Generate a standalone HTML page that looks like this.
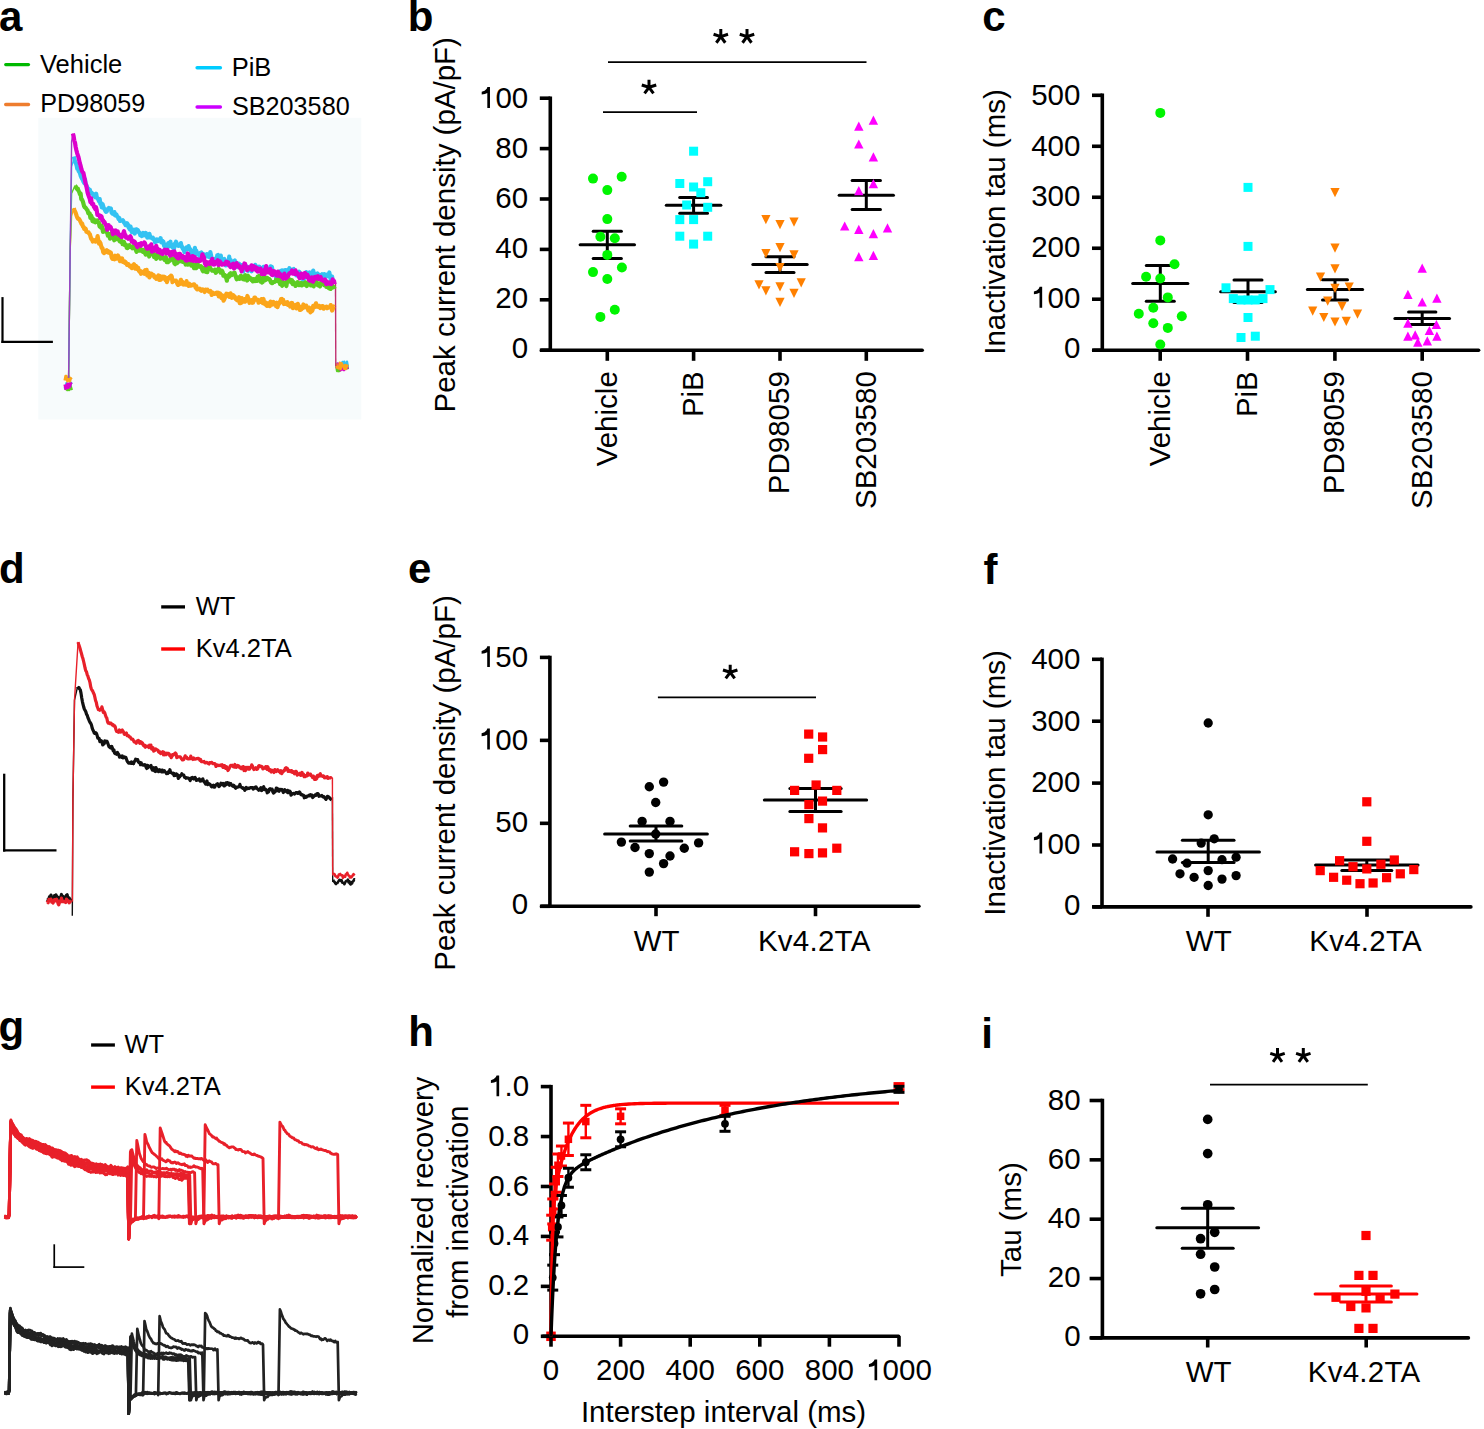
<!DOCTYPE html>
<html><head><meta charset="utf-8"><style>
html,body{margin:0;padding:0;background:#fff;}
svg{display:block;font-family:"Liberation Sans", sans-serif;}
</style></head><body>
<svg width="1484" height="1429" viewBox="0 0 1484 1429">
<rect width="1484" height="1429" fill="#fff"/>
<line x1="580.1" y1="244.7" x2="634.5" y2="244.7" stroke="#000" stroke-width="3.0" stroke-linecap="round"/>
<line x1="593.2" y1="231.3" x2="621.4" y2="231.3" stroke="#000" stroke-width="3.0" stroke-linecap="round"/>
<line x1="593.2" y1="258.5" x2="621.4" y2="258.5" stroke="#000" stroke-width="3.0" stroke-linecap="round"/>
<line x1="607.3" y1="231.3" x2="607.3" y2="258.5" stroke="#000" stroke-width="3.0" stroke-linecap="butt"/>
<line x1="666.3" y1="205.2" x2="720.9" y2="205.2" stroke="#000" stroke-width="3.0" stroke-linecap="round"/>
<line x1="679.7" y1="197.5" x2="707.5" y2="197.5" stroke="#000" stroke-width="3.0" stroke-linecap="round"/>
<line x1="679.7" y1="213.2" x2="707.5" y2="213.2" stroke="#000" stroke-width="3.0" stroke-linecap="round"/>
<line x1="693.6" y1="197.5" x2="693.6" y2="213.2" stroke="#000" stroke-width="3.0" stroke-linecap="butt"/>
<line x1="752.8" y1="264.4" x2="807.2" y2="264.4" stroke="#000" stroke-width="3.0" stroke-linecap="round"/>
<line x1="766" y1="256.7" x2="794" y2="256.7" stroke="#000" stroke-width="3.0" stroke-linecap="round"/>
<line x1="766" y1="272.6" x2="794" y2="272.6" stroke="#000" stroke-width="3.0" stroke-linecap="round"/>
<line x1="780" y1="256.7" x2="780" y2="272.6" stroke="#000" stroke-width="3.0" stroke-linecap="butt"/>
<line x1="839.15" y1="195.2" x2="893.45" y2="195.2" stroke="#000" stroke-width="3.0" stroke-linecap="round"/>
<line x1="852.15" y1="180.6" x2="880.45" y2="180.6" stroke="#000" stroke-width="3.0" stroke-linecap="round"/>
<line x1="852.15" y1="209.6" x2="880.45" y2="209.6" stroke="#000" stroke-width="3.0" stroke-linecap="round"/>
<line x1="866.3" y1="180.6" x2="866.3" y2="209.6" stroke="#000" stroke-width="3.0" stroke-linecap="butt"/>
<line x1="1132.7" y1="283.6" x2="1187.9" y2="283.6" stroke="#000" stroke-width="3.0" stroke-linecap="round"/>
<line x1="1146.3" y1="265.5" x2="1174.3" y2="265.5" stroke="#000" stroke-width="3.0" stroke-linecap="round"/>
<line x1="1146.3" y1="301.2" x2="1174.3" y2="301.2" stroke="#000" stroke-width="3.0" stroke-linecap="round"/>
<line x1="1160.3" y1="265.5" x2="1160.3" y2="301.2" stroke="#000" stroke-width="3.0" stroke-linecap="butt"/>
<line x1="1220.65" y1="291.7" x2="1275.35" y2="291.7" stroke="#000" stroke-width="3.0" stroke-linecap="round"/>
<line x1="1234" y1="280" x2="1262" y2="280" stroke="#000" stroke-width="3.0" stroke-linecap="round"/>
<line x1="1234" y1="302.5" x2="1262" y2="302.5" stroke="#000" stroke-width="3.0" stroke-linecap="round"/>
<line x1="1248" y1="280" x2="1248" y2="302.5" stroke="#000" stroke-width="3.0" stroke-linecap="butt"/>
<line x1="1307.35" y1="289.6" x2="1362.65" y2="289.6" stroke="#000" stroke-width="3.0" stroke-linecap="round"/>
<line x1="1322.5" y1="279.8" x2="1347.5" y2="279.8" stroke="#000" stroke-width="3.0" stroke-linecap="round"/>
<line x1="1322.5" y1="300" x2="1347.5" y2="300" stroke="#000" stroke-width="3.0" stroke-linecap="round"/>
<line x1="1335" y1="279.8" x2="1335" y2="300" stroke="#000" stroke-width="3.0" stroke-linecap="butt"/>
<line x1="1394.85" y1="318.6" x2="1449.55" y2="318.6" stroke="#000" stroke-width="3.0" stroke-linecap="round"/>
<line x1="1408.55" y1="312.1" x2="1435.85" y2="312.1" stroke="#000" stroke-width="3.0" stroke-linecap="round"/>
<line x1="1408.55" y1="324.5" x2="1435.85" y2="324.5" stroke="#000" stroke-width="3.0" stroke-linecap="round"/>
<line x1="1422.2" y1="312.1" x2="1422.2" y2="324.5" stroke="#000" stroke-width="3.0" stroke-linecap="butt"/>
<line x1="604.65" y1="834" x2="707.35" y2="834" stroke="#000" stroke-width="3.0" stroke-linecap="round"/>
<line x1="630.2" y1="826" x2="681.8" y2="826" stroke="#000" stroke-width="3.0" stroke-linecap="round"/>
<line x1="630.2" y1="841" x2="681.8" y2="841" stroke="#000" stroke-width="3.0" stroke-linecap="round"/>
<line x1="656" y1="826" x2="656" y2="841" stroke="#000" stroke-width="3.0" stroke-linecap="butt"/>
<line x1="764.35" y1="800" x2="866.65" y2="800" stroke="#000" stroke-width="3.0" stroke-linecap="round"/>
<line x1="789.85" y1="788.6" x2="841.15" y2="788.6" stroke="#000" stroke-width="3.0" stroke-linecap="round"/>
<line x1="789.85" y1="811.4" x2="841.15" y2="811.4" stroke="#000" stroke-width="3.0" stroke-linecap="round"/>
<line x1="815.5" y1="788.6" x2="815.5" y2="811.4" stroke="#000" stroke-width="3.0" stroke-linecap="butt"/>
<line x1="1156.95" y1="851.9" x2="1259.45" y2="851.9" stroke="#000" stroke-width="3.0" stroke-linecap="round"/>
<line x1="1182.35" y1="840.3" x2="1234.05" y2="840.3" stroke="#000" stroke-width="3.0" stroke-linecap="round"/>
<line x1="1182.35" y1="862.5" x2="1234.05" y2="862.5" stroke="#000" stroke-width="3.0" stroke-linecap="round"/>
<line x1="1208.2" y1="840.3" x2="1208.2" y2="862.5" stroke="#000" stroke-width="3.0" stroke-linecap="butt"/>
<line x1="1315.55" y1="865" x2="1418.05" y2="865" stroke="#000" stroke-width="3.0" stroke-linecap="round"/>
<line x1="1341.8" y1="860" x2="1391.8" y2="860" stroke="#000" stroke-width="3.0" stroke-linecap="round"/>
<line x1="1341.8" y1="870.6" x2="1391.8" y2="870.6" stroke="#000" stroke-width="3.0" stroke-linecap="round"/>
<line x1="1366.8" y1="860" x2="1366.8" y2="870.6" stroke="#000" stroke-width="3.0" stroke-linecap="butt"/>
<rect x="546.25" y="1331.55" width="9.5" height="9.5" fill="#ff0000"/>
<line x1="1156.8" y1="1227.8" x2="1258.6" y2="1227.8" stroke="#000" stroke-width="3.0" stroke-linecap="round"/>
<line x1="1182.2" y1="1208.3" x2="1233.2" y2="1208.3" stroke="#000" stroke-width="3.0" stroke-linecap="round"/>
<line x1="1182.2" y1="1248.2" x2="1233.2" y2="1248.2" stroke="#000" stroke-width="3.0" stroke-linecap="round"/>
<line x1="1207.7" y1="1208.3" x2="1207.7" y2="1248.2" stroke="#000" stroke-width="3.0" stroke-linecap="butt"/>
<line x1="1315.05" y1="1294.1" x2="1416.95" y2="1294.1" stroke="#ff0000" stroke-width="3.0" stroke-linecap="round"/>
<line x1="1340.65" y1="1286" x2="1391.35" y2="1286" stroke="#ff0000" stroke-width="3.0" stroke-linecap="round"/>
<line x1="1340.65" y1="1301.9" x2="1391.35" y2="1301.9" stroke="#ff0000" stroke-width="3.0" stroke-linecap="round"/>
<line x1="1366" y1="1286" x2="1366" y2="1301.9" stroke="#ff0000" stroke-width="3.0" stroke-linecap="butt"/>
<text x="-1" y="31" font-size="42" text-anchor="start" font-weight="bold" fill="#000">a</text>
<line x1="5.7" y1="64.55" x2="28.5" y2="64.55" stroke="#00b900" stroke-width="3.2" stroke-linecap="round"/>
<text x="40" y="72.5" font-size="25.5" text-anchor="start" font-weight="normal" fill="#000">Vehicle</text>
<line x1="5.7" y1="104.5" x2="28.5" y2="104.5" stroke="#ee7d2e" stroke-width="3.3" stroke-linecap="round"/>
<text x="40.3" y="112.2" font-size="25.2" text-anchor="start" font-weight="normal" fill="#000">PD98059</text>
<line x1="197.1" y1="67.8" x2="220.4" y2="67.8" stroke="#00ccff" stroke-width="3.4" stroke-linecap="round"/>
<text x="231.7" y="75.6" font-size="25.5" text-anchor="start" font-weight="normal" fill="#000">PiB</text>
<line x1="197.1" y1="106.95" x2="220.4" y2="106.95" stroke="#cc00ff" stroke-width="3.4" stroke-linecap="round"/>
<text x="232" y="114.7" font-size="25.2" text-anchor="start" font-weight="normal" fill="#000">SB203580</text>
<rect x="38.3" y="117.8" width="323" height="301.7" fill="#f7fbfc"/>
<polyline points="64.6,387.86 65.5,388.69 66.4,389.07 67.3,390.1 68.2,388.68 69.1,389.96 70,383.7 70.9,386.76 71.8,390.1" fill="none" stroke="#5ccc22" stroke-width="2.4" stroke-linejoin="round"/>
<polyline points="64.6,387.04 65.5,388.81 66.4,383.29 67.3,385.78 68.2,384.23 69.1,386.31 70,386.52 70.9,382.59 71.8,384.02" fill="none" stroke="#33c2f2" stroke-width="2.4" stroke-linejoin="round"/>
<polyline points="64.6,384.46 65.5,388.91 66.4,387.86 67.3,383.62 68.2,388.08 69.1,383.47 70,386.82 70.9,383.39 71.8,382.51" fill="none" stroke="#dd00cc" stroke-width="2.4" stroke-linejoin="round"/>
<polyline points="64.6,380.6 65.5,375.97 66.4,376.01 67.3,381.38 68.2,380.61 69.1,376.53 70,381.23 70.9,378.27 71.8,379.24" fill="none" stroke="#fba51a" stroke-width="2.4" stroke-linejoin="round"/>
<polyline points="336.2,365.93 337.1,371.09 338,369.33 338.9,371.27 339.8,370.76 340.7,366.59 341.6,367.03 342.5,365.66 343.4,365.52 344.3,364.96 345.2,366.61 346.1,368.72 347,364.52 347.9,369.25" fill="none" stroke="#5ccc22" stroke-width="2.4" stroke-linejoin="round"/>
<polyline points="336.2,363.87 337.1,363.67 338,367.23 338.9,364.87 339.8,363.71 340.7,364.87 341.6,366.43 342.5,361.9 343.4,368.33 344.3,361.66 345.2,366.75 346.1,367.41 347,361.63 347.9,367.01" fill="none" stroke="#33c2f2" stroke-width="2.4" stroke-linejoin="round"/>
<polyline points="336.2,366.06 337.1,367.55 338,363.56 338.9,363.83 339.8,364.77 340.7,370.19 341.6,364.88 342.5,368.79 343.4,370.01 344.3,370.09 345.2,365.91 346.1,365.98 347,367.17 347.9,368.93" fill="none" stroke="#dd00cc" stroke-width="2.4" stroke-linejoin="round"/>
<polyline points="336.2,363.26 337.1,367.74 338,368.08 338.9,368.52 339.8,362.76 340.7,369.12 341.6,363.14 342.5,364.89 343.4,366.78 344.3,368.93 345.2,364.88 346.1,368.97 347,366.32 347.9,364.69" fill="none" stroke="#fba51a" stroke-width="2.4" stroke-linejoin="round"/>
<polyline points="68.6,378 70.2,250 71.6,216 73.8,208" fill="none" stroke="#fba51a" stroke-width="1.4" stroke-linejoin="round"/>
<polyline points="68.6,378 70.2,250 71.6,193.4 75,185.4" fill="none" stroke="#5ccc22" stroke-width="1.4" stroke-linejoin="round"/>
<polyline points="68.6,378 70.2,250 71.6,166.9 73.8,158.9" fill="none" stroke="#33c2f2" stroke-width="1.4" stroke-linejoin="round"/>
<polyline points="68.6,378 70.2,250 71.6,141.6 72.9,133.6" fill="none" stroke="#a040c0" stroke-width="1.4" stroke-linejoin="round"/>
<line x1="335.5" y1="283" x2="335.8" y2="366" stroke="#c03070" stroke-width="1.4" stroke-linecap="butt"/>
<polyline points="73.8,208.18 74.5,210.62 75.2,211.67 75.9,213.56 76.6,215.71 77.3,217.56 78,218.84 78.7,218.65 79.4,219.54 80.1,220.8 80.8,222.27 81.5,223.97 82.2,223.63 82.9,226.55 83.6,226.9 84.3,228.96 85,228.28 85.7,228.87 86.4,231.72 87.1,231.93 87.8,232.25 88.5,232.36 89.2,233.64 89.9,234.33 90.6,236.99 91.3,239.05 92,239.04 92.7,241.5 93.4,240.91 94.1,241.01 94.8,240.33 95.5,241.61 96.2,240.68 96.9,239.94 97.6,236.1 98.3,239.85 99,243.66 99.7,241.95 100.4,243.03 101.1,245.96 101.8,248.14 102.5,248.06 103.2,252.17 103.9,253.05 104.6,251.37 105.3,252.3 106,250.81 106.7,250.26 107.4,251.24 108.1,252.42 108.8,251.42 109.5,252.76 110.2,252.24 110.9,252.88 111.6,257.06 112.3,258.71 113,258.37 113.7,259.06 114.4,259.26 115.1,255.72 115.8,256.4 116.5,258.72 117.2,256.45 117.9,255.47 118.6,256.69 119.3,258.59 120,261.16 120.7,260.47 121.4,260.39 122.1,258.48 122.8,261.81 123.5,261.28 124.2,261.36 124.9,262.75 125.6,262.09 126.3,263.39 127,264.77 127.7,264.17 128.4,264.15 129.1,265.37 129.8,266.53 130.5,266.41 131.2,266.89 131.9,268.11 132.6,265.51 133.3,266.33 134,264.13 134.7,265.62 135.4,268.74 136.1,266.05 136.8,266.89 137.5,269.04 138.2,267.89 138.9,270.84 139.6,271.78 140.3,270.9 141,273.76 141.7,272.25 142.4,271.88 143.1,271.84 143.8,272.68 144.5,273.74 145.2,270.24 145.9,272.96 146.6,269.84 147.3,275.49 148,274.85 148.7,272.65 149.4,277.34 150.1,276.12 150.8,275.56 151.5,273.75 152.2,274.57 152.9,274.85 153.6,275.04 154.3,277.06 155,277.73 155.7,276.74 156.4,278.86 157.1,278.14 157.8,276.96 158.5,275.48 159.2,279.85 159.9,276.17 160.6,279.77 161.3,277.67 162,278.79 162.7,276.75 163.4,277.95 164.1,276.73 164.8,276.92 165.5,280.02 166.2,278.42 166.9,282.08 167.6,279.87 168.3,277.83 169,278.52 169.7,276.83 170.4,276.92 171.1,275.6 171.8,276.73 172.5,282.12 173.2,280.83 173.9,280.53 174.6,280.75 175.3,280.98 176,280.72 176.7,282.09 177.4,283.95 178.1,284.91 178.8,284.45 179.5,284.28 180.2,281.81 180.9,279.8 181.6,282.42 182.3,281.76 183,284.37 183.7,284.55 184.4,284.45 185.1,284.53 185.8,284.6 186.5,281.05 187.2,284.97 187.9,284.44 188.6,285.83 189.3,283.72 190,285.18 190.7,285.67 191.4,285.52 192.1,284.8 192.8,284.95 193.5,284.38 194.2,284.39 194.9,285.53 195.6,287.69 196.3,286.26 197,289.29 197.7,289.34 198.4,289.07 199.1,289.27 199.8,288.61 200.5,290.07 201.2,290.68 201.9,289.65 202.6,289.34 203.3,290.55 204,291.02 204.7,291.94 205.4,289.54 206.1,290.26 206.8,289.97 207.5,289.72 208.2,290.94 208.9,291.53 209.6,291.08 210.3,290.95 211,291.81 211.7,294.92 212.4,292.43 213.1,292.88 213.8,293.42 214.5,293.87 215.2,293.44 215.9,293.67 216.6,292.81 217.3,294.07 218,292.69 218.7,296.43 219.4,295.9 220.1,293.51 220.8,295.94 221.5,298.05 222.2,295.2 222.9,297.67 223.6,300.66 224.3,299.29 225,297.55 225.7,295.15 226.4,293.81 227.1,294.86 227.8,294.09 228.5,295.39 229.2,296.84 229.9,296.94 230.6,293.38 231.3,295.5 232,297.77 232.7,296.16 233.4,295.31 234.1,296.97 234.8,296.69 235.5,298.74 236.2,299.39 236.9,300.15 237.6,298.33 238.3,300.16 239,297.22 239.7,303.07 240.4,298.37 241.1,303.04 241.8,298.18 242.5,299.3 243.2,299.11 243.9,301.58 244.6,299.02 245.3,301.62 246,299.79 246.7,299.22 247.4,295.99 248.1,297.88 248.8,300.6 249.5,302.75 250.2,301.8 250.9,301.41 251.6,300.11 252.3,302.81 253,302.53 253.7,301.08 254.4,297.71 255.1,297.65 255.8,298.73 256.5,299.64 257.2,299.54 257.9,299.93 258.6,302.72 259.3,302.07 260,301.15 260.7,301.66 261.4,299.12 262.1,299.63 262.8,303.12 263.5,298.98 264.2,303.12 264.9,304.3 265.6,302.56 266.3,304.64 267,305.86 267.7,303.27 268.4,304.66 269.1,304.49 269.8,306.18 270.5,301.62 271.2,304.5 271.9,304.69 272.6,302.76 273.3,301.93 274,303.41 274.7,304.62 275.4,303.41 276.1,306.12 276.8,302.72 277.5,307.08 278.2,304.67 278.9,303.99 279.6,302.11 280.3,302.22 281,299.11 281.7,298.98 282.4,300.36 283.1,299.72 283.8,304.03 284.5,302.1 285.2,302.59 285.9,303.88 286.6,302.51 287.3,302.22 288,304.95 288.7,304.48 289.4,303.66 290.1,306.51 290.8,305.48 291.5,302.97 292.2,303.11 292.9,308.2 293.6,307.05 294.3,305.84 295,305.96 295.7,304.92 296.4,308.36 297.1,308.02 297.8,303.82 298.5,306.83 299.2,306.22 299.9,310 300.6,309.9 301.3,309.4 302,307.75 302.7,308.18 303.4,304.48 304.1,307.5 304.8,306.52 305.5,306.03 306.2,305.72 306.9,307.96 307.6,307.94 308.3,310.38 309,307.61 309.7,309.35 310.4,312.36 311.1,308.69 311.8,311.3 312.5,310.08 313.2,305.86 313.9,305.78 314.6,307.16 315.3,305.1 316,303.32 316.7,306.67 317.4,305.84 318.1,306.81 318.8,305.78 319.5,306.04 320.2,308.03 320.9,307.67 321.6,307.71 322.3,306.1 323,306.35 323.7,308.68 324.4,307.86 325.1,307.36 325.8,307.04 326.5,306.64 327.2,308.2 327.9,307.23 328.6,307.5 329.3,307.23 330,306.84 330.7,305.07 331.4,307.32 332.1,310.51 332.8,309.08 333.5,306.43 334.2,306.98" fill="none" stroke="#fba51a" stroke-width="4.2" stroke-linejoin="round"/>
<polyline points="75,185.83 75.7,186.37 76.4,188.14 77.1,189.16 77.8,188.63 78.5,190.71 79.2,191.89 79.9,194.02 80.6,193.62 81.3,199.17 82,199.47 82.7,201.15 83.4,203.39 84.1,206.19 84.8,207.36 85.5,207.54 86.2,208.63 86.9,209.76 87.6,210.64 88.3,213.31 89,213.74 89.7,213.51 90.4,217.9 91.1,215.56 91.8,217.27 92.5,221.14 93.2,219.07 93.9,221.61 94.6,220.6 95.3,222.24 96,220.5 96.7,221.15 97.4,220.45 98.1,222.21 98.8,222.52 99.5,226.21 100.2,226.93 100.9,227.45 101.6,225.72 102.3,227.51 103,231.88 103.7,231.18 104.4,230.26 105.1,231.19 105.8,231.63 106.5,231.32 107.2,232.84 107.9,235.67 108.6,235.21 109.3,234.46 110,238.58 110.7,234.69 111.4,233.31 112.1,237.01 112.8,235.55 113.5,237.83 114.2,240.27 114.9,237.02 115.6,236.12 116.3,239.16 117,237.8 117.7,237.14 118.4,238.64 119.1,240.19 119.8,241.41 120.5,238.17 121.2,242.04 121.9,241.14 122.6,244.16 123.3,244.19 124,242.03 124.7,244.94 125.4,245.23 126.1,244.99 126.8,248 127.5,248.09 128.2,247.23 128.9,246.98 129.6,245.22 130.3,246.96 131,246.93 131.7,247.18 132.4,248.22 133.1,247.81 133.8,245.69 134.5,247.98 135.2,248.62 135.9,250.23 136.6,251.77 137.3,248.94 138,250.69 138.7,247.64 139.4,250.73 140.1,250.26 140.8,249.25 141.5,249.97 142.2,251.43 142.9,251.77 143.6,250.02 144.3,250.51 145,253.24 145.7,254.57 146.4,253.19 147.1,252.22 147.8,248.85 148.5,252.62 149.2,256.51 149.9,254.85 150.6,254.12 151.3,253.82 152,251.33 152.7,250.9 153.4,253.03 154.1,257.25 154.8,256.59 155.5,255.17 156.2,258.86 156.9,255.92 157.6,253.88 158.3,255.19 159,253.08 159.7,256.37 160.4,258.69 161.1,257.25 161.8,258.13 162.5,257.46 163.2,258.27 163.9,257.59 164.6,259.74 165.3,258.6 166,257.27 166.7,262.11 167.4,260.14 168.1,262.17 168.8,260.92 169.5,260.97 170.2,260.62 170.9,257.71 171.6,258.89 172.3,259.13 173,259.53 173.7,258.62 174.4,263.38 175.1,264.15 175.8,257.38 176.5,258.37 177.2,263.06 177.9,261.62 178.6,260.63 179.3,260.18 180,261.23 180.7,260.54 181.4,261.3 182.1,260.31 182.8,261.9 183.5,260.48 184.2,261.69 184.9,261.92 185.6,264.5 186.3,263.55 187,262.5 187.7,264.67 188.4,263 189.1,262.55 189.8,262.91 190.5,262.87 191.2,265.5 191.9,262.35 192.6,263.82 193.3,265.95 194,268.15 194.7,264.86 195.4,265.58 196.1,268.22 196.8,266.97 197.5,263.33 198.2,266.7 198.9,266 199.6,266.31 200.3,266.9 201,266.19 201.7,267.47 202.4,270.2 203.1,271.29 203.8,268.12 204.5,269.4 205.2,267.37 205.9,271.87 206.6,269.38 207.3,272.23 208,269.22 208.7,267.28 209.4,266.01 210.1,267.66 210.8,269.09 211.5,269.71 212.2,270.6 212.9,270.27 213.6,270.84 214.3,271.12 215,269.65 215.7,272.8 216.4,272 217.1,269.59 217.8,270.92 218.5,268.53 219.2,269.41 219.9,270.23 220.6,272.52 221.3,271.6 222,270.79 222.7,272.12 223.4,275.74 224.1,275.64 224.8,274.92 225.5,277.04 226.2,277.71 226.9,280.72 227.6,276.33 228.3,275.39 229,276.92 229.7,273.85 230.4,273.33 231.1,274.31 231.8,274.96 232.5,273.32 233.2,273.56 233.9,274.25 234.6,272.75 235.3,275.29 236,277.31 236.7,279.29 237.4,277.25 238.1,277.39 238.8,277.96 239.5,278.82 240.2,278.06 240.9,275.61 241.6,277.15 242.3,277.38 243,279.17 243.7,278.51 244.4,279.42 245.1,275.12 245.8,275.68 246.5,276.75 247.2,280.53 247.9,275.6 248.6,277.77 249.3,277.23 250,278.84 250.7,278.23 251.4,280.11 252.1,279.82 252.8,281.28 253.5,279.2 254.2,279.24 254.9,280.97 255.6,278.91 256.3,278.51 257,280.88 257.7,276.61 258.4,278.03 259.1,275.77 259.8,278.15 260.5,281.55 261.2,280.93 261.9,282.49 262.6,282.19 263.3,277.64 264,280.37 264.7,278.81 265.4,280.21 266.1,277.77 266.8,278.88 267.5,278.07 268.2,279.18 268.9,278.79 269.6,279.41 270.3,280.76 271,282.42 271.7,283.14 272.4,283.14 273.1,282.27 273.8,282.01 274.5,281.93 275.2,281.52 275.9,280.61 276.6,276.5 277.3,280.49 278,281.17 278.7,277.93 279.4,279.74 280.1,284.09 280.8,281.74 281.5,283.64 282.2,285.73 282.9,281.89 283.6,283.29 284.3,283.81 285,283.96 285.7,284.21 286.4,286.06 287.1,281.4 287.8,278.71 288.5,280.57 289.2,281.35 289.9,279.57 290.6,281.38 291.3,282.47 292,280.27 292.7,284.02 293.4,281.95 294.1,284.19 294.8,283.24 295.5,285.87 296.2,283.51 296.9,283.39 297.6,282.17 298.3,283.09 299,285.21 299.7,284.11 300.4,284.53 301.1,282.85 301.8,285.43 302.5,284.87 303.2,283.19 303.9,282.18 304.6,284.6 305.3,282.22 306,285.35 306.7,286.03 307.4,283.76 308.1,284.25 308.8,282.5 309.5,282.38 310.2,282.38 310.9,285.44 311.6,285.22 312.3,284.13 313,284.47 313.7,286.41 314.4,282.3 315.1,280.68 315.8,282.56 316.5,281.12 317.2,284.25 317.9,285.34 318.6,285.59 319.3,285.54 320,286.34 320.7,282.87 321.4,283.91 322.1,283.99 322.8,282.01 323.5,282.8 324.2,285.16 324.9,282.03 325.6,283 326.3,286.89 327,285.7 327.7,284.74 328.4,287.76 329.1,288.26 329.8,288.53 330.5,288.9 331.2,286.55 331.9,284.82 332.6,287.58 333.3,286.68 334,287.39 334.7,288.9" fill="none" stroke="#5ccc22" stroke-width="4.2" stroke-linejoin="round"/>
<polyline points="73.8,156.42 74.5,159.32 75.2,162.17 75.9,163.09 76.6,165.37 77.3,168.74 78,168.78 78.7,171.16 79.4,172.04 80.1,173.72 80.8,176.12 81.5,177.69 82.2,178.89 82.9,180.23 83.6,181.96 84.3,183.06 85,179.23 85.7,184.78 86.4,185.2 87.1,187.13 87.8,188.11 88.5,188.81 89.2,190.66 89.9,189.91 90.6,193.3 91.3,192.45 92,193.63 92.7,193.59 93.4,195.36 94.1,196.22 94.8,195.84 95.5,197.24 96.2,193.72 96.9,198.01 97.6,198.17 98.3,199.5 99,201.36 99.7,199.1 100.4,203.97 101.1,203.16 101.8,207.41 102.5,204 103.2,206.1 103.9,208.52 104.6,209.04 105.3,210.81 106,211.91 106.7,211.63 107.4,209.75 108.1,208.76 108.8,208.04 109.5,208.77 110.2,209.37 110.9,208.57 111.6,212.6 112.3,213.59 113,213.03 113.7,214.21 114.4,212.07 115.1,215.32 115.8,214.97 116.5,214.61 117.2,216.66 117.9,216.9 118.6,218.98 119.3,217.94 120,220.9 120.7,220.68 121.4,220.76 122.1,220.77 122.8,220.24 123.5,221.35 124.2,223.04 124.9,223.43 125.6,225.16 126.3,224.09 127,223.1 127.7,224.12 128.4,226.89 129.1,228.03 129.8,229.37 130.5,226.51 131.2,229.69 131.9,232.13 132.6,230.03 133.3,231.86 134,229.71 134.7,233.55 135.4,231.55 136.1,229.33 136.8,230.23 137.5,229.85 138.2,230.82 138.9,232.55 139.6,232.56 140.3,235.1 141,234.06 141.7,236.04 142.4,235.16 143.1,232.9 143.8,235.42 144.5,233.35 145.2,234.27 145.9,233.04 146.6,235.44 147.3,237.48 148,237.11 148.7,237.38 149.4,233.84 150.1,236.57 150.8,237.03 151.5,237.92 152.2,238.29 152.9,237.81 153.6,239.35 154.3,239.75 155,242.07 155.7,239.63 156.4,241.47 157.1,239.45 157.8,241.13 158.5,240.02 159.2,239.64 159.9,240.17 160.6,238.13 161.3,242.33 162,242.12 162.7,241.08 163.4,241.81 164.1,246.01 164.8,244.41 165.5,245.68 166.2,246.19 166.9,245.44 167.6,246.41 168.3,243.05 169,246.5 169.7,242.58 170.4,241.72 171.1,246.24 171.8,245.65 172.5,247.1 173.2,246.47 173.9,249.29 174.6,243.83 175.3,243.47 176,241.7 176.7,243.54 177.4,245.38 178.1,245.84 178.8,245.73 179.5,244.66 180.2,245.7 180.9,243.03 181.6,246.76 182.3,246.81 183,249.05 183.7,249.61 184.4,251.98 185.1,248.93 185.8,248.79 186.5,247.53 187.2,248.26 187.9,249.06 188.6,246.05 189.3,248.19 190,248.9 190.7,250.27 191.4,252.59 192.1,254.38 192.8,254.85 193.5,254.76 194.2,252.34 194.9,247.78 195.6,251.4 196.3,250.71 197,254.32 197.7,253 198.4,253.83 199.1,254.39 199.8,256.27 200.5,252.89 201.2,252.5 201.9,255.38 202.6,254.86 203.3,253.89 204,256.56 204.7,255.98 205.4,256.56 206.1,256.43 206.8,254.03 207.5,255.48 208.2,256.59 208.9,255.52 209.6,257.08 210.3,252.04 211,255.02 211.7,258.37 212.4,259.62 213.1,259.27 213.8,259.82 214.5,258.97 215.2,260.18 215.9,259.45 216.6,259.93 217.3,255.39 218,254.97 218.7,256.81 219.4,258.2 220.1,258.81 220.8,255.67 221.5,259.84 222.2,259.56 222.9,261.06 223.6,259.43 224.3,259.03 225,261.14 225.7,265.42 226.4,264.49 227.1,262.56 227.8,262.57 228.5,262.58 229.2,256.67 229.9,262.01 230.6,260.09 231.3,263.76 232,265.44 232.7,265.55 233.4,265.32 234.1,261.16 234.8,260.52 235.5,264.55 236.2,262.6 236.9,263.46 237.6,267.04 238.3,265.08 239,263.59 239.7,265.98 240.4,266.95 241.1,265.1 241.8,265.15 242.5,266.76 243.2,271.41 243.9,270.22 244.6,268.37 245.3,268.64 246,267.95 246.7,267.79 247.4,266.81 248.1,270.92 248.8,267.56 249.5,268.99 250.2,268.57 250.9,268.44 251.6,271.28 252.3,267.57 253,269.2 253.7,267.25 254.4,267.02 255.1,264.82 255.8,268.04 256.5,266.53 257.2,267.36 257.9,270.34 258.6,268.66 259.3,266.69 260,271.09 260.7,268.6 261.4,268.39 262.1,268.55 262.8,267.88 263.5,266.81 264.2,267.02 264.9,267.66 265.6,266.95 266.3,270.1 267,270.12 267.7,268.83 268.4,271.12 269.1,270.78 269.8,268.59 270.5,266.29 271.2,267.1 271.9,266.92 272.6,271.07 273.3,273.02 274,273.41 274.7,274.8 275.4,276.03 276.1,275.89 276.8,274.85 277.5,274.22 278.2,272.04 278.9,271.76 279.6,274.79 280.3,271.84 281,270.91 281.7,270.52 282.4,273.3 283.1,270.58 283.8,271.53 284.5,272.8 285.2,270.15 285.9,270.04 286.6,271.75 287.3,270.65 288,272.54 288.7,270.08 289.4,268.18 290.1,271.15 290.8,271.07 291.5,269.97 292.2,270.46 292.9,269.37 293.6,269.04 294.3,271.11 295,271.67 295.7,274.77 296.4,275.37 297.1,274.32 297.8,273.62 298.5,272.99 299.2,271.79 299.9,274.34 300.6,275.09 301.3,276.7 302,278.66 302.7,279.09 303.4,278.46 304.1,277.48 304.8,277.95 305.5,277.13 306.2,272.13 306.9,273.1 307.6,273.46 308.3,274.16 309,274.23 309.7,272.5 310.4,276.01 311.1,274.85 311.8,273.16 312.5,274.18 313.2,270.61 313.9,273.32 314.6,273.59 315.3,276.1 316,275.84 316.7,273.98 317.4,273.44 318.1,274.99 318.8,278.63 319.5,276.55 320.2,274.83 320.9,275.77 321.6,275.76 322.3,274.29 323,279.07 323.7,275.72 324.4,274.11 325.1,274.93 325.8,274.97 326.5,276.33 327.2,274.56 327.9,276.15 328.6,275.09 329.3,272.45 330,276.19 330.7,279.25 331.4,279.81 332.1,276.51 332.8,280.52 333.5,281.62 334.2,282.96" fill="none" stroke="#33c2f2" stroke-width="4.2" stroke-linejoin="round"/>
<polyline points="72.9,133.56 73.6,136.15 74.3,140.58 75,142.63 75.7,147.14 76.4,150.27 77.1,153.06 77.8,155.17 78.5,157.2 79.2,160.4 79.9,163.41 80.6,165.66 81.3,168.68 82,171.01 82.7,172.35 83.4,172.9 84.1,176.08 84.8,179.63 85.5,183.16 86.2,185.3 86.9,188.96 87.6,192.54 88.3,194.81 89,196.96 89.7,198.54 90.4,202.06 91.1,198.38 91.8,203.81 92.5,204.4 93.2,204.02 93.9,206.7 94.6,207.68 95.3,209.21 96,207.28 96.7,210.1 97.4,214.98 98.1,214.83 98.8,215.14 99.5,215.54 100.2,217.94 100.9,216.01 101.6,216.73 102.3,220.71 103,220.12 103.7,222.45 104.4,221.97 105.1,223.56 105.8,224.69 106.5,226.65 107.2,229.76 107.9,226.37 108.6,225.11 109.3,227.59 110,226.52 110.7,227.06 111.4,229.51 112.1,230.01 112.8,234.26 113.5,233.01 114.2,231.92 114.9,230.63 115.6,230.49 116.3,233.38 117,231.16 117.7,231.48 118.4,234.53 119.1,234.92 119.8,235.3 120.5,234.87 121.2,236.9 121.9,237.08 122.6,234.36 123.3,233.37 124,231.18 124.7,234.18 125.4,235.06 126.1,237.73 126.8,236.91 127.5,237.84 128.2,238.71 128.9,237.51 129.6,237.01 130.3,236.33 131,237.55 131.7,241.58 132.4,241.46 133.1,240.74 133.8,242.89 134.5,241.53 135.2,242.69 135.9,244.46 136.6,245.35 137.3,246.96 138,245.39 138.7,244.13 139.4,244.56 140.1,243.83 140.8,245.85 141.5,243.23 142.2,243.67 142.9,244.04 143.6,243.89 144.3,242.44 145,243.16 145.7,246.13 146.4,247.73 147.1,248.58 147.8,246.92 148.5,248.46 149.2,247.53 149.9,245.97 150.6,246.12 151.3,244.31 152,251.6 152.7,248.5 153.4,247.85 154.1,250.56 154.8,248.78 155.5,250.71 156.2,245.89 156.9,248.63 157.6,251.83 158.3,251.94 159,249.67 159.7,249.75 160.4,253.09 161.1,251.43 161.8,253.63 162.5,254.12 163.2,252.91 163.9,250.42 164.6,249.71 165.3,250.57 166,250.07 166.7,253.51 167.4,249.81 168.1,252.31 168.8,251.78 169.5,254.18 170.2,255.66 170.9,254.14 171.6,252.02 172.3,254.83 173,253.66 173.7,251.65 174.4,251.47 175.1,255.59 175.8,253.77 176.5,256.97 177.2,254.19 177.9,258.36 178.6,258.33 179.3,253.88 180,253.82 180.7,256.94 181.4,256.41 182.1,255.66 182.8,257.91 183.5,257.7 184.2,256.99 184.9,258.63 185.6,260.21 186.3,259.76 187,260.55 187.7,253.48 188.4,254.37 189.1,257.34 189.8,259.84 190.5,260.28 191.2,257.04 191.9,258.06 192.6,256.04 193.3,260.92 194,259.27 194.7,256.94 195.4,258.66 196.1,261.17 196.8,260.89 197.5,259.28 198.2,260.01 198.9,260.96 199.6,260.05 200.3,260.71 201,259.38 201.7,258.56 202.4,254.3 203.1,256.26 203.8,256.97 204.5,261.69 205.2,264.05 205.9,265.25 206.6,261.94 207.3,262.76 208,262.69 208.7,262.37 209.4,263.9 210.1,263.41 210.8,261.35 211.5,262.7 212.2,258.75 212.9,264.31 213.6,262.4 214.3,264.56 215,262.21 215.7,262.78 216.4,261.53 217.1,261.56 217.8,260.24 218.5,265.09 219.2,261.24 219.9,261.54 220.6,264 221.3,263.77 222,264.59 222.7,263.68 223.4,264.1 224.1,264.44 224.8,263.64 225.5,264.12 226.2,261.67 226.9,262.07 227.6,263.2 228.3,262.5 229,265.47 229.7,265.13 230.4,267.06 231.1,266.57 231.8,266 232.5,264.11 233.2,263.61 233.9,268.51 234.6,268.04 235.3,265.87 236,264.76 236.7,263.24 237.4,265.76 238.1,266.49 238.8,265.32 239.5,267.3 240.2,268.53 240.9,267.33 241.6,271.27 242.3,269.45 243,266.22 243.7,267.92 244.4,263.45 245.1,263.87 245.8,266.76 246.5,268.55 247.2,270.13 247.9,269.05 248.6,267.41 249.3,268.4 250,268.66 250.7,267.5 251.4,265.36 252.1,269.88 252.8,268.91 253.5,266.13 254.2,267.15 254.9,267.34 255.6,267.16 256.3,270.45 257,267.97 257.7,271.61 258.4,268.77 259.1,270.65 259.8,268.98 260.5,268.68 261.2,271.66 261.9,274.05 262.6,271.67 263.3,270.6 264,273.75 264.7,273.99 265.4,269.03 266.1,266.16 266.8,270.8 267.5,270.08 268.2,272.47 268.9,271.34 269.6,269.49 270.3,268.97 271,273.61 271.7,274.81 272.4,275.04 273.1,271.08 273.8,271.33 274.5,271.4 275.2,274.18 275.9,273.53 276.6,275.67 277.3,273.17 278,271.61 278.7,272.72 279.4,276.2 280.1,273.98 280.8,276.43 281.5,276.72 282.2,276.76 282.9,278.54 283.6,276.73 284.3,273.65 285,278.74 285.7,277.96 286.4,277.93 287.1,276.73 287.8,276.91 288.5,274.74 289.2,273.45 289.9,273.6 290.6,272.71 291.3,272.66 292,270.45 292.7,273.52 293.4,273.39 294.1,273.81 294.8,272.84 295.5,270.39 296.2,274.11 296.9,272.4 297.6,273.83 298.3,275.41 299,276.91 299.7,278.18 300.4,275.7 301.1,273.56 301.8,274.65 302.5,275.26 303.2,278.04 303.9,274.63 304.6,273.09 305.3,273.14 306,275.11 306.7,276.85 307.4,274.8 308.1,276.61 308.8,279.75 309.5,280.46 310.2,279.44 310.9,280.67 311.6,277.42 312.3,281.1 313,281.65 313.7,280.3 314.4,277.2 315.1,276.88 315.8,278.65 316.5,277.99 317.2,276.78 317.9,276.15 318.6,278.9 319.3,277.54 320,277.67 320.7,277.08 321.4,279.87 322.1,279.97 322.8,279.69 323.5,281.02 324.2,280 324.9,279.52 325.6,280.22 326.3,284.15 327,281.68 327.7,283.54 328.4,282.46 329.1,282.45 329.8,283.82 330.5,283.82 331.2,284.13 331.9,283.26 332.6,279.41 333.3,282 334,281 334.7,284.17" fill="none" stroke="#dd00cc" stroke-width="4.2" stroke-linejoin="round"/>
<line x1="2.5" y1="297.1" x2="2.5" y2="343" stroke="#000" stroke-width="2.2" stroke-linecap="butt"/>
<line x1="1.4" y1="341.9" x2="52.9" y2="341.9" stroke="#000" stroke-width="2.2" stroke-linecap="butt"/>
<text x="407.8" y="31" font-size="42" text-anchor="start" font-weight="bold" fill="#000">b</text>
<line x1="550.3" y1="96.5" x2="550.3" y2="350.2" stroke="#000" stroke-width="3.6" stroke-linecap="butt"/>
<line x1="539.8" y1="350.2" x2="550.3" y2="350.2" stroke="#000" stroke-width="3.6" stroke-linecap="butt"/>
<text x="528.2" y="358.3" font-size="29.5" text-anchor="end" font-weight="normal" fill="#000">0</text>
<line x1="539.8" y1="299.8" x2="550.3" y2="299.8" stroke="#000" stroke-width="3.6" stroke-linecap="butt"/>
<text x="528.2" y="308.22" font-size="29.5" text-anchor="end" font-weight="normal" fill="#000">20</text>
<line x1="539.8" y1="249.4" x2="550.3" y2="249.4" stroke="#000" stroke-width="3.6" stroke-linecap="butt"/>
<text x="528.2" y="258.14" font-size="29.5" text-anchor="end" font-weight="normal" fill="#000">40</text>
<line x1="539.8" y1="199" x2="550.3" y2="199" stroke="#000" stroke-width="3.6" stroke-linecap="butt"/>
<text x="528.2" y="208.06" font-size="29.5" text-anchor="end" font-weight="normal" fill="#000">60</text>
<line x1="539.8" y1="148.6" x2="550.3" y2="148.6" stroke="#000" stroke-width="3.6" stroke-linecap="butt"/>
<text x="528.2" y="157.98" font-size="29.5" text-anchor="end" font-weight="normal" fill="#000">80</text>
<line x1="539.8" y1="98.2" x2="550.3" y2="98.2" stroke="#000" stroke-width="3.6" stroke-linecap="butt"/>
<path d="M481.71 94.57L481.71 91.73L484.6 90.64L486.72 88.72L487.4 86.98L489.97 86.98L489.97 107.9L487.31 107.9L487.31 93L484.89 94.09Z" fill="#000"/>
<text x="495.4" y="107.9" font-size="29.5" text-anchor="start" font-weight="normal" fill="#000">0</text>
<text x="511.8" y="107.9" font-size="29.5" text-anchor="start" font-weight="normal" fill="#000">0</text>
<line x1="541.6" y1="350.2" x2="922.2" y2="350.2" stroke="#000" stroke-width="3.6" stroke-linecap="round"/>
<line x1="607.3" y1="350.2" x2="607.3" y2="360.8" stroke="#000" stroke-width="3.6" stroke-linecap="butt"/>
<line x1="693.6" y1="350.2" x2="693.6" y2="360.8" stroke="#000" stroke-width="3.6" stroke-linecap="butt"/>
<line x1="780" y1="350.2" x2="780" y2="360.8" stroke="#000" stroke-width="3.6" stroke-linecap="butt"/>
<line x1="866.3" y1="350.2" x2="866.3" y2="360.8" stroke="#000" stroke-width="3.6" stroke-linecap="butt"/>
<text x="0" y="0" font-size="29.5" text-anchor="end" font-weight="normal" fill="#000" transform="translate(616.7,371.2) rotate(-90)">Vehicle</text>
<text x="0" y="0" font-size="29.5" text-anchor="end" font-weight="normal" fill="#000" transform="translate(703,371.2) rotate(-90)">PiB</text>
<text x="0" y="0" font-size="29.5" text-anchor="end" font-weight="normal" fill="#000" transform="translate(789.4,371.2) rotate(-90)">PD98059</text>
<text x="0" y="0" font-size="29.5" text-anchor="end" font-weight="normal" fill="#000" transform="translate(875.7,371.2) rotate(-90)">SB203580</text>
<text x="0" y="0" font-size="29.5" text-anchor="middle" font-weight="normal" fill="#000" transform="translate(455,224.8) rotate(-90)">Peak current density (pA/pF)</text>
<line x1="608" y1="62" x2="866.5" y2="62" stroke="#000" stroke-width="1.75" stroke-linecap="butt"/>
<line x1="603" y1="112" x2="697" y2="112" stroke="#000" stroke-width="1.75" stroke-linecap="butt"/>
<path d="M649 87.3L649 79.7M649 87.3L656.23 84.95M649 87.3L653.47 93.45M649 87.3L644.53 93.45M649 87.3L641.77 84.95" stroke="#000" stroke-width="3.0" fill="none" stroke-linecap="butt"/>
<path d="M720.8 36.6L720.8 29M720.8 36.6L728.03 34.25M720.8 36.6L725.27 42.75M720.8 36.6L716.33 42.75M720.8 36.6L713.57 34.25" stroke="#000" stroke-width="3.0" fill="none" stroke-linecap="butt"/>
<path d="M747 36.6L747 29M747 36.6L754.23 34.25M747 36.6L751.47 42.75M747 36.6L742.53 42.75M747 36.6L739.77 34.25" stroke="#000" stroke-width="3.0" fill="none" stroke-linecap="butt"/>
<circle cx="593" cy="178.6" r="5.0" fill="#00f500"/>
<circle cx="621.7" cy="176.8" r="5.0" fill="#00f500"/>
<circle cx="607.3" cy="190.1" r="5.0" fill="#00f500"/>
<circle cx="607.3" cy="219.1" r="5.0" fill="#00f500"/>
<circle cx="600.4" cy="236.7" r="5.0" fill="#00f500"/>
<circle cx="614.8" cy="238.3" r="5.0" fill="#00f500"/>
<circle cx="607.3" cy="254.9" r="5.0" fill="#00f500"/>
<circle cx="621.9" cy="267.5" r="5.0" fill="#00f500"/>
<circle cx="593" cy="272.1" r="5.0" fill="#00f500"/>
<circle cx="607.3" cy="279" r="5.0" fill="#00f500"/>
<circle cx="614.8" cy="309.7" r="5.0" fill="#00f500"/>
<circle cx="600.4" cy="316.9" r="5.0" fill="#00f500"/>
<rect x="689.1" y="146.7" width="9" height="9" fill="#00ffff"/>
<rect x="675.3" y="179" width="9" height="9" fill="#00ffff"/>
<rect x="703.2" y="177.2" width="9" height="9" fill="#00ffff"/>
<rect x="689.1" y="182.5" width="9" height="9" fill="#00ffff"/>
<rect x="696.3" y="188.2" width="9" height="9" fill="#00ffff"/>
<rect x="682.2" y="200.5" width="9" height="9" fill="#00ffff"/>
<rect x="703.2" y="202.8" width="9" height="9" fill="#00ffff"/>
<rect x="675.3" y="215.1" width="9" height="9" fill="#00ffff"/>
<rect x="689.1" y="215.1" width="9" height="9" fill="#00ffff"/>
<rect x="675.3" y="231.7" width="9" height="9" fill="#00ffff"/>
<rect x="703.2" y="231.7" width="9" height="9" fill="#00ffff"/>
<rect x="689.1" y="239.6" width="9" height="9" fill="#00ffff"/>
<path d="M761.3 215L770.5 215L765.9 224.2Z" fill="#ff8000"/>
<path d="M775.4 220.1L784.6 220.1L780 229.3Z" fill="#ff8000"/>
<path d="M789.4 217.5L798.6 217.5L794 226.7Z" fill="#ff8000"/>
<path d="M775.4 243.1L784.6 243.1L780 252.3Z" fill="#ff8000"/>
<path d="M761.3 249L770.5 249L765.9 258.2Z" fill="#ff8000"/>
<path d="M789.4 250.3L798.6 250.3L794 259.5Z" fill="#ff8000"/>
<path d="M775.4 263.1L784.6 263.1L780 272.3Z" fill="#ff8000"/>
<path d="M754.4 280.3L763.6 280.3L759 289.5Z" fill="#ff8000"/>
<path d="M796.6 278.2L805.8 278.2L801.2 287.4Z" fill="#ff8000"/>
<path d="M761.3 286.2L770.5 286.2L765.9 295.4Z" fill="#ff8000"/>
<path d="M775.4 282.3L784.6 282.3L780 291.5Z" fill="#ff8000"/>
<path d="M789.4 288.7L798.6 288.7L794 297.9Z" fill="#ff8000"/>
<path d="M775.4 297.7L784.6 297.7L780 306.9Z" fill="#ff8000"/>
<path d="M858.8 121.5L863.5 130.7L854.1 130.7Z" fill="#ff00ff"/>
<path d="M873.4 115.6L878.1 124.8L868.7 124.8Z" fill="#ff00ff"/>
<path d="M858.8 139.4L863.5 148.6L854.1 148.6Z" fill="#ff00ff"/>
<path d="M873.4 152.2L878.1 161.4L868.7 161.4Z" fill="#ff00ff"/>
<path d="M873.4 179.1L878.1 188.3L868.7 188.3Z" fill="#ff00ff"/>
<path d="M858.8 186L863.5 195.2L854.1 195.2Z" fill="#ff00ff"/>
<path d="M844.7 221.4L849.4 230.6L840 230.6Z" fill="#ff00ff"/>
<path d="M858.8 224.7L863.5 233.9L854.1 233.9Z" fill="#ff00ff"/>
<path d="M873.4 229L878.1 238.2L868.7 238.2Z" fill="#ff00ff"/>
<path d="M887.5 223.2L892.2 232.4L882.8 232.4Z" fill="#ff00ff"/>
<path d="M858.8 252.1L863.5 261.3L854.1 261.3Z" fill="#ff00ff"/>
<path d="M873.4 250.8L878.1 260L868.7 260Z" fill="#ff00ff"/>
<text x="982.2" y="31.2" font-size="42" text-anchor="start" font-weight="bold" fill="#000">c</text>
<line x1="1102.3" y1="93.6" x2="1102.3" y2="350.2" stroke="#000" stroke-width="3.6" stroke-linecap="butt"/>
<line x1="1092" y1="350.2" x2="1102.3" y2="350.2" stroke="#000" stroke-width="3.6" stroke-linecap="butt"/>
<text x="1080.4" y="358.3" font-size="29.5" text-anchor="end" font-weight="normal" fill="#000">0</text>
<line x1="1092" y1="299.22" x2="1102.3" y2="299.22" stroke="#000" stroke-width="3.6" stroke-linecap="butt"/>
<path d="M1033.91 294.31L1033.91 291.47L1036.8 290.38L1038.92 288.46L1039.6 286.72L1042.17 286.72L1042.17 307.64L1039.51 307.64L1039.51 292.74L1037.09 293.83Z" fill="#000"/>
<text x="1047.6" y="307.64" font-size="29.5" text-anchor="start" font-weight="normal" fill="#000">0</text>
<text x="1064" y="307.64" font-size="29.5" text-anchor="start" font-weight="normal" fill="#000">0</text>
<line x1="1092" y1="248.24" x2="1102.3" y2="248.24" stroke="#000" stroke-width="3.6" stroke-linecap="butt"/>
<text x="1080.4" y="256.98" font-size="29.5" text-anchor="end" font-weight="normal" fill="#000">200</text>
<line x1="1092" y1="197.26" x2="1102.3" y2="197.26" stroke="#000" stroke-width="3.6" stroke-linecap="butt"/>
<text x="1080.4" y="206.32" font-size="29.5" text-anchor="end" font-weight="normal" fill="#000">300</text>
<line x1="1092" y1="146.28" x2="1102.3" y2="146.28" stroke="#000" stroke-width="3.6" stroke-linecap="butt"/>
<text x="1080.4" y="155.66" font-size="29.5" text-anchor="end" font-weight="normal" fill="#000">400</text>
<line x1="1092" y1="95.3" x2="1102.3" y2="95.3" stroke="#000" stroke-width="3.6" stroke-linecap="butt"/>
<text x="1080.4" y="105" font-size="29.5" text-anchor="end" font-weight="normal" fill="#000">500</text>
<line x1="1093.8" y1="350.2" x2="1478.6" y2="350.2" stroke="#000" stroke-width="3.6" stroke-linecap="round"/>
<line x1="1160.2" y1="350.2" x2="1160.2" y2="360.8" stroke="#000" stroke-width="3.6" stroke-linecap="butt"/>
<line x1="1247.5" y1="350.2" x2="1247.5" y2="360.8" stroke="#000" stroke-width="3.6" stroke-linecap="butt"/>
<line x1="1334.9" y1="350.2" x2="1334.9" y2="360.8" stroke="#000" stroke-width="3.6" stroke-linecap="butt"/>
<line x1="1422.2" y1="350.2" x2="1422.2" y2="360.8" stroke="#000" stroke-width="3.6" stroke-linecap="butt"/>
<text x="0" y="0" font-size="29.5" text-anchor="end" font-weight="normal" fill="#000" transform="translate(1169.6,371.2) rotate(-90)">Vehicle</text>
<text x="0" y="0" font-size="29.5" text-anchor="end" font-weight="normal" fill="#000" transform="translate(1256.9,371.2) rotate(-90)">PiB</text>
<text x="0" y="0" font-size="29.5" text-anchor="end" font-weight="normal" fill="#000" transform="translate(1344.3,371.2) rotate(-90)">PD98059</text>
<text x="0" y="0" font-size="29.5" text-anchor="end" font-weight="normal" fill="#000" transform="translate(1431.6,371.2) rotate(-90)">SB203580</text>
<text x="0" y="0" font-size="29.5" text-anchor="middle" font-weight="normal" fill="#000" transform="translate(1005,222) rotate(-90)">Inactivation tau (ms)</text>
<circle cx="1160.3" cy="112.9" r="5.0" fill="#00f500"/>
<circle cx="1160.3" cy="240.4" r="5.0" fill="#00f500"/>
<circle cx="1174.5" cy="264.2" r="5.0" fill="#00f500"/>
<circle cx="1146.1" cy="276.7" r="5.0" fill="#00f500"/>
<circle cx="1160.3" cy="278.5" r="5.0" fill="#00f500"/>
<circle cx="1167.8" cy="297.4" r="5.0" fill="#00f500"/>
<circle cx="1153.3" cy="307.7" r="5.0" fill="#00f500"/>
<circle cx="1138.8" cy="313.7" r="5.0" fill="#00f500"/>
<circle cx="1181.8" cy="316.2" r="5.0" fill="#00f500"/>
<circle cx="1153.3" cy="323.2" r="5.0" fill="#00f500"/>
<circle cx="1167.8" cy="327.9" r="5.0" fill="#00f500"/>
<circle cx="1160.3" cy="344.5" r="5.0" fill="#00f500"/>
<rect x="1243.5" y="182.9" width="9" height="9" fill="#00ffff"/>
<rect x="1243.5" y="241.9" width="9" height="9" fill="#00ffff"/>
<rect x="1221.5" y="283.3" width="9" height="9" fill="#00ffff"/>
<rect x="1265.5" y="285.1" width="9" height="9" fill="#00ffff"/>
<rect x="1228.8" y="294.1" width="9" height="9" fill="#00ffff"/>
<rect x="1236.5" y="295.5" width="9" height="9" fill="#00ffff"/>
<rect x="1243.5" y="295.5" width="9" height="9" fill="#00ffff"/>
<rect x="1250.8" y="295.5" width="9" height="9" fill="#00ffff"/>
<rect x="1258.5" y="294.1" width="9" height="9" fill="#00ffff"/>
<rect x="1243.5" y="313" width="9" height="9" fill="#00ffff"/>
<rect x="1236.5" y="333" width="9" height="9" fill="#00ffff"/>
<rect x="1250.8" y="331.7" width="9" height="9" fill="#00ffff"/>
<path d="M1330.4 188L1339.6 188L1335 197.2Z" fill="#ff8000"/>
<path d="M1330.4 243.6L1339.6 243.6L1335 252.8Z" fill="#ff8000"/>
<path d="M1330.4 264.3L1339.6 264.3L1335 273.5Z" fill="#ff8000"/>
<path d="M1315.9 272.6L1325.1 272.6L1320.5 281.8Z" fill="#ff8000"/>
<path d="M1330.4 283.7L1339.6 283.7L1335 292.9Z" fill="#ff8000"/>
<path d="M1344.6 282.4L1353.8 282.4L1349.2 291.6Z" fill="#ff8000"/>
<path d="M1323.1 296.6L1332.3 296.6L1327.7 305.8Z" fill="#ff8000"/>
<path d="M1337.4 301.8L1346.6 301.8L1342 311Z" fill="#ff8000"/>
<path d="M1308.1 306.5L1317.3 306.5L1312.7 315.7Z" fill="#ff8000"/>
<path d="M1352.9 309.6L1362.1 309.6L1357.5 318.8Z" fill="#ff8000"/>
<path d="M1319.2 312.9L1328.4 312.9L1323.8 322.1Z" fill="#ff8000"/>
<path d="M1330.4 317.4L1339.6 317.4L1335 326.6Z" fill="#ff8000"/>
<path d="M1341.7 316.8L1350.9 316.8L1346.3 326Z" fill="#ff8000"/>
<path d="M1422.2 263.5L1426.9 272.7L1417.5 272.7Z" fill="#ff00ff"/>
<path d="M1407.9 289.7L1412.6 298.9L1403.2 298.9Z" fill="#ff00ff"/>
<path d="M1436.9 293.5L1441.6 302.7L1432.2 302.7Z" fill="#ff00ff"/>
<path d="M1422.2 297.4L1426.9 306.6L1417.5 306.6Z" fill="#ff00ff"/>
<path d="M1407.9 318.6L1412.6 327.8L1403.2 327.8Z" fill="#ff00ff"/>
<path d="M1436.4 319.9L1441.1 329.1L1431.7 329.1Z" fill="#ff00ff"/>
<path d="M1429.4 325.9L1434.1 335.1L1424.7 335.1Z" fill="#ff00ff"/>
<path d="M1407.9 331.6L1412.6 340.8L1403.2 340.8Z" fill="#ff00ff"/>
<path d="M1415.2 330.3L1419.9 339.5L1410.5 339.5Z" fill="#ff00ff"/>
<path d="M1436.9 331.6L1441.6 340.8L1432.2 340.8Z" fill="#ff00ff"/>
<path d="M1417.8 337.5L1422.5 346.7L1413.1 346.7Z" fill="#ff00ff"/>
<path d="M1427.3 336.2L1432 345.4L1422.6 345.4Z" fill="#ff00ff"/>
<text x="-1" y="583.3" font-size="42" text-anchor="start" font-weight="bold" fill="#000">d</text>
<line x1="161.2" y1="606.9" x2="185" y2="606.9" stroke="#000" stroke-width="3.3" stroke-linecap="butt"/>
<text x="195.8" y="614.6" font-size="25.5" text-anchor="start" font-weight="normal" fill="#000">WT</text>
<line x1="161.2" y1="649" x2="185" y2="649" stroke="#ff0000" stroke-width="3.4" stroke-linecap="butt"/>
<text x="195.8" y="656.8" font-size="25.5" text-anchor="start" font-weight="normal" fill="#000">Kv4.2TA</text>
<polyline points="46.8,899.63 47.5,900.02 48.2,899.24 48.9,898.42 49.6,896.72 50.3,897.33 51,895.02 51.7,897.94 52.4,900.69 53.1,899.76 53.8,899.82 54.5,895.65 55.2,895.85 55.9,894.83 56.6,896.68 57.3,898.12 58,897.23 58.7,898.26 59.4,897.77 60.1,898.75 60.8,897.04 61.5,894.48 62.2,897.42 62.9,896.33 63.6,899.27 64.3,897.95 65,896.94 65.7,898.81 66.4,895.18 67.1,894.68 67.8,897.92 68.5,898.75 69.2,897.93 69.9,900.96 70.6,899.03 71.3,898.34" fill="none" stroke="#111" stroke-width="3.2" stroke-linejoin="round"/>
<polyline points="72.3,915.8 72.4,897.5 72.9,800 74.5,700 77.5,687.1" fill="none" stroke="#111" stroke-width="1.4" stroke-linejoin="round"/>
<polyline points="77.5,686.64 78.2,687.82 78.9,687.53 79.6,689.01 80.3,689.75 81,693.12 81.7,697.74 82.4,701.54 83.1,704.6 83.8,707.38 84.5,709.37 85.2,710.53 85.9,712.02 86.6,714.45 87.3,715.45 88,717.85 88.7,719.45 89.4,721.16 90.1,722.47 90.8,723.46 91.5,725.1 92.2,728.16 92.9,730.02 93.6,731.28 94.3,733.1 95,733.43 95.7,732.7 96.4,733.39 97.1,735.37 97.8,738.03 98.5,737.95 99.2,738.52 99.9,741.58 100.6,741.53 101.3,740.74 102,741.71 102.7,744.93 103.4,743.49 104.1,743.78 104.8,740.86 105.5,741.6 106.2,742.02 106.9,741.19 107.6,742.74 108.3,744.69 109,746.76 109.7,746.35 110.4,747.82 111.1,748.13 111.8,746.53 112.5,748.39 113.2,750.73 113.9,749.85 114.6,753.09 115.3,753.53 116,753.21 116.7,754.25 117.4,752.38 118.1,753.58 118.8,754.71 119.5,757.1 120.2,756.78 120.9,756.26 121.6,757.34 122.3,755.92 123,757.9 123.7,757.25 124.4,756.85 125.1,757.79 125.8,757.37 126.5,759.3 127.2,761.3 127.9,762.13 128.6,763.16 129.3,763.07 130,762.68 130.7,763.3 131.4,761.83 132.1,763.23 132.8,762.63 133.5,763.74 134.2,761.41 134.9,761.18 135.6,759.17 136.3,759.66 137,759.6 137.7,759.65 138.4,762.09 139.1,762.49 139.8,762.37 140.5,764.73 141.2,762.79 141.9,764.45 142.6,764.6 143.3,765.18 144,765.06 144.7,764.59 145.4,764.99 146.1,767.3 146.8,768.46 147.5,765.28 148.2,767.64 148.9,766.22 149.6,766.29 150.3,765.99 151,765.42 151.7,768.53 152.4,770.15 153.1,768.64 153.8,767.68 154.5,770.78 155.2,771.48 155.9,767.54 156.6,768.93 157.3,771.21 158,770.41 158.7,771.61 159.4,769.64 160.1,770.84 160.8,770.3 161.5,771.88 162.2,770.08 162.9,771.98 163.6,771.75 164.3,770.62 165,771.75 165.7,772.27 166.4,773.53 167.1,772.95 167.8,773.53 168.5,771.7 169.2,772.5 169.9,769.72 170.6,772.45 171.3,772.62 172,772.9 172.7,773.86 173.4,773.25 174.1,775.62 174.8,773.87 175.5,775.33 176.2,773.86 176.9,774.14 177.6,774.81 178.3,778.5 179,776.13 179.7,776.89 180.4,775.27 181.1,775.45 181.8,773.76 182.5,774.65 183.2,774.72 183.9,775.44 184.6,777.37 185.3,777.33 186,778.29 186.7,777.72 187.4,777.99 188.1,778.12 188.8,778.32 189.5,779.23 190.2,780.58 190.9,778.32 191.6,777.75 192.3,777.46 193,778.53 193.7,778.98 194.4,777.76 195.1,777.39 195.8,779 196.5,780.44 197.2,780.05 197.9,779.89 198.6,779.36 199.3,778.92 200,781.14 200.7,779.83 201.4,780.85 202.1,779.73 202.8,778.86 203.5,781.09 204.2,781.69 204.9,782.79 205.6,784.12 206.3,782.03 207,781.03 207.7,784.65 208.4,784.24 209.1,783.62 209.8,784.2 210.5,784.88 211.2,786.38 211.9,786.85 212.6,785.73 213.3,785.15 214,787.23 214.7,787.26 215.4,785.21 216.1,784.97 216.8,784.2 217.5,783.74 218.2,785.46 218.9,786.48 219.6,786.13 220.3,784.98 221,783.15 221.7,783.69 222.4,784.55 223.1,783.41 223.8,785.84 224.5,785.92 225.2,784.11 225.9,782.92 226.6,784.47 227.3,782.59 228,783.46 228.7,783.21 229.4,785.25 230.1,783.45 230.8,783.59 231.5,785.01 232.2,785.66 232.9,786.21 233.6,785.28 234.3,785.92 235,787.39 235.7,788.24 236.4,787.08 237.1,787.34 237.8,787.01 238.5,786.85 239.2,786.49 239.9,784.39 240.6,786.72 241.3,787.16 242,787.42 242.7,788.32 243.4,788 244.1,788.84 244.8,790.25 245.5,788.98 246.2,787.47 246.9,788.78 247.6,788.23 248.3,788.06 249,788.56 249.7,788.02 250.4,787.59 251.1,787.66 251.8,787.62 252.5,787.56 253.2,789.15 253.9,788.44 254.6,787.47 255.3,788.05 256,786.86 256.7,788.17 257.4,788.87 258.1,789.33 258.8,790.31 259.5,789.58 260.2,788.81 260.9,787.68 261.6,790.54 262.3,789.47 263,788.19 263.7,786.76 264.4,789.6 265.1,789.07 265.8,789.4 266.5,790.1 267.2,792.76 267.9,792.08 268.6,791.93 269.3,789.3 270,788.69 270.7,789.65 271.4,789.22 272.1,789.17 272.8,791.7 273.5,793.11 274.2,791.47 274.9,792.07 275.6,790.88 276.3,788.12 277,788.33 277.7,788.84 278.4,791.02 279.1,791.27 279.8,789.29 280.5,789.55 281.2,790.13 281.9,789.35 282.6,790.35 283.3,792.57 284,790.98 284.7,789.67 285.4,791.13 286.1,791.2 286.8,792.04 287.5,790.29 288.2,792.73 288.9,791.26 289.6,791.04 290.3,791.63 291,795.18 291.7,794.38 292.4,793.82 293.1,793.45 293.8,793.32 294.5,794 295.2,793.67 295.9,792.61 296.6,792.56 297.3,792.5 298,793.43 298.7,792.59 299.4,791.88 300.1,792.78 300.8,794.47 301.5,794.84 302.2,794.54 302.9,795.34 303.6,795.42 304.3,797.8 305,796.13 305.7,797.39 306.4,797.29 307.1,796.08 307.8,796.25 308.5,795.52 309.2,795.12 309.9,795.8 310.6,794.58 311.3,795.28 312,795.06 312.7,797.55 313.4,795.82 314.1,796.27 314.8,795.45 315.5,794.66 316.2,795.29 316.9,793.72 317.6,793.51 318.3,793.85 319,796.29 319.7,796 320.4,795.93 321.1,795.93 321.8,795.43 322.5,796.41 323.2,796.98 323.9,796.56 324.6,797.73 325.3,798.59 326,799.29 326.7,798.09 327.4,796.29 328.1,796.5 328.8,797.11 329.5,797.68 330.2,798.88 330.9,799.26 331.6,800.22" fill="none" stroke="#111" stroke-width="3.2" stroke-linejoin="round"/>
<line x1="332.4" y1="797" x2="332.7" y2="882" stroke="#111" stroke-width="1.4" stroke-linecap="butt"/>
<polyline points="333.2,879.71 333.9,881.65 334.6,881.76 335.3,883.4 336,884.1 336.7,883.1 337.4,883.07 338.1,881.89 338.8,880.85 339.5,879.79 340.2,879.94 340.9,880.85 341.6,880.13 342.3,882.74 343,882.79 343.7,883.13 344.4,884.16 345.1,882.62 345.8,881.24 346.5,880.77 347.2,880.9 347.9,879.55 348.6,882.49 349.3,881.19 350,883.79 350.7,884.42 351.4,882.22 352.1,883.33 352.8,881.33 353.5,880.99 354.2,879.23 354.9,879.54" fill="none" stroke="#111" stroke-width="2.6" stroke-linejoin="round"/>
<polyline points="46.8,902.55 47.5,901.89 48.2,902.72 48.9,899.29 49.6,899.98 50.3,899.33 51,899.13 51.7,902.1 52.4,901.43 53.1,902.99 53.8,900.83 54.5,899.56 55.2,899.69 55.9,900.92 56.6,899.17 57.3,900.86 58,903.44 58.7,904.89 59.4,902.84 60.1,900.88 60.8,901.8 61.5,898.08 62.2,901.64 62.9,900.88 63.6,901.57 64.3,901.92 65,902.05 65.7,902.61 66.4,899.08 67.1,899.99 67.8,900.69 68.5,900.95 69.2,902.86 69.9,901.72 70.6,901.3 71.3,900.64" fill="none" stroke="#e8202a" stroke-width="3.2" stroke-linejoin="round"/>
<polyline points="72.4,901.5 72.9,800 74.5,700 78.1,641.9" fill="none" stroke="#e8202a" stroke-width="1.4" stroke-linejoin="round"/>
<polyline points="78.1,642.07 78.8,644.94 79.5,646.68 80.2,649.07 80.9,651.6 81.6,654.05 82.3,656.77 83,658.84 83.7,661.75 84.4,664.95 85.1,668.25 85.8,670.89 86.5,671.81 87.2,674.74 87.9,676.07 88.6,678.56 89.3,679.93 90,682.62 90.7,686.79 91.4,689.09 92.1,690.27 92.8,691.25 93.5,693.05 94.2,694.44 94.9,697.36 95.6,700.72 96.3,702.34 97,705.98 97.7,707.78 98.4,709.68 99.1,709.38 99.8,710.21 100.5,709.71 101.2,709.35 101.9,706.84 102.6,709.47 103.3,712.43 104,711.71 104.7,712.66 105.4,714.95 106.1,717.13 106.8,717.94 107.5,721.55 108.2,723.17 108.9,722.58 109.6,723.59 110.3,723.09 111,723.13 111.7,724.06 112.4,725.08 113.1,724.63 113.8,725.9 114.5,725.58 115.2,726.58 115.9,729.65 116.6,731.32 117.3,731.41 118,732.01 118.7,732.27 119.4,729.92 120.1,730.63 120.8,732.11 121.5,730.81 122.2,730.05 122.9,730.95 123.6,732.29 124.3,734.36 125,734.03 125.7,733.9 126.4,733 127.1,735.63 127.8,735.39 128.5,735.67 129.2,736.89 129.9,736.77 130.6,737.72 131.3,739.02 132,738.91 132.7,739.21 133.4,740.33 134.1,741.83 134.8,741.79 135.5,742.47 136.2,743.31 136.9,741.27 137.6,741.71 138.3,740.37 139,741.16 139.7,743.27 140.4,741.71 141.1,742.04 141.8,743.66 142.5,743.03 143.2,745.04 143.9,745.77 144.6,745.28 145.3,747.23 146,746.33 146.7,746.08 147.4,746.18 148.1,746.72 148.8,747.49 149.5,745.16 150.2,746.9 150.9,745.07 151.6,749.1 152.3,749.04 153,747.63 153.7,751.21 154.4,750.49 155.1,750.39 155.8,748.95 156.5,749.52 157.2,749.87 157.9,750.19 158.6,751.85 159.3,752.3 160,751.91 160.7,753.54 161.4,753.03 162.1,752.34 162.8,751.58 163.5,754.8 164.2,752.4 164.9,754.79 165.6,753.57 166.3,754.65 167,753.21 167.7,753.9 168.4,753.36 169.1,753.63 169.8,755.77 170.5,755.03 171.2,757.59 171.9,756.4 172.6,754.68 173.3,755.12 174,754 174.7,753.82 175.4,752.96 176.1,753.76 176.8,757.67 177.5,756.82 178.2,756.83 178.9,756.71 179.6,756.99 180.3,756.93 181,757.99 181.7,759.07 182.4,759.88 183.1,759.8 183.8,759.48 184.5,757.68 185.2,755.78 185.9,757.57 186.6,757.14 187.3,758.7 188,758.79 188.7,758.99 189.4,758.72 190.1,758.68 190.8,756.13 191.5,758.69 192.2,758.39 192.9,759.45 193.6,758.04 194.3,759.1 195,759.23 195.7,759.04 196.4,758.6 197.1,758.69 197.8,758.23 198.5,758.24 199.2,758.99 199.9,760.38 200.6,759.52 201.3,761.57 202,761.69 202.7,761.77 203.4,761.71 204.1,761.45 204.8,762.72 205.5,762.96 206.2,762.47 206.9,762.33 207.6,763.02 208.3,763.58 209,764 209.7,762.55 210.4,762.96 211.1,762.54 211.8,762.38 212.5,763.38 213.2,763.73 213.9,763.68 214.6,763.5 215.3,764.17 216,766.48 216.7,764.9 217.4,765.08 218.1,765.35 218.8,765.64 219.5,765.24 220.2,765.28 220.9,764.99 221.6,765.92 222.3,764.76 223,767.45 223.7,767.22 224.4,765.55 225.1,766.96 225.8,768.45 226.5,766.63 227.2,768.33 227.9,770.51 228.6,769.58 229.3,768.23 230,766.5 230.7,765.45 231.4,765.82 232.1,765.26 232.8,766.05 233.5,766.91 234.2,767.03 234.9,764.5 235.6,765.72 236.3,767.23 237,766.21 237.7,765.49 238.4,766.61 239.1,766.28 239.8,767.69 240.5,768.02 241.2,768.69 241.9,767.28 242.6,768.62 243.3,766.59 244,770.52 244.7,767.44 245.4,770.58 246.1,767.25 246.8,767.86 247.5,767.47 248.2,769.1 248.9,767.48 249.6,769.04 250.3,767.58 251,767.12 251.7,764.87 252.4,765.85 253.1,767.75 253.8,769.48 254.5,768.89 255.2,768.73 255.9,767.81 256.6,769.47 257.3,769.31 258,768.09 258.7,765.79 259.4,765.59 260.1,766.19 260.8,766.59 261.5,766.4 262.2,766.85 262.9,768.87 263.6,768.45 264.3,767.78 265,768.23 265.7,766.61 266.4,766.87 267.1,769.33 267.8,766.73 268.5,769.46 269.2,770.46 269.9,769.54 270.6,770.97 271.3,771.94 272,770.2 272.7,771.23 273.4,771.2 274.1,772.47 274.8,769.56 275.5,771.3 276.2,771.52 276.9,770.27 277.6,769.64 278.3,770.61 279,771.56 279.7,770.91 280.4,772.86 281.1,770.73 281.8,773.68 282.5,772.18 283.2,771.64 283.9,770.47 284.6,770.58 285.3,768.27 286,767.75 286.7,768.82 287.4,768.52 288.1,771.44 288.8,770.28 289.5,770.55 290.2,771.63 290.9,770.85 291.6,770.66 292.3,772.46 293,772.28 293.7,771.78 294.4,773.79 295.1,773.21 295.8,771.31 296.5,771.62 297.2,775.08 297.9,774.66 298.6,773.86 299.3,773.92 300,773.29 300.7,775.46 301.4,775.31 302.1,772.48 302.8,774.4 303.5,774.1 304.2,776.74 304.9,776.75 305.6,776.47 306.3,775.4 307,775.73 307.7,773.16 308.4,775.21 309.1,774.48 309.8,774.08 310.5,774.14 311.2,775.82 311.9,776.07 312.6,777.64 313.3,776.08 314,777.15 314.7,779.46 315.4,777.12 316.1,779.25 316.8,778.46 317.5,775.35 318.2,775.36 318.9,776.28 319.6,774.93 320.3,773.73 321,775.97 321.7,775.66 322.4,776.32 323.1,775.8 323.8,776.13 324.5,777.79 325.2,777.56 325.9,777.79 326.6,776.73 327.3,776.65 328,778.4 328.7,778.04 329.4,777.79 330.1,777.72 330.8,777.61 331.5,778.85" fill="none" stroke="#e8202a" stroke-width="3.2" stroke-linejoin="round"/>
<line x1="332.4" y1="777.7" x2="332.7" y2="875.5" stroke="#e8202a" stroke-width="1.4" stroke-linecap="butt"/>
<polyline points="333.2,874.35 333.9,873.91 334.6,874.35 335.3,875.99 336,876.54 336.7,876.61 337.4,877.61 338.1,876.67 338.8,874.59 339.5,874.51 340.2,873.97 340.9,875 341.6,875.37 342.3,875.3 343,877.83 343.7,876.17 344.4,876.7 345.1,876.78 345.8,874.34 346.5,874.29 347.2,872.8 347.9,874.52 348.6,875.48 349.3,876.01 350,877.59 350.7,876.64 351.4,877.35 352.1,876.37 352.8,875.34 353.5,874.19 354.2,874.72 354.9,875.19" fill="none" stroke="#e8202a" stroke-width="2.6" stroke-linejoin="round"/>
<line x1="4.2" y1="773.7" x2="4.2" y2="851.6" stroke="#000" stroke-width="2.3" stroke-linecap="butt"/>
<line x1="3.05" y1="850.4" x2="56.5" y2="850.4" stroke="#000" stroke-width="2.3" stroke-linecap="butt"/>
<text x="408" y="583" font-size="42" text-anchor="start" font-weight="bold" fill="#000">e</text>
<line x1="549.9" y1="655.71" x2="549.9" y2="906.3" stroke="#000" stroke-width="3.6" stroke-linecap="butt"/>
<line x1="539.9" y1="906.3" x2="549.9" y2="906.3" stroke="#000" stroke-width="3.6" stroke-linecap="butt"/>
<text x="528.1" y="914.4" font-size="29.5" text-anchor="end" font-weight="normal" fill="#000">0</text>
<line x1="539.9" y1="823.33" x2="549.9" y2="823.33" stroke="#000" stroke-width="3.6" stroke-linecap="butt"/>
<text x="528.1" y="831.97" font-size="29.5" text-anchor="end" font-weight="normal" fill="#000">50</text>
<line x1="539.9" y1="740.37" x2="549.9" y2="740.37" stroke="#000" stroke-width="3.6" stroke-linecap="butt"/>
<path d="M481.61 736.2L481.61 733.37L484.5 732.28L486.62 730.36L487.3 728.62L489.87 728.62L489.87 749.54L487.21 749.54L487.21 734.64L484.79 735.73Z" fill="#000"/>
<text x="495.3" y="749.54" font-size="29.5" text-anchor="start" font-weight="normal" fill="#000">0</text>
<text x="511.7" y="749.54" font-size="29.5" text-anchor="start" font-weight="normal" fill="#000">0</text>
<line x1="539.9" y1="657.4" x2="549.9" y2="657.4" stroke="#000" stroke-width="3.6" stroke-linecap="butt"/>
<path d="M481.61 653.77L481.61 650.94L484.5 649.85L486.62 647.93L487.3 646.19L489.87 646.19L489.87 667.1L487.21 667.1L487.21 652.21L484.79 653.3Z" fill="#000"/>
<text x="495.3" y="667.1" font-size="29.5" text-anchor="start" font-weight="normal" fill="#000">5</text>
<text x="511.7" y="667.1" font-size="29.5" text-anchor="start" font-weight="normal" fill="#000">0</text>
<line x1="541.7" y1="906.3" x2="918.9" y2="906.3" stroke="#000" stroke-width="3.6" stroke-linecap="round"/>
<line x1="656" y1="906.3" x2="656" y2="916.2" stroke="#000" stroke-width="3.6" stroke-linecap="butt"/>
<line x1="815.5" y1="906.3" x2="815.5" y2="916.2" stroke="#000" stroke-width="3.6" stroke-linecap="butt"/>
<text x="656.6" y="950.8" font-size="29.5" text-anchor="middle" font-weight="normal" fill="#000">WT</text>
<text x="814.3" y="950.8" font-size="29.5" text-anchor="middle" font-weight="normal" fill="#000" letter-spacing="0.25">Kv4.2TA</text>
<text x="0" y="0" font-size="29.5" text-anchor="middle" font-weight="normal" fill="#000" transform="translate(455,783) rotate(-90)">Peak current density (pA/pF)</text>
<line x1="657.9" y1="697.3" x2="816" y2="697.3" stroke="#000" stroke-width="1.8" stroke-linecap="butt"/>
<path d="M730.2 672.3L730.2 664.7M730.2 672.3L737.43 669.95M730.2 672.3L734.67 678.45M730.2 672.3L725.73 678.45M730.2 672.3L722.97 669.95" stroke="#000" stroke-width="3.0" fill="none" stroke-linecap="butt"/>
<circle cx="649.3" cy="786.8" r="4.7" fill="#000"/>
<circle cx="663.6" cy="782.1" r="4.7" fill="#000"/>
<circle cx="655.7" cy="802.5" r="4.7" fill="#000"/>
<circle cx="642.1" cy="821.4" r="4.7" fill="#000"/>
<circle cx="670" cy="821.4" r="4.7" fill="#000"/>
<circle cx="655.7" cy="834" r="4.7" fill="#000"/>
<circle cx="621.4" cy="842.1" r="4.7" fill="#000"/>
<circle cx="698.6" cy="842.9" r="4.7" fill="#000"/>
<circle cx="635" cy="847.5" r="4.7" fill="#000"/>
<circle cx="684.3" cy="848.2" r="4.7" fill="#000"/>
<circle cx="649.3" cy="853.6" r="4.7" fill="#000"/>
<circle cx="670" cy="856" r="4.7" fill="#000"/>
<circle cx="663.6" cy="863.6" r="4.7" fill="#000"/>
<circle cx="649.3" cy="872.1" r="4.7" fill="#000"/>
<rect x="804.1" y="729.5" width="9.2" height="9.2" fill="#ff0000"/>
<rect x="818" y="732.4" width="9.2" height="9.2" fill="#ff0000"/>
<rect x="818" y="745" width="9.2" height="9.2" fill="#ff0000"/>
<rect x="804.1" y="753.7" width="9.2" height="9.2" fill="#ff0000"/>
<rect x="811.5" y="780.4" width="9.2" height="9.2" fill="#ff0000"/>
<rect x="790" y="785.8" width="9.2" height="9.2" fill="#ff0000"/>
<rect x="832.2" y="785.8" width="9.2" height="9.2" fill="#ff0000"/>
<rect x="817.9" y="796.5" width="9.2" height="9.2" fill="#ff0000"/>
<rect x="804.3" y="800" width="9.2" height="9.2" fill="#ff0000"/>
<rect x="804.3" y="814" width="9.2" height="9.2" fill="#ff0000"/>
<rect x="817.9" y="823.3" width="9.2" height="9.2" fill="#ff0000"/>
<rect x="790" y="847.2" width="9.2" height="9.2" fill="#ff0000"/>
<rect x="804.3" y="849" width="9.2" height="9.2" fill="#ff0000"/>
<rect x="817.9" y="848.3" width="9.2" height="9.2" fill="#ff0000"/>
<rect x="832.2" y="843.6" width="9.2" height="9.2" fill="#ff0000"/>
<text x="983.6" y="583.5" font-size="42" text-anchor="start" font-weight="bold" fill="#000">f</text>
<line x1="1102" y1="657.6" x2="1102" y2="906.9" stroke="#000" stroke-width="3.6" stroke-linecap="butt"/>
<line x1="1092" y1="906.9" x2="1102" y2="906.9" stroke="#000" stroke-width="3.6" stroke-linecap="butt"/>
<text x="1080.4" y="915" font-size="29.5" text-anchor="end" font-weight="normal" fill="#000">0</text>
<line x1="1092" y1="845" x2="1102" y2="845" stroke="#000" stroke-width="3.6" stroke-linecap="butt"/>
<path d="M1033.91 840.17L1033.91 837.33L1036.8 836.24L1038.92 834.32L1039.6 832.58L1042.17 832.58L1042.17 853.5L1039.51 853.5L1039.51 838.6L1037.09 839.69Z" fill="#000"/>
<text x="1047.6" y="853.5" font-size="29.5" text-anchor="start" font-weight="normal" fill="#000">0</text>
<text x="1064" y="853.5" font-size="29.5" text-anchor="start" font-weight="normal" fill="#000">0</text>
<line x1="1092" y1="783.1" x2="1102" y2="783.1" stroke="#000" stroke-width="3.6" stroke-linecap="butt"/>
<text x="1080.4" y="792" font-size="29.5" text-anchor="end" font-weight="normal" fill="#000">200</text>
<line x1="1092" y1="721.2" x2="1102" y2="721.2" stroke="#000" stroke-width="3.6" stroke-linecap="butt"/>
<text x="1080.4" y="730.5" font-size="29.5" text-anchor="end" font-weight="normal" fill="#000">300</text>
<line x1="1092" y1="659.3" x2="1102" y2="659.3" stroke="#000" stroke-width="3.6" stroke-linecap="butt"/>
<text x="1080.4" y="669" font-size="29.5" text-anchor="end" font-weight="normal" fill="#000">400</text>
<line x1="1093.8" y1="906.9" x2="1470.9" y2="906.9" stroke="#000" stroke-width="3.6" stroke-linecap="round"/>
<line x1="1208" y1="906.9" x2="1208" y2="916.8" stroke="#000" stroke-width="3.6" stroke-linecap="butt"/>
<line x1="1367" y1="906.9" x2="1367" y2="916.8" stroke="#000" stroke-width="3.6" stroke-linecap="butt"/>
<text x="1208.8" y="950.8" font-size="29.5" text-anchor="middle" font-weight="normal" fill="#000">WT</text>
<text x="1365.6" y="950.8" font-size="29.5" text-anchor="middle" font-weight="normal" fill="#000" letter-spacing="0.25">Kv4.2TA</text>
<text x="0" y="0" font-size="29.5" text-anchor="middle" font-weight="normal" fill="#000" transform="translate(1005,783) rotate(-90)">Inactivation tau (ms)</text>
<circle cx="1208.2" cy="723" r="4.65" fill="#000"/>
<circle cx="1208.2" cy="814.8" r="4.65" fill="#000"/>
<circle cx="1214.2" cy="838.8" r="4.65" fill="#000"/>
<circle cx="1201.2" cy="843.1" r="4.65" fill="#000"/>
<circle cx="1172.6" cy="859" r="4.65" fill="#000"/>
<circle cx="1187" cy="863.2" r="4.65" fill="#000"/>
<circle cx="1222" cy="859.7" r="4.65" fill="#000"/>
<circle cx="1236.1" cy="857.2" r="4.65" fill="#000"/>
<circle cx="1180" cy="873.8" r="4.65" fill="#000"/>
<circle cx="1208.2" cy="870.6" r="4.65" fill="#000"/>
<circle cx="1194.1" cy="877.3" r="4.65" fill="#000"/>
<circle cx="1222" cy="879.1" r="4.65" fill="#000"/>
<circle cx="1236.1" cy="875.6" r="4.65" fill="#000"/>
<circle cx="1208.2" cy="885.5" r="4.65" fill="#000"/>
<rect x="1362.2" y="797.2" width="9.2" height="9.2" fill="#ff0000"/>
<rect x="1362.2" y="836.7" width="9.2" height="9.2" fill="#ff0000"/>
<rect x="1335" y="856.1" width="9.2" height="9.2" fill="#ff0000"/>
<rect x="1389.7" y="855.4" width="9.2" height="9.2" fill="#ff0000"/>
<rect x="1376.3" y="859.7" width="9.2" height="9.2" fill="#ff0000"/>
<rect x="1348.4" y="862.1" width="9.2" height="9.2" fill="#ff0000"/>
<rect x="1362.2" y="864.3" width="9.2" height="9.2" fill="#ff0000"/>
<rect x="1315.6" y="866" width="9.2" height="9.2" fill="#ff0000"/>
<rect x="1409.2" y="865" width="9.2" height="9.2" fill="#ff0000"/>
<rect x="1329" y="872.7" width="9.2" height="9.2" fill="#ff0000"/>
<rect x="1395.7" y="869.2" width="9.2" height="9.2" fill="#ff0000"/>
<rect x="1342.1" y="875.6" width="9.2" height="9.2" fill="#ff0000"/>
<rect x="1382" y="873.1" width="9.2" height="9.2" fill="#ff0000"/>
<rect x="1355.4" y="879.1" width="9.2" height="9.2" fill="#ff0000"/>
<rect x="1368.5" y="878.4" width="9.2" height="9.2" fill="#ff0000"/>
<text x="-1.5" y="1041" font-size="42" text-anchor="start" font-weight="bold" fill="#000">g</text>
<line x1="91.1" y1="1045" x2="114.9" y2="1045" stroke="#000" stroke-width="3.3" stroke-linecap="butt"/>
<text x="124.5" y="1052.7" font-size="25.5" text-anchor="start" font-weight="normal" fill="#000">WT</text>
<line x1="91.1" y1="1087.1" x2="114.9" y2="1087.1" stroke="#ff0000" stroke-width="3.4" stroke-linecap="butt"/>
<text x="124.8" y="1094.7" font-size="25.5" text-anchor="start" font-weight="normal" fill="#000">Kv4.2TA</text>
<line x1="54.25" y1="1244.3" x2="54.25" y2="1267.9" stroke="#000" stroke-width="1.7" stroke-linecap="butt"/>
<line x1="53.4" y1="1267.1" x2="84.3" y2="1267.1" stroke="#000" stroke-width="1.7" stroke-linecap="butt"/>
<polyline points="4.4,1217.31 6.5,1216.71 8.6,1216.84 9.2,1213.8 10.7,1121.2 10.9,1119.99 11.7,1122.28 12.5,1123.69 13.3,1125.74 14.1,1126.36 14.9,1127.87 15.7,1128.63 16.5,1129.65 17.3,1130.95 18.1,1133.12 18.9,1133.67 19.7,1134.64 20.5,1135.88 21.3,1136.25 22.1,1136.78 22.9,1137.03 23.7,1138.38 24.5,1139.44 25.3,1139.29 26.1,1138.79 26.9,1138.39 27.7,1139.36 28.5,1139.36 29.3,1138.64 30.1,1139.42 30.9,1139.81 31.7,1139.98 32.5,1140.11 33.3,1141.16 34.1,1141.09 34.9,1142.07 35.7,1141.28 36.5,1141.62 37.3,1142.35 38.1,1142.11 38.9,1142.82 39.7,1143.42 40.5,1143.65 41.3,1145.08 42.1,1144.36 42.9,1144.53 43.7,1144.46 44.5,1145.35 45.3,1144.55 46.1,1145.64 46.9,1146.06 47.7,1146.28 48.5,1147.52 49.3,1146.59 50.1,1147.35 50.9,1148.41 51.7,1147.94 52.5,1147.95 53.3,1148.89 54.1,1149.51 54.9,1149.59 55.7,1149.65 56.5,1149.97 57.3,1150.33 58.1,1150.04 58.9,1151.06 59.7,1150.43 60.5,1151.15 61.3,1151.29 62.1,1152.7 62.9,1152.63 63.7,1152.53 64.5,1153.27 65.3,1152.92 66.1,1153.88 66.9,1154.26 67.7,1155.42 68.5,1155.88 69.3,1156.61 70.1,1155.75 70.9,1155.72 71.7,1155.51 72.5,1156.33 73.3,1157.78 74.1,1157.99 74.9,1156.57 75.7,1157.19 76.5,1157.5 77.3,1156.86 78.1,1158.73 78.9,1158.77 79.7,1160.84 80.5,1160.87 81.3,1159.29 82.1,1160.7 82.9,1160.04 83.7,1160.28 84.5,1160.34 85.3,1159.88 86.1,1159.91 86.9,1159.77 87.7,1160.42 88.5,1160.57 89.3,1161.58 90.1,1162.86 90.9,1162.89 91.7,1163.14 92.5,1163.16 93.3,1163.69 94.1,1163.96 94.9,1165.01 95.7,1164.19 96.5,1164.63 97.3,1164.5 98.1,1164.27 98.9,1165.06 99.7,1164.82 100.5,1164.15 101.3,1165.39 102.1,1165.24 102.9,1165.33 103.7,1165.54 104.5,1164.85 105.3,1164.49 106.1,1165.6 106.9,1166.1 107.7,1166.57 108.5,1166.67 109.3,1166.9 110.1,1166.83 110.9,1165.21 111.7,1166.39 112.5,1167.65 113.3,1167.93 114.1,1167.39 114.9,1166.54 115.7,1167.29 116.5,1167.77 117.3,1167.76 118.1,1167.04 118.9,1167.49 119.7,1167.86 120.5,1168.06 121.3,1167.58 122.1,1167.81 122.9,1168.01 123.7,1169.42 124.5,1169.09 125.3,1169.31 126.1,1168.15 126.9,1167.82 127.7,1166.9 128.7,1239 129,1218.8 130.4,1152 131.4,1156.23 132.2,1158.9 133,1162.39 133.8,1164.98 134.6,1165.9 135.4,1167.76 136.2,1168.87 137,1170.44 137.8,1171.35 138.6,1171.82 139.4,1172.58 140.2,1172.64 141,1173.79 141.8,1173.29 142.6,1173.58 143.4,1174.46 144.2,1174.64 145,1175.81 145.8,1175.65 146.6,1176.43 147.4,1176.11 148.2,1176.08 149,1176.08 149.8,1176.33 150.6,1176.23 151.4,1176.49 152.2,1175.81 153,1176.22 153.8,1176.69 154.6,1176.25 155.4,1176.55 156.2,1177 157,1176.46 157.8,1176.55 158.6,1176.25 159.4,1177 160.2,1176.14 161,1176.22 161.8,1176.21 162.6,1175.39 163.4,1175.69 164.2,1176.53 165,1176.07 165.8,1176.78 166.6,1176.34 167.4,1176.84 168.2,1176.29 169,1176.57 169.8,1176.82 170.6,1175.96 171.4,1175.86 172.2,1176.3 173,1177.49 173.8,1177.59 174.6,1178.01 175.4,1178.53 176.2,1177.64 177,1177.87 177.8,1177.97 178.6,1178.88 179.4,1179.65 180.2,1179.49 181,1179.31 181.8,1180.28 182.6,1179.29 183.4,1178.66 184.2,1178.24 185,1178.42 185.8,1178.14 186.6,1178.2 187.4,1178.41 188.2,1178.21 189.4,1223.8 190.4,1219.71 191.2,1219.95 192,1219.54 192.8,1218.98 193.6,1219.27 194.4,1218.54 195.2,1217.8 196,1217.13 196.8,1217.37 197.6,1217.02 198.4,1217.44 199.2,1216.13 200,1216.09 200.8,1216.25 201.6,1216.1 202.4,1216.29 203.2,1216.47 204,1216.64 204.8,1216.56 205.6,1216 206.4,1216.48 207.2,1215.67 208,1215.4 208.8,1216.1 209.6,1216.41 210.4,1215.98 211.2,1216.37 212,1216.14 212.8,1216.96 213.6,1217.41 214.4,1216.79 215.2,1217.38 216,1216.24 216.8,1216.84 217.6,1216.25 218.4,1217.28 219.2,1217.15 220,1216.75 220.8,1217.17 221.6,1217.43 222.4,1217.3 223.2,1217.22 224,1217.1 224.8,1217.38 225.6,1217.28 226.4,1216.59 227.2,1216.69 228,1216.73 228.8,1216.94 229.6,1217.11 230.4,1218.11 231.2,1217.69 232,1218.09 232.8,1216.61 233.6,1217.15 234.4,1217.51 235.2,1217.51 236,1217.33 236.8,1216.63 237.6,1217.33 238.4,1217.56 239.2,1217.31 240,1217.81 240.8,1217.06 241.6,1217.32 242.4,1217.53 243.2,1216.62 244,1216.82 244.8,1216.88 245.6,1216.04 246.4,1216.59 247.2,1216.43 248,1216 248.8,1216.51 249.6,1215.84 250.4,1216.7 251.2,1216.41 252,1217.11 252.8,1216.46 253.6,1216.85 254.4,1217.74 255.2,1217.36 256,1217.26 256.8,1217.3 257.6,1216.57 258.4,1216.78 259.2,1216.29 260,1216.56 260.8,1216.61 261.6,1216.86 262.4,1217.74 263.2,1217.4 264,1217.16 264.8,1217.57 265.6,1217.11 266.4,1217.07 267.2,1216.43 268,1216.72 268.8,1217.26 269.6,1216.47 270.4,1217.12 271.2,1216.74 272,1216.68 272.8,1216.43 273.6,1216.96 274.4,1216.74 275.2,1216.22 276,1216.42 276.8,1216.81 277.6,1216.11 278.4,1217.04 279.2,1217.06 280,1217.77 280.8,1216.79 281.6,1217.42 282.4,1216.61 283.2,1216.51 284,1216.98 284.8,1217.04 285.6,1216.76 286.4,1216.05 287.2,1216.65 288,1216.53 288.8,1216.42 289.6,1217.19 290.4,1216.23 291.2,1216.44 292,1216.78 292.8,1216.88 293.6,1216.81 294.4,1217.1 295.2,1216.63 296,1217.02 296.8,1216.59 297.6,1216.22 298.4,1216.62 299.2,1216.24 300,1216.65 300.8,1216.35 301.6,1217.15 302.4,1216.9 303.2,1216.89 304,1217.78 304.8,1217.35 305.6,1217.38 306.4,1217.14 307.2,1216.59 308,1216.53 308.8,1215.92 309.6,1216.23 310.4,1216.59 311.2,1216.92 312,1216.37 312.8,1216.55 313.6,1217.4 314.4,1216.75 315.2,1216.17 316,1216.14 316.8,1215.1 317.6,1215.74 318.4,1215.64 319.2,1216.92 320,1216.48 320.8,1216.01 321.6,1216.39 322.4,1216.18 323.2,1216.34 324,1216.34 324.8,1216.55 325.6,1215.84 326.4,1216.87 327.2,1216.83 328,1216.82 328.8,1217.12 329.6,1216.99 330.4,1217.66 331.2,1217.03 332,1216.68 332.8,1216.38 333.6,1216.6 334.4,1216.2 335.2,1217.01 336,1216.27 336.8,1216.74 337.6,1216.37 338.4,1217.09 339.2,1215.84 340,1215.64 340.8,1216.35 341.6,1216.19 342.4,1217.44 343.2,1216.49 344,1216.35 344.8,1217.11 345.6,1216.31 346.4,1216.44 347.2,1217.25 348,1216.84 348.8,1216.48 349.6,1216.6 350.4,1216.98 351.2,1216.61 352,1216.1 352.8,1215.95 353.6,1216.75 354.4,1216.27 355.2,1216.82 356,1217.21 356.8,1216.12" fill="none" stroke="#e8202a" stroke-width="2.9" stroke-linejoin="round"/>
<polyline points="4.4,1216.36 6.5,1216.5 8.6,1217.6 9.2,1213.8 10.7,1121.72 10.9,1121.12 11.7,1123.12 12.5,1123.71 13.3,1124.8 14.1,1127.26 14.9,1128.21 15.7,1129.63 16.5,1131.16 17.3,1132.28 18.1,1133.11 18.9,1133.77 19.7,1134.77 20.5,1135.22 21.3,1134.99 22.1,1137.17 22.9,1138.15 23.7,1138.14 24.5,1139.47 25.3,1139.04 26.1,1140.25 26.9,1140.61 27.7,1141.31 28.5,1142.05 29.3,1141.55 30.1,1141.55 30.9,1141.63 31.7,1142.94 32.5,1141.57 33.3,1141.05 34.1,1142.05 34.9,1141.21 35.7,1142.46 36.5,1142.12 37.3,1142.8 38.1,1143.64 38.9,1143.58 39.7,1144.07 40.5,1144.24 41.3,1145.07 42.1,1144.78 42.9,1145.24 43.7,1145.99 44.5,1145.26 45.3,1145.3 46.1,1145.78 46.9,1146.34 47.7,1146.98 48.5,1148.88 49.3,1148.33 50.1,1149.37 50.9,1149.68 51.7,1150.09 52.5,1149.58 53.3,1149.83 54.1,1150.49 54.9,1149.95 55.7,1150.59 56.5,1150.52 57.3,1150.52 58.1,1150.85 58.9,1151.93 59.7,1152.28 60.5,1151.52 61.3,1151.89 62.1,1153.97 62.9,1153.92 63.7,1153.22 64.5,1155.03 65.3,1154.84 66.1,1156.15 66.9,1155.67 67.7,1156.12 68.5,1156.32 69.3,1157.17 70.1,1156.7 70.9,1157.08 71.7,1159.09 72.5,1158.49 73.3,1158.17 74.1,1157.59 74.9,1158.01 75.7,1158.77 76.5,1160.52 77.3,1161.28 78.1,1161.97 78.9,1162.03 79.7,1162.5 80.5,1162.5 81.3,1162.46 82.1,1161.67 82.9,1161.92 83.7,1162.17 84.5,1162.13 85.3,1163.5 86.1,1162.82 86.9,1163.1 87.7,1162.37 88.5,1162.84 89.3,1163.41 90.1,1163.47 90.9,1163.87 91.7,1163.69 92.5,1163.8 93.3,1164.78 94.1,1165.4 94.9,1164.58 95.7,1164.1 96.5,1163.84 97.3,1164.81 98.1,1165.31 98.9,1164.99 99.7,1164.16 100.5,1164.4 101.3,1165.25 102.1,1164.57 102.9,1165.97 103.7,1165.82 104.5,1165.8 105.3,1167.4 106.1,1166.49 106.9,1167.64 107.7,1168.38 108.5,1168.3 109.3,1167.61 110.1,1167.76 110.9,1167.97 111.7,1168.27 112.5,1168.9 113.3,1168 114.1,1167.9 114.9,1168.63 115.7,1168.76 116.5,1169.75 117.3,1170.49 118.1,1169.36 118.9,1169.99 119.7,1170.07 120.5,1168.93 121.3,1169.36 122.1,1169.46 122.9,1170.29 123.7,1170.12 124.5,1168.22 125.3,1169.09 126.1,1169.38 126.9,1169.67 127.7,1169.82 128.7,1239 129.5,1218.8 130.9,1150.5 131.9,1155.5 132.7,1157.92 133.5,1161.28 134.3,1163.47 135.1,1165.45 135.9,1166.58 136.7,1167.3 137.5,1167.74 138.3,1168.54 139.1,1168.95 139.9,1169 140.7,1170.07 141.5,1170.98 142.3,1171.23 143.1,1171.86 143.9,1173.02 144.7,1172.55 145.5,1172.43 146.3,1172.55 147.1,1173.14 147.9,1172.67 148.7,1173.42 149.5,1173.69 150.3,1173.88 151.1,1174.01 151.9,1173.5 152.7,1173.05 153.5,1172.81 154.3,1172.85 155.1,1173.15 155.9,1172.64 156.7,1174.11 157.5,1173.56 158.3,1174.31 159.1,1175.18 159.9,1175.1 160.7,1174.87 161.5,1174.96 162.3,1174.98 163.1,1175.33 163.9,1174.87 164.7,1175.4 165.5,1175.52 166.3,1175.97 167.1,1175.92 167.9,1175.51 168.7,1175.22 169.5,1175.51 170.3,1175.37 171.1,1175.63 171.9,1175.29 172.7,1174.56 173.5,1175.63 174.3,1175.21 175.1,1175.44 175.9,1174.66 176.7,1174.4 177.5,1176.4 178.3,1175.44 179.1,1175.65 179.9,1175.82 180.7,1176.65 181.5,1176.99 182.3,1175.54 183.1,1176.75 183.9,1176.18 184.7,1175.88 185.5,1176.47 186.3,1176.17 187.1,1175.78 187.9,1176.86 188.7,1176.46 189.9,1223.8 190.9,1220.63 191.7,1219.63 192.5,1219.81 193.3,1218.39 194.1,1218.75 194.9,1218.36 195.7,1218.34 196.5,1218.31 197.3,1218.08 198.1,1217.4 198.9,1218.13 199.7,1217.67 200.5,1216.94 201.3,1216.13 202.1,1216.94 202.9,1216.66 203.7,1217.01 204.5,1216.66 205.3,1217.59 206.1,1217.52 206.9,1216.6 207.7,1217.31 208.5,1216.44 209.3,1216.36 210.1,1216.25 210.9,1216.47 211.7,1217.26 212.5,1217.44 213.3,1216.33 214.1,1216.91 214.9,1216.95 215.7,1216.65 216.5,1217.19 217.3,1217.67 218.1,1216.89 218.9,1216.95 219.7,1217.26 220.5,1216.46 221.3,1217.42 222.1,1216.95 222.9,1217.05 223.7,1217.46 224.5,1217.51 225.3,1217.73 226.1,1217.2 226.9,1216.85 227.7,1217.34 228.5,1217.03 229.3,1216.88 230.1,1217.36 230.9,1216.83 231.7,1216.63 232.5,1216.9 233.3,1217.23 234.1,1216.81 234.9,1216.49 235.7,1217.03 236.5,1216.56 237.3,1216.25 238.1,1215.98 238.9,1216.45 239.7,1217.07 240.5,1216.83 241.3,1216.9 242.1,1217.21 242.9,1217.6 243.7,1217.45 244.5,1217.15 245.3,1216.77 246.1,1217.01 246.9,1217.02 247.7,1216.78 248.5,1217.04 249.3,1216.55 250.1,1216.67 250.9,1215.47 251.7,1216.09 252.5,1215.76 253.3,1215.68 254.1,1215.97 254.9,1215.97 255.7,1215.5 256.5,1216.23 257.3,1216.29 258.1,1216.49 258.9,1216.94 259.7,1216.35 260.5,1217.02 261.3,1216.64 262.1,1216.75 262.9,1217.19 263.7,1217.78 264.5,1217.45 265.3,1217.35 266.1,1216.71 266.9,1217.17 267.7,1216.73 268.5,1216.66 269.3,1216.16 270.1,1216.41 270.9,1216.45 271.7,1216.7 272.5,1217.48 273.3,1217.64 274.1,1218.3 274.9,1216.89 275.7,1217.15 276.5,1218.06 277.3,1217.92 278.1,1217.27 278.9,1217.62 279.7,1217.92 280.5,1217.61 281.3,1216.43 282.1,1217.49 282.9,1217.25 283.7,1216.53 284.5,1217.29 285.3,1216.99 286.1,1216.42 286.9,1217.29 287.7,1217.38 288.5,1217.43 289.3,1217.53 290.1,1217.03 290.9,1216.7 291.7,1217.42 292.5,1216.68 293.3,1217.33 294.1,1217.07 294.9,1216.48 295.7,1216.64 296.5,1217.33 297.3,1216.88 298.1,1217.46 298.9,1216.47 299.7,1216.43 300.5,1216.22 301.3,1216.46 302.1,1216.27 302.9,1216.42 303.7,1215.23 304.5,1216.08 305.3,1216.54 306.1,1216.13 306.9,1216.44 307.7,1216.36 308.5,1216.75 309.3,1216.57 310.1,1218.09 310.9,1217.01 311.7,1216.96 312.5,1216.36 313.3,1216.81 314.1,1216.69 314.9,1216.92 315.7,1217.65 316.5,1217.16 317.3,1216.84 318.1,1217.91 318.9,1217.72 319.7,1217.95 320.5,1217.12 321.3,1217.46 322.1,1217.49 322.9,1217.09 323.7,1217.27 324.5,1217.59 325.3,1217.72 326.1,1217.46 326.9,1216.94 327.7,1217.25 328.5,1216.12 329.3,1216.36 330.1,1216.75 330.9,1217.01 331.7,1216.53 332.5,1217.07 333.3,1216.59 334.1,1217.2 334.9,1216.84 335.7,1216.97 336.5,1217.21 337.3,1217.73 338.1,1216.85 338.9,1216.5 339.7,1216.28 340.5,1216.18 341.3,1216.31 342.1,1216.16 342.9,1215.78 343.7,1216.06 344.5,1216.51 345.3,1216.87 346.1,1216.82 346.9,1217.61 347.7,1217.12 348.5,1216.49 349.3,1216.82 350.1,1216.94 350.9,1216.75 351.7,1216.89 352.5,1216.86 353.3,1216.65 354.1,1216.79 354.9,1215.98 355.7,1216.51 356.5,1216.4" fill="none" stroke="#e8202a" stroke-width="2.9" stroke-linejoin="round"/>
<polyline points="4.4,1217.33 6.5,1216.33 8.6,1216.63 9.2,1213.8 10.7,1122.25 10.9,1121.26 11.7,1123.59 12.5,1125.41 13.3,1126.5 14.1,1128.11 14.9,1128.69 15.7,1130.55 16.5,1132.82 17.3,1135.06 18.1,1134.95 18.9,1135.78 19.7,1135.64 20.5,1134.89 21.3,1135.99 22.1,1137.03 22.9,1138.05 23.7,1138.36 24.5,1140.19 25.3,1140.6 26.1,1141.26 26.9,1142.13 27.7,1141.79 28.5,1141.69 29.3,1141.41 30.1,1141.83 30.9,1141.67 31.7,1141.99 32.5,1142.01 33.3,1143.43 34.1,1143.94 34.9,1144.03 35.7,1145.03 36.5,1144.81 37.3,1144.98 38.1,1145.31 38.9,1144.9 39.7,1144.66 40.5,1144.56 41.3,1144.19 42.1,1145.15 42.9,1145.6 43.7,1146.84 44.5,1146.87 45.3,1146.27 46.1,1147.8 46.9,1147.77 47.7,1149.08 48.5,1148.94 49.3,1149.28 50.1,1150.01 50.9,1149.3 51.7,1150.24 52.5,1150.22 53.3,1150.76 54.1,1151.92 54.9,1152.27 55.7,1152.9 56.5,1153.97 57.3,1154.32 58.1,1154.36 58.9,1154.83 59.7,1154.58 60.5,1154.17 61.3,1154.75 62.1,1154.68 62.9,1154.68 63.7,1155.66 64.5,1155.7 65.3,1155.65 66.1,1156.09 66.9,1155.86 67.7,1156.53 68.5,1156.88 69.3,1157.08 70.1,1157.67 70.9,1158.21 71.7,1160.07 72.5,1161.07 73.3,1160.41 74.1,1161.18 74.9,1161.18 75.7,1161.54 76.5,1161.9 77.3,1162.75 78.1,1162.08 78.9,1162.35 79.7,1162.52 80.5,1162.86 81.3,1163.49 82.1,1164.17 82.9,1163.14 83.7,1162.39 84.5,1162.59 85.3,1163.49 86.1,1164.03 86.9,1162.58 87.7,1163.09 88.5,1161.68 89.3,1163.24 90.1,1163.81 90.9,1164.68 91.7,1164.24 92.5,1164.7 93.3,1165.36 94.1,1164.71 94.9,1165.88 95.7,1166.36 96.5,1166.39 97.3,1167.04 98.1,1166.89 98.9,1167.43 99.7,1168.53 100.5,1167.8 101.3,1168.5 102.1,1166.79 102.9,1166.41 103.7,1167.76 104.5,1166.73 105.3,1168.12 106.1,1167.99 106.9,1167.93 107.7,1167.92 108.5,1168.48 109.3,1169.18 110.1,1167.87 110.9,1168.6 111.7,1168.75 112.5,1168.35 113.3,1168.96 114.1,1168.99 114.9,1168.03 115.7,1169.18 116.5,1168.47 117.3,1168.21 118.1,1168.56 118.9,1169.01 119.7,1169.15 120.5,1168.81 121.3,1169.18 122.1,1169.07 122.9,1169.24 123.7,1169.86 124.5,1170.74 125.3,1170.25 126.1,1170.32 126.9,1170.35 127.7,1171.13 128.7,1239 129.7,1223.92 130.5,1218.8 131.9,1149.7 132.9,1154.25 133.7,1156.9 134.5,1159.49 135.3,1161.39 136.1,1163.56 136.9,1165.2 137.7,1165.75 138.5,1166.8 139.3,1167.56 140.1,1167.76 140.9,1168.74 141.7,1169.19 142.5,1169.98 143.3,1169.81 144.1,1170.64 144.9,1170.79 145.7,1170.15 146.5,1169.66 147.3,1170.41 148.1,1171 148.9,1171.34 149.7,1171.32 150.5,1170.83 151.3,1170.87 152.1,1171.58 152.9,1171.89 153.7,1172.43 154.5,1172.48 155.3,1171.85 156.1,1171.74 156.9,1171.53 157.7,1171.4 158.5,1171.31 159.3,1171.66 160.1,1172.65 160.9,1173.59 161.7,1172.6 162.5,1173.43 163.3,1172.76 164.1,1172.75 164.9,1172.95 165.7,1173.27 166.5,1172.4 167.3,1172.82 168.1,1172.74 168.9,1173.77 169.7,1173.47 170.5,1173.98 171.3,1173.2 172.1,1174.62 172.9,1173.64 173.7,1173.92 174.5,1174.39 175.3,1173.69 176.1,1174.31 176.9,1173.47 177.7,1174.17 178.5,1174.13 179.3,1173.99 180.1,1174.39 180.9,1173.15 181.7,1173.49 182.5,1173.76 183.3,1174.14 184.1,1174.79 184.9,1174.69 185.7,1175.27 186.5,1175.02 187.3,1175.41 188.1,1174.92 188.9,1175.18 189.7,1175.2 190.9,1223.8 191.9,1220.37 192.7,1219.33 193.5,1218.95 194.3,1218.39 195.1,1218.42 195.9,1218.14 196.7,1218.44 197.5,1217.64 198.3,1217.78 199.1,1217.97 199.9,1217.19 200.7,1216.88 201.5,1216.79 202.3,1216.55 203.1,1217.28 203.9,1217.4 204.7,1217.18 205.5,1216.35 206.3,1216.69 207.1,1216.83 207.9,1216.21 208.7,1216.17 209.5,1215.7 210.3,1216.19 211.1,1215.55 211.9,1214.92 212.7,1216.36 213.5,1216.58 214.3,1215.62 215.1,1216.49 215.9,1216.57 216.7,1216.73 217.5,1216.84 218.3,1216.53 219.1,1216.24 219.9,1216.57 220.7,1216.91 221.5,1217 222.3,1217.17 223.1,1217.06 223.9,1216.73 224.7,1216.49 225.5,1216.75 226.3,1216.16 227.1,1216.9 227.9,1217.45 228.7,1217.5 229.5,1217.55 230.3,1216.77 231.1,1216.93 231.9,1216.96 232.7,1216.91 233.5,1216.69 234.3,1216.2 235.1,1216.22 235.9,1216.22 236.7,1216.14 237.5,1215.26 238.3,1215.08 239.1,1215.99 239.9,1215.39 240.7,1215.22 241.5,1215.72 242.3,1216.86 243.1,1216.81 243.9,1216.99 244.7,1217.2 245.5,1216.97 246.3,1216.33 247.1,1217.03 247.9,1216.9 248.7,1216.51 249.5,1216.02 250.3,1215.91 251.1,1215.77 251.9,1216.27 252.7,1216.22 253.5,1216.31 254.3,1216.13 255.1,1216.39 255.9,1216.91 256.7,1217.38 257.5,1216.93 258.3,1216.56 259.1,1216.36 259.9,1216.95 260.7,1217.07 261.5,1217.02 262.3,1217.08 263.1,1216.83 263.9,1217.64 264.7,1217.54 265.5,1217.3 266.3,1217.83 267.1,1217.67 267.9,1217.34 268.7,1216.46 269.5,1217.14 270.3,1217.09 271.1,1217.64 271.9,1217.03 272.7,1216.48 273.5,1216.91 274.3,1216.57 275.1,1217.03 275.9,1217.46 276.7,1217.1 277.5,1217.68 278.3,1216.84 279.1,1216.39 279.9,1216.27 280.7,1216.03 281.5,1216.37 282.3,1216.56 283.1,1217.06 283.9,1217.43 284.7,1216.05 285.5,1216.73 286.3,1216.27 287.1,1216.16 287.9,1215.94 288.7,1215.04 289.5,1215.53 290.3,1216.05 291.1,1216.36 291.9,1216.2 292.7,1216.33 293.5,1216.87 294.3,1216.79 295.1,1217 295.9,1216.89 296.7,1217.2 297.5,1217.07 298.3,1217.64 299.1,1216.94 299.9,1216.93 300.7,1217.4 301.5,1216.46 302.3,1216.32 303.1,1216.19 303.9,1216.34 304.7,1215.93 305.5,1216.1 306.3,1215.44 307.1,1215.35 307.9,1216.81 308.7,1216.91 309.5,1216.14 310.3,1216.36 311.1,1217.05 311.9,1216.73 312.7,1216.87 313.5,1216.01 314.3,1216.27 315.1,1217.07 315.9,1217.44 316.7,1217.68 317.5,1217.27 318.3,1216.71 319.1,1217.8 319.9,1217.42 320.7,1216.6 321.5,1216.69 322.3,1216.91 323.1,1216.7 323.9,1216.88 324.7,1216.37 325.5,1217.07 326.3,1216.46 327.1,1216.81 327.9,1216.15 328.7,1215.83 329.5,1216.34 330.3,1215.95 331.1,1216.88 331.9,1217.41 332.7,1216.55 333.5,1217.17 334.3,1217.3 335.1,1217.44 335.9,1217.1 336.7,1216.98 337.5,1216.85 338.3,1217.51 339.1,1217.46 339.9,1217.15 340.7,1216.7 341.5,1216.69 342.3,1217.57 343.1,1217.56 343.9,1217.09 344.7,1216.77 345.5,1216.55 346.3,1216.89 347.1,1217.09 347.9,1218.08 348.7,1217.23 349.5,1217.52 350.3,1217.68 351.1,1217.27 351.9,1217.53 352.7,1217.55 353.5,1217.3 354.3,1216.81 355.1,1217.37 355.9,1216.71 356.7,1215.92" fill="none" stroke="#e8202a" stroke-width="2.9" stroke-linejoin="round"/>
<polyline points="4.4,1216.02 6.5,1216.71 8.6,1217.47 9.2,1213.8 10.7,1122.77 10.9,1122.05 11.7,1123.95 12.5,1126.34 13.3,1127.6 14.1,1130.1 14.9,1131.52 15.7,1132.88 16.5,1133.56 17.3,1135.64 18.1,1135.75 18.9,1136.72 19.7,1138.05 20.5,1137.67 21.3,1139.18 22.1,1139.33 22.9,1140.04 23.7,1140.38 24.5,1141.04 25.3,1141.01 26.1,1142.14 26.9,1141.92 27.7,1142.79 28.5,1142.71 29.3,1143.51 30.1,1144.16 30.9,1143.71 31.7,1144.38 32.5,1144.93 33.3,1145.07 34.1,1145.41 34.9,1145.69 35.7,1145.93 36.5,1144.82 37.3,1145.14 38.1,1145.28 38.9,1145.96 39.7,1147.02 40.5,1147.17 41.3,1146.84 42.1,1147.89 42.9,1147.99 43.7,1148.19 44.5,1149.61 45.3,1150.28 46.1,1150.64 46.9,1149.76 47.7,1150.41 48.5,1150.53 49.3,1150.33 50.1,1150.17 50.9,1149.89 51.7,1151.12 52.5,1151.52 53.3,1151.62 54.1,1153.07 54.9,1153.37 55.7,1152.91 56.5,1153.06 57.3,1153.52 58.1,1153.13 58.9,1154.16 59.7,1154.26 60.5,1155.44 61.3,1155.58 62.1,1155.3 62.9,1155.3 63.7,1155.86 64.5,1156.16 65.3,1156.19 66.1,1157.12 66.9,1157.03 67.7,1157.86 68.5,1158.34 69.3,1159.04 70.1,1159.43 70.9,1159.64 71.7,1159.79 72.5,1160.92 73.3,1160.29 74.1,1161.1 74.9,1161.02 75.7,1160.11 76.5,1160.9 77.3,1162.37 78.1,1162.81 78.9,1162.62 79.7,1163.57 80.5,1162.21 81.3,1163.01 82.1,1163.52 82.9,1164.29 83.7,1163.75 84.5,1163.71 85.3,1164.16 86.1,1164.07 86.9,1164.14 87.7,1164.86 88.5,1164.7 89.3,1164.2 90.1,1164.65 90.9,1165.28 91.7,1164.98 92.5,1165.56 93.3,1166.48 94.1,1166.47 94.9,1167.18 95.7,1166.77 96.5,1166.12 97.3,1166.84 98.1,1166.59 98.9,1167.68 99.7,1167.09 100.5,1167.5 101.3,1167.72 102.1,1168.16 102.9,1168.05 103.7,1168.43 104.5,1169.11 105.3,1168.99 106.1,1168.93 106.9,1169.74 107.7,1169 108.5,1169.03 109.3,1169.28 110.1,1169.55 110.9,1169.66 111.7,1169.08 112.5,1169.14 113.3,1170.79 114.1,1170.41 114.9,1170.04 115.7,1170.42 116.5,1170.31 117.3,1170.42 118.1,1169.82 118.9,1169.48 119.7,1169.67 120.5,1170.81 121.3,1171.49 122.1,1172.04 122.9,1172.54 123.7,1171.58 124.5,1172.71 125.3,1172.63 126.1,1171.82 126.9,1171.06 127.7,1170.52 128.7,1239 129.7,1222.38 130.5,1221.48 131.3,1220.62 132.1,1220.22 132.9,1218.95 133.7,1219.64 134.5,1218.76 135.4,1218.8 136.8,1140.5 137.8,1145.41 138.6,1149.53 139.4,1153.43 140.2,1155.63 141,1158.14 141.8,1159.47 142.6,1160.73 143.4,1161.93 144.2,1162.21 145,1163.96 145.8,1164.19 146.6,1164.62 147.4,1165.35 148.2,1165.73 149,1166.08 149.8,1165.9 150.6,1166.9 151.4,1167.32 152.2,1167.19 153,1167.04 153.8,1167.04 154.6,1167.17 155.4,1168.14 156.2,1168.64 157,1167.97 157.8,1168.1 158.6,1168.15 159.4,1168.41 160.2,1168.76 161,1168.86 161.8,1168.75 162.6,1168.38 163.4,1168.68 164.2,1168.68 165,1168.76 165.8,1168.83 166.6,1168.25 167.4,1169.04 168.2,1169.4 169,1169.74 169.8,1169.65 170.6,1169.3 171.4,1170.1 172.2,1169.3 173,1169.15 173.8,1169.52 174.6,1169.19 175.4,1170.37 176.2,1169.79 177,1170.23 177.8,1171.12 178.6,1170.34 179.4,1169.54 180.2,1170.48 181,1170.23 181.8,1170.46 182.6,1170.65 183.4,1171.79 184.2,1172.67 185,1171.5 185.8,1172.06 186.6,1172.19 187.4,1172.12 188.2,1172.57 189,1172.55 189.8,1172.36 190.6,1172.57 191.4,1172.27 192.2,1171.9 193,1171.74 193.8,1172.4 194.6,1172.57 195.8,1223.8 196.8,1220.12 197.6,1219.47 198.4,1219.44 199.2,1218.26 200,1218.1 200.8,1217.95 201.6,1217.36 202.4,1216.34 203.2,1217.21 204,1217.15 204.8,1217.14 205.6,1216.7 206.4,1217.42 207.2,1216.99 208,1217.97 208.8,1216.78 209.6,1217.15 210.4,1216.87 211.2,1217.37 212,1216.85 212.8,1217.36 213.6,1217.19 214.4,1217.06 215.2,1216.89 216,1217.43 216.8,1217.08 217.6,1217.34 218.4,1217.46 219.2,1216.77 220,1217.22 220.8,1216.91 221.6,1216.12 222.4,1216.05 223.2,1216.01 224,1216.23 224.8,1216.51 225.6,1216.94 226.4,1216.53 227.2,1216.62 228,1216.6 228.8,1216.5 229.6,1216.36 230.4,1216.62 231.2,1216.98 232,1218.34 232.8,1217.54 233.6,1216.35 234.4,1216.32 235.2,1216.69 236,1216.42 236.8,1217.19 237.6,1216.52 238.4,1216.78 239.2,1217.32 240,1217.55 240.8,1217.41 241.6,1216.41 242.4,1216.82 243.2,1216.64 244,1216.37 244.8,1216.59 245.6,1216.07 246.4,1216.05 247.2,1216.48 248,1216.15 248.8,1215.52 249.6,1215.53 250.4,1215.41 251.2,1216.04 252,1216.13 252.8,1216.46 253.6,1216.39 254.4,1217.75 255.2,1217.2 256,1217.43 256.8,1217.01 257.6,1217.41 258.4,1217.25 259.2,1217.63 260,1216.9 260.8,1216.37 261.6,1216.89 262.4,1217.3 263.2,1217.81 264,1217.4 264.8,1217.32 265.6,1217.09 266.4,1216.67 267.2,1216.97 268,1216.97 268.8,1216.93 269.6,1216.59 270.4,1217.2 271.2,1216.96 272,1217.51 272.8,1217.29 273.6,1217.88 274.4,1217.77 275.2,1216.95 276,1217.02 276.8,1216.31 277.6,1216.22 278.4,1216.34 279.2,1216.53 280,1217.28 280.8,1216.61 281.6,1216.51 282.4,1216.77 283.2,1216.79 284,1216.68 284.8,1216.29 285.6,1216.49 286.4,1215.83 287.2,1216.76 288,1217.29 288.8,1216.81 289.6,1217.16 290.4,1217.46 291.2,1217.11 292,1217.75 292.8,1216.92 293.6,1217.73 294.4,1217.76 295.2,1217.87 296,1217.11 296.8,1216.59 297.6,1216.86 298.4,1216.52 299.2,1216.88 300,1216.83 300.8,1217 301.6,1216.54 302.4,1216.78 303.2,1216.02 304,1215.71 304.8,1216.69 305.6,1216.75 306.4,1216.11 307.2,1217.12 308,1217.88 308.8,1218.39 309.6,1217.28 310.4,1216.68 311.2,1216.34 312,1216.44 312.8,1216.81 313.6,1217.16 314.4,1217.65 315.2,1217.93 316,1217.21 316.8,1217.49 317.6,1216.48 318.4,1216.64 319.2,1216.72 320,1216.42 320.8,1216.64 321.6,1216.84 322.4,1217.17 323.2,1216.45 324,1215.83 324.8,1216.15 325.6,1216.06 326.4,1216.42 327.2,1215.88 328,1216.19 328.8,1215.94 329.6,1215.92 330.4,1216.13 331.2,1216.18 332,1216.62 332.8,1216.94 333.6,1217.06 334.4,1216.89 335.2,1217.11 336,1216.9 336.8,1216.7 337.6,1216.46 338.4,1216.13 339.2,1216.24 340,1216.17 340.8,1216.46 341.6,1217.33 342.4,1215.95 343.2,1216.91 344,1216.72 344.8,1217.1 345.6,1217.18 346.4,1216.73 347.2,1217.35 348,1217.14 348.8,1216.5 349.6,1216.11 350.4,1216.34 351.2,1216.81 352,1215.93 352.8,1216.59 353.6,1217.35 354.4,1217.16 355.2,1217.79 356,1217.21 356.8,1217.94" fill="none" stroke="#e8202a" stroke-width="2.9" stroke-linejoin="round"/>
<polyline points="4.4,1216.95 6.5,1218.12 8.6,1217.76 9.2,1213.8 10.7,1123.3 10.9,1123.62 11.7,1126.55 12.5,1127.34 13.3,1129.13 14.1,1130.18 14.9,1131.52 15.7,1132.94 16.5,1134.77 17.3,1135.11 18.1,1136.34 18.9,1137.3 19.7,1138.76 20.5,1138.55 21.3,1139.05 22.1,1140.14 22.9,1139.8 23.7,1141 24.5,1142 25.3,1142.62 26.1,1142.67 26.9,1142.71 27.7,1143.48 28.5,1143.41 29.3,1143.63 30.1,1144.18 30.9,1144.89 31.7,1145.29 32.5,1145.19 33.3,1144.97 34.1,1144.86 34.9,1144.44 35.7,1146.07 36.5,1145.35 37.3,1146.04 38.1,1147.64 38.9,1146.87 39.7,1146.93 40.5,1147.38 41.3,1147.6 42.1,1149.33 42.9,1149.67 43.7,1150.24 44.5,1151.17 45.3,1150.21 46.1,1150.64 46.9,1150.08 47.7,1150.57 48.5,1149.53 49.3,1150.96 50.1,1151.49 50.9,1150.86 51.7,1152.36 52.5,1152.6 53.3,1152.68 54.1,1153.1 54.9,1153.07 55.7,1152.6 56.5,1153.75 57.3,1154.14 58.1,1155.26 58.9,1156.24 59.7,1155.94 60.5,1156.01 61.3,1156.45 62.1,1155.81 62.9,1156.42 63.7,1157.07 64.5,1156.42 65.3,1157.18 66.1,1157.09 66.9,1158.45 67.7,1158.88 68.5,1158.44 69.3,1158.73 70.1,1158.82 70.9,1161.18 71.7,1160.93 72.5,1159.93 73.3,1160.42 74.1,1161.17 74.9,1161.8 75.7,1162.26 76.5,1162.01 77.3,1163.14 78.1,1161.9 78.9,1162.67 79.7,1163.41 80.5,1162.89 81.3,1163.94 82.1,1164.98 82.9,1164.78 83.7,1166.59 84.5,1166.46 85.3,1166.39 86.1,1166.74 86.9,1166.86 87.7,1167.18 88.5,1166.38 89.3,1166.99 90.1,1167.26 90.9,1167.24 91.7,1167.68 92.5,1168.77 93.3,1169.07 94.1,1169.19 94.9,1169.09 95.7,1169.72 96.5,1169.19 97.3,1168.59 98.1,1167.15 98.9,1167.56 99.7,1167.38 100.5,1168.1 101.3,1167.31 102.1,1168.17 102.9,1169.02 103.7,1168.19 104.5,1168.67 105.3,1169.69 106.1,1170.98 106.9,1169.82 107.7,1170.91 108.5,1171.33 109.3,1169.79 110.1,1169.71 110.9,1169.75 111.7,1170.49 112.5,1170.95 113.3,1171.34 114.1,1171.27 114.9,1171.21 115.7,1170.59 116.5,1170.26 117.3,1170.88 118.1,1171.71 118.9,1171.93 119.7,1173.42 120.5,1172.54 121.3,1171.86 122.1,1172.65 122.9,1172.78 123.7,1172.59 124.5,1173.01 125.3,1173.25 126.1,1173.41 126.9,1173.92 127.7,1173.04 128.7,1239 129.7,1223.67 130.5,1223.25 131.3,1222.55 132.1,1221.9 132.9,1221.49 133.7,1220.6 134.5,1219.84 135.3,1219.64 136.1,1219.04 136.9,1219.34 137.7,1218.43 138.5,1218.11 139.3,1217.63 140.1,1217.69 140.9,1217.11 141.7,1217 142.5,1217.02 143.5,1218.8 144.9,1134.4 145.9,1138.3 146.7,1141.97 147.5,1143.36 148.3,1144.86 149.1,1147.14 149.9,1148.41 150.7,1150.04 151.5,1151.71 152.3,1152.79 153.1,1153.21 153.9,1154.18 154.7,1154.56 155.5,1155.31 156.3,1156.04 157.1,1156.68 157.9,1157.64 158.7,1158.43 159.5,1159.27 160.3,1158.6 161.1,1159.18 161.9,1158.85 162.7,1160.02 163.5,1160.41 164.3,1160.86 165.1,1161.07 165.9,1161.82 166.7,1161.24 167.5,1159.88 168.3,1160.28 169.1,1160.78 169.9,1160.9 170.7,1162.21 171.5,1162.79 172.3,1162.5 173.1,1162.93 173.9,1162.31 174.7,1162.06 175.5,1162.35 176.3,1163.54 177.1,1163.22 177.9,1162.8 178.7,1163.31 179.5,1164.08 180.3,1164.12 181.1,1164.39 181.9,1164.79 182.7,1164.28 183.5,1164.54 184.3,1163.71 185.1,1165.45 185.9,1165.2 186.7,1165.71 187.5,1165.94 188.3,1167.23 189.1,1167.4 189.9,1166.78 190.7,1167.6 191.5,1167.12 192.3,1167.02 193.1,1166.63 193.9,1165.7 194.7,1166.61 195.5,1167.1 196.3,1166.89 197.1,1167.04 197.9,1167.4 198.7,1167.38 199.5,1168.3 200.3,1168.16 201.1,1168.72 201.9,1168.2 202.7,1169.12 203.9,1223.8 204.9,1221.55 205.7,1220 206.5,1220.27 207.3,1219.92 208.1,1219.27 208.9,1218.71 209.7,1217.69 210.5,1217.62 211.3,1218.45 212.1,1217.83 212.9,1217.35 213.7,1217.73 214.5,1217.75 215.3,1217.53 216.1,1216.68 216.9,1216.98 217.7,1217.37 218.5,1216.74 219.3,1216.79 220.1,1216.82 220.9,1215.99 221.7,1216.54 222.5,1216.33 223.3,1216.59 224.1,1217.34 224.9,1216.34 225.7,1216.1 226.5,1215.81 227.3,1217.03 228.1,1216.71 228.9,1216.55 229.7,1217.35 230.5,1216.78 231.3,1216.19 232.1,1215.72 232.9,1216.8 233.7,1216.68 234.5,1216.9 235.3,1216.18 236.1,1216.35 236.9,1216.29 237.7,1216.54 238.5,1216.71 239.3,1216.72 240.1,1216.46 240.9,1216.13 241.7,1216.44 242.5,1215.97 243.3,1216.47 244.1,1216.19 244.9,1216.22 245.7,1216.23 246.5,1216.09 247.3,1216.59 248.1,1216.17 248.9,1216.47 249.7,1216.28 250.5,1216.26 251.3,1216.07 252.1,1216.41 252.9,1216.32 253.7,1216.03 254.5,1216.35 255.3,1216.13 256.1,1216.77 256.9,1216.7 257.7,1216.97 258.5,1217.18 259.3,1217.11 260.1,1216.97 260.9,1217.36 261.7,1216.79 262.5,1217.31 263.3,1216.66 264.1,1216.83 264.9,1216.58 265.7,1216.9 266.5,1216.79 267.3,1216.72 268.1,1216.14 268.9,1216.38 269.7,1215.99 270.5,1216.58 271.3,1216.94 272.1,1217.5 272.9,1216.94 273.7,1217.37 274.5,1217.03 275.3,1216.81 276.1,1217.01 276.9,1216.86 277.7,1216.64 278.5,1216.29 279.3,1216.19 280.1,1216.19 280.9,1216.75 281.7,1216.55 282.5,1216.41 283.3,1216.57 284.1,1216.87 284.9,1217.14 285.7,1216.68 286.5,1216.26 287.3,1215.89 288.1,1216.58 288.9,1216.45 289.7,1216.86 290.5,1216.32 291.3,1216.88 292.1,1217.35 292.9,1217.18 293.7,1217.35 294.5,1217.29 295.3,1216.84 296.1,1217.54 296.9,1216.24 297.7,1216.69 298.5,1216.32 299.3,1216.75 300.1,1217.13 300.9,1216.18 301.7,1216.35 302.5,1215.63 303.3,1216.33 304.1,1216.75 304.9,1217.15 305.7,1216.72 306.5,1217.27 307.3,1216.31 308.1,1216.07 308.9,1216.03 309.7,1217.17 310.5,1216.87 311.3,1217.3 312.1,1217.03 312.9,1216.91 313.7,1216.42 314.5,1216.44 315.3,1216.37 316.1,1216.39 316.9,1216.98 317.7,1215.93 318.5,1215.84 319.3,1215.91 320.1,1216.83 320.9,1216.54 321.7,1216.71 322.5,1217.08 323.3,1216.36 324.1,1217.03 324.9,1217.8 325.7,1217.17 326.5,1217.22 327.3,1216.64 328.1,1217.27 328.9,1216.61 329.7,1216.83 330.5,1217.11 331.3,1217.74 332.1,1217.4 332.9,1217.49 333.7,1217.36 334.5,1217.66 335.3,1217.22 336.1,1216.93 336.9,1216.83 337.7,1216.99 338.5,1217.16 339.3,1216.96 340.1,1216.16 340.9,1216.83 341.7,1217.8 342.5,1217.52 343.3,1216.56 344.1,1216.24 344.9,1215.89 345.7,1215.9 346.5,1215.92 347.3,1217.55 348.1,1217.06 348.9,1217.23 349.7,1217.5 350.5,1217.43 351.3,1216.58 352.1,1216.21 352.9,1216.08 353.7,1216.92 354.5,1216.42 355.3,1216.71 356.1,1216.46 356.9,1216.56" fill="none" stroke="#e8202a" stroke-width="2.9" stroke-linejoin="round"/>
<polyline points="4.4,1216.13 6.5,1216.63 8.6,1216.47 9.2,1213.8 10.7,1123.83 10.9,1124.28 11.7,1125.9 12.5,1128.99 13.3,1130.38 14.1,1131.29 14.9,1132.66 15.7,1133.66 16.5,1135.35 17.3,1135.99 18.1,1136.7 18.9,1137.83 19.7,1137.87 20.5,1139.72 21.3,1139.66 22.1,1140.7 22.9,1140.78 23.7,1141.47 24.5,1141.2 25.3,1141.6 26.1,1143.49 26.9,1142.54 27.7,1142.66 28.5,1142.55 29.3,1144.08 30.1,1145.43 30.9,1145.28 31.7,1144.86 32.5,1146.78 33.3,1146.3 34.1,1147.7 34.9,1147.56 35.7,1147.92 36.5,1149.35 37.3,1149.19 38.1,1149.39 38.9,1150.27 39.7,1149.37 40.5,1150.17 41.3,1151.39 42.1,1150.69 42.9,1151.71 43.7,1151.25 44.5,1150.98 45.3,1150.48 46.1,1149.62 46.9,1151.07 47.7,1151.59 48.5,1153.08 49.3,1154.13 50.1,1153.49 50.9,1154.67 51.7,1153.33 52.5,1153.68 53.3,1153.92 54.1,1154.14 54.9,1153.72 55.7,1153.97 56.5,1154.85 57.3,1155.85 58.1,1156 58.9,1155.84 59.7,1156.51 60.5,1156.1 61.3,1156.95 62.1,1158.36 62.9,1158.99 63.7,1159.04 64.5,1157.09 65.3,1157.86 66.1,1159.27 66.9,1160.5 67.7,1159.89 68.5,1160.5 69.3,1160.72 70.1,1161.7 70.9,1160.97 71.7,1161.84 72.5,1161.86 73.3,1161.85 74.1,1161.9 74.9,1161.88 75.7,1162.64 76.5,1163.65 77.3,1163.59 78.1,1163.84 78.9,1165.36 79.7,1165.99 80.5,1164.56 81.3,1165.06 82.1,1165.03 82.9,1166.17 83.7,1165.81 84.5,1166.9 85.3,1166.68 86.1,1168.12 86.9,1168.09 87.7,1168.74 88.5,1167.46 89.3,1167.53 90.1,1167.82 90.9,1168.08 91.7,1167.32 92.5,1167.07 93.3,1167.37 94.1,1167.95 94.9,1168.38 95.7,1168.79 96.5,1169.18 97.3,1168.65 98.1,1167.87 98.9,1169.29 99.7,1169.37 100.5,1169.42 101.3,1169.66 102.1,1169.36 102.9,1169.05 103.7,1169.69 104.5,1168.66 105.3,1169.38 106.1,1169.75 106.9,1170.18 107.7,1169.36 108.5,1170.01 109.3,1170.91 110.1,1171.51 110.9,1172.62 111.7,1173.32 112.5,1172.83 113.3,1173.46 114.1,1172.84 114.9,1173.96 115.7,1172.71 116.5,1171.75 117.3,1172.65 118.1,1172.94 118.9,1172.58 119.7,1172.78 120.5,1174.39 121.3,1173.29 122.1,1173.76 122.9,1173.83 123.7,1172.7 124.5,1172.94 125.3,1174.24 126.1,1174.52 126.9,1174.26 127.7,1174.52 128.7,1239 129.7,1224.24 130.5,1223.37 131.3,1221.7 132.1,1221.05 132.9,1221.17 133.7,1220.31 134.5,1220.22 135.3,1219.61 136.1,1219.08 136.9,1218.79 137.7,1218.94 138.5,1219.05 139.3,1218.51 140.1,1218.23 140.9,1217.88 141.7,1218.11 142.5,1217.64 143.3,1217.2 144.1,1217.23 144.9,1217.81 145.7,1217.61 146.5,1216.85 147.3,1216.52 148.1,1216.81 148.9,1216.02 149.7,1216.34 150.5,1216.94 151.3,1217.17 152.1,1217.67 152.9,1216.98 153.7,1216.9 154.5,1217.26 155.3,1217.17 156.1,1217.28 156.9,1216.3 157.7,1216.86 158.8,1218.8 160.2,1127.9 161.2,1130.88 162,1133.15 162.8,1135.72 163.6,1138.14 164.4,1140.71 165.2,1142.23 166,1142.13 166.8,1143.84 167.6,1144.37 168.4,1145 169.2,1145.6 170,1146.41 170.8,1147.82 171.6,1148.97 172.4,1149.57 173.2,1150.2 174,1150.92 174.8,1151.69 175.6,1150.87 176.4,1151.74 177.2,1151.4 178,1151.6 178.8,1153.01 179.6,1153.58 180.4,1152.98 181.2,1153.45 182,1154.26 182.8,1154.14 183.6,1154.44 184.4,1154.52 185.2,1154.82 186,1156.17 186.8,1155.42 187.6,1156.64 188.4,1155.24 189.2,1155.92 190,1156.24 190.8,1155.87 191.6,1155.89 192.4,1156.67 193.2,1157.43 194,1158.29 194.8,1157.96 195.6,1158.58 196.4,1158.48 197.2,1158.42 198,1158.76 198.8,1158.63 199.6,1158.58 200.4,1158.97 201.2,1158.48 202,1158.64 202.8,1159.5 203.6,1160.19 204.4,1160.61 205.2,1159.55 206,1160.06 206.8,1161.12 207.6,1162.51 208.4,1161.92 209.2,1160.86 210,1161.49 210.8,1161.74 211.6,1161.95 212.4,1163.19 213.2,1163.78 214,1163.84 214.8,1163.71 215.6,1163.4 216.4,1163.92 217.2,1164.7 218,1164.65 219.2,1223.8 220.2,1220.05 221,1219.97 221.8,1220.07 222.6,1219.54 223.4,1218.59 224.2,1218.75 225,1218.49 225.8,1218.73 226.6,1217.44 227.4,1217.23 228.2,1217.94 229,1216.91 229.8,1216.54 230.6,1216.95 231.4,1217.07 232.2,1216.25 233,1216.81 233.8,1217.37 234.6,1216.65 235.4,1216.86 236.2,1218.26 237,1217.57 237.8,1216.83 238.6,1216.79 239.4,1216.07 240.2,1216.39 241,1215.84 241.8,1217.24 242.6,1217 243.4,1217.67 244.2,1217.63 245,1217.13 245.8,1217.44 246.6,1217.09 247.4,1216.64 248.2,1217.79 249,1217.23 249.8,1216.87 250.6,1217.12 251.4,1217.41 252.2,1216.85 253,1217.17 253.8,1216.81 254.6,1216.8 255.4,1216.65 256.2,1217.24 257,1216.63 257.8,1217.82 258.6,1217.33 259.4,1217.54 260.2,1217.02 261,1217.53 261.8,1217.81 262.6,1217.52 263.4,1218 264.2,1216.75 265,1217.34 265.8,1216.78 266.6,1216.45 267.4,1216.49 268.2,1217.1 269,1216.67 269.8,1216.94 270.6,1217.5 271.4,1217.17 272.2,1217.25 273,1217.31 273.8,1216.55 274.6,1216.84 275.4,1216.64 276.2,1215.89 277,1216.66 277.8,1216.59 278.6,1216.99 279.4,1217.46 280.2,1217.24 281,1216.57 281.8,1216.44 282.6,1216.62 283.4,1217.11 284.2,1217.17 285,1217.15 285.8,1217.07 286.6,1217.42 287.4,1216.94 288.2,1216.91 289,1216.82 289.8,1217.13 290.6,1216.59 291.4,1217.36 292.2,1217.46 293,1217.17 293.8,1217.61 294.6,1217.06 295.4,1216.95 296.2,1217.15 297,1216.77 297.8,1217.3 298.6,1217.3 299.4,1217.62 300.2,1216.57 301,1217.08 301.8,1216.02 302.6,1215.52 303.4,1215.8 304.2,1216.43 305,1215.98 305.8,1215.89 306.6,1216.08 307.4,1216.29 308.2,1216.14 309,1216.96 309.8,1217.15 310.6,1217.16 311.4,1217.05 312.2,1217.04 313,1216.2 313.8,1216.36 314.6,1216.17 315.4,1217.08 316.2,1216.43 317,1217.6 317.8,1218.07 318.6,1217.69 319.4,1216.75 320.2,1216.65 321,1216.43 321.8,1216.97 322.6,1216.44 323.4,1216.73 324.2,1216.48 325,1217.25 325.8,1217.85 326.6,1217.59 327.4,1217.56 328.2,1217.57 329,1217.87 329.8,1217.05 330.6,1216.75 331.4,1216.12 332.2,1216.31 333,1216.88 333.8,1216.61 334.6,1216.75 335.4,1216.47 336.2,1217.11 337,1216.35 337.8,1216.09 338.6,1216.54 339.4,1216.68 340.2,1216.09 341,1215.82 341.8,1216.06 342.6,1217.03 343.4,1217.21 344.2,1216.73 345,1217.55 345.8,1217.2 346.6,1216.38 347.4,1216.26 348.2,1217.33 349,1216.76 349.8,1216.87 350.6,1216.71 351.4,1217.72 352.2,1217.26 353,1218.07 353.8,1217.91 354.6,1217.02 355.4,1217.61 356.2,1217.25" fill="none" stroke="#e8202a" stroke-width="2.9" stroke-linejoin="round"/>
<polyline points="4.4,1216.23 6.5,1216.53 8.6,1216.69 9.2,1213.8 10.7,1124.35 10.9,1125.94 11.7,1126.58 12.5,1128.48 13.3,1130.74 14.1,1131.48 14.9,1132.19 15.7,1134.83 16.5,1136.79 17.3,1137.24 18.1,1138.54 18.9,1138.59 19.7,1140.5 20.5,1140.67 21.3,1140.34 22.1,1141.88 22.9,1142.35 23.7,1142.54 24.5,1144.21 25.3,1143.84 26.1,1143.25 26.9,1144.09 27.7,1144.58 28.5,1144.43 29.3,1145.1 30.1,1145.77 30.9,1145.9 31.7,1147.19 32.5,1147.87 33.3,1148.08 34.1,1147.53 34.9,1147.52 35.7,1147.09 36.5,1147.02 37.3,1147.66 38.1,1148.35 38.9,1149.41 39.7,1150.26 40.5,1150.11 41.3,1150.19 42.1,1150.14 42.9,1151.06 43.7,1151.53 44.5,1152.35 45.3,1151.69 46.1,1152.05 46.9,1153.84 47.7,1152.8 48.5,1153.01 49.3,1153.6 50.1,1153.67 50.9,1154.5 51.7,1154.99 52.5,1154.5 53.3,1155.03 54.1,1155.76 54.9,1156.07 55.7,1157 56.5,1157.43 57.3,1156.31 58.1,1157.51 58.9,1157.39 59.7,1157.6 60.5,1159.15 61.3,1158.42 62.1,1158.81 62.9,1158.6 63.7,1160.01 64.5,1159.69 65.3,1161.14 66.1,1161.03 66.9,1159.92 67.7,1160.84 68.5,1160.52 69.3,1161.14 70.1,1161.94 70.9,1162.45 71.7,1162.15 72.5,1163.13 73.3,1163.97 74.1,1163.62 74.9,1163.98 75.7,1163.58 76.5,1163.7 77.3,1164.84 78.1,1165.3 78.9,1165.73 79.7,1166.18 80.5,1166.65 81.3,1167.56 82.1,1167.07 82.9,1167.13 83.7,1168.5 84.5,1168.87 85.3,1167.24 86.1,1168.18 86.9,1168.87 87.7,1169.07 88.5,1169.69 89.3,1169 90.1,1168.84 90.9,1168.47 91.7,1168.64 92.5,1169.71 93.3,1169.74 94.1,1169.76 94.9,1169.26 95.7,1169.26 96.5,1169.52 97.3,1170.29 98.1,1170.94 98.9,1170.71 99.7,1170.35 100.5,1171.33 101.3,1171.14 102.1,1171.56 102.9,1171.54 103.7,1171.75 104.5,1170.74 105.3,1170.98 106.1,1170.72 106.9,1170.17 107.7,1170.89 108.5,1171.42 109.3,1171.72 110.1,1171.31 110.9,1171.43 111.7,1172.3 112.5,1172.16 113.3,1173.08 114.1,1173.44 114.9,1173.58 115.7,1173.94 116.5,1173.16 117.3,1173.14 118.1,1172.86 118.9,1174.28 119.7,1173.33 120.5,1172.51 121.3,1173.51 122.1,1174.25 122.9,1174.69 123.7,1174.15 124.5,1174.2 125.3,1175.01 126.1,1174.98 126.9,1175.37 127.7,1175 128.7,1239 129.7,1224 130.5,1222.61 131.3,1222.12 132.1,1221.41 132.9,1219.87 133.7,1219.58 134.5,1219.5 135.3,1218.77 136.1,1218.42 136.9,1217.71 137.7,1217.87 138.5,1218.42 139.3,1218.53 140.1,1218.09 140.9,1218.35 141.7,1218.35 142.5,1217.98 143.3,1217.56 144.1,1217.69 144.9,1218.24 145.7,1217.75 146.5,1218.35 147.3,1217.82 148.1,1217.25 148.9,1217.57 149.7,1216.81 150.5,1216.67 151.3,1216.59 152.1,1216.25 152.9,1216.45 153.7,1215.81 154.5,1216.3 155.3,1216.37 156.1,1216.57 156.9,1216.26 157.7,1216.42 158.5,1216.77 159.3,1217.28 160.1,1216.78 160.9,1217.47 161.7,1217.15 162.5,1217.31 163.3,1217.57 164.1,1217.16 164.9,1217.6 165.7,1217.57 166.5,1217.18 167.3,1217.39 168.1,1217.01 168.9,1216.87 169.7,1216.31 170.5,1215.94 171.3,1216.81 172.1,1217.26 172.9,1216.93 173.7,1217.13 174.5,1217.26 175.3,1217.11 176.1,1217.14 176.9,1216.86 177.7,1217.19 178.5,1217.11 179.3,1216.95 180.1,1216.94 180.9,1217.07 181.7,1217.11 182.5,1217.08 183.3,1217.46 184.1,1216.42 184.9,1217.28 185.7,1216.85 186.5,1216.13 187.3,1216.08 188.1,1217.31 188.9,1216.96 189.7,1216.47 190.5,1217.27 191.3,1217.38 192.1,1217.39 192.9,1217.83 193.7,1217.89 194.5,1217.95 195.3,1217.58 196.1,1217.73 196.9,1217.35 197.7,1217.76 198.5,1217.64 199.3,1217.87 200.1,1217.14 200.9,1216.8 201.7,1217.02 202.5,1216.43 203.3,1216.85 203.8,1218.8 205.2,1124.8 206.2,1127.23 207,1128.75 207.8,1130.25 208.6,1131.84 209.4,1133.78 210.2,1134.25 211,1135.02 211.8,1135.66 212.6,1136.94 213.4,1136.71 214.2,1137.47 215,1138.12 215.8,1138.67 216.6,1138.15 217.4,1139.47 218.2,1140.04 219,1141.37 219.8,1141.25 220.6,1141.97 221.4,1142.31 222.2,1142.68 223,1142.84 223.8,1144.13 224.6,1143.71 225.4,1145.02 226.2,1145.05 227,1145.86 227.8,1146.9 228.6,1147.15 229.4,1147.85 230.2,1147.29 231,1147.26 231.8,1146.88 232.6,1146.91 233.4,1146.94 234.2,1147.85 235,1148.05 235.8,1149.57 236.6,1149.53 237.4,1149.61 238.2,1150.11 239,1149.5 239.8,1149.54 240.6,1149.37 241.4,1150.04 242.2,1151.34 243,1151.5 243.8,1151.62 244.6,1151.74 245.4,1153 246.2,1152.13 247,1152.2 247.8,1151.61 248.6,1152.42 249.4,1152.71 250.2,1153.27 251,1153.8 251.8,1154.55 252.6,1154.45 253.4,1154.68 254.2,1153.91 255,1154.64 255.8,1155.05 256.6,1155.43 257.4,1155.48 258.2,1156.26 259,1156.15 259.8,1156.63 260.6,1156.83 261.4,1157.23 262.2,1157.77 263,1158.34 264.2,1223.8 265.2,1221.02 266,1220.46 266.8,1219.71 267.6,1219.48 268.4,1218.9 269.2,1217.53 270,1217.25 270.8,1217.63 271.6,1218.86 272.4,1218.99 273.2,1218.13 274,1217.66 274.8,1216.57 275.6,1216.82 276.4,1216.93 277.2,1216.77 278,1216.9 278.8,1216.72 279.6,1216.88 280.4,1216.85 281.2,1217.17 282,1216.54 282.8,1216.88 283.6,1217.13 284.4,1217.2 285.2,1216.7 286,1216.69 286.8,1217.25 287.6,1217.54 288.4,1217.13 289.2,1216.97 290,1216.87 290.8,1217.11 291.6,1217.09 292.4,1216.71 293.2,1216.93 294,1216.86 294.8,1216.8 295.6,1216.69 296.4,1217.08 297.2,1216.74 298,1216.9 298.8,1217.19 299.6,1217.62 300.4,1217.2 301.2,1217.01 302,1217.36 302.8,1216.88 303.6,1217.94 304.4,1216.93 305.2,1217.23 306,1217.27 306.8,1216.79 307.6,1217.35 308.4,1217.52 309.2,1216.36 310,1215.89 310.8,1216 311.6,1216.13 312.4,1216.67 313.2,1216.66 314,1216.27 314.8,1216.79 315.6,1216.22 316.4,1216.48 317.2,1216.94 318,1216.54 318.8,1216.18 319.6,1216.3 320.4,1216.38 321.2,1216.3 322,1217.07 322.8,1216.57 323.6,1216.38 324.4,1215.8 325.2,1216.45 326,1216.36 326.8,1216.68 327.6,1217.12 328.4,1216.55 329.2,1216.76 330,1216.43 330.8,1217.21 331.6,1216.34 332.4,1216.97 333.2,1216.65 334,1216.52 334.8,1217.78 335.6,1216.86 336.4,1217.4 337.2,1217.07 338,1216.8 338.8,1216.73 339.6,1216.8 340.4,1216.81 341.2,1217.21 342,1217.12 342.8,1218.26 343.6,1217.75 344.4,1216.56 345.2,1216.05 346,1215.91 346.8,1216.37 347.6,1216.89 348.4,1215.65 349.2,1215.64 350,1216.22 350.8,1215.95 351.6,1216.37 352.4,1216.14 353.2,1216.07 354,1216.68 354.8,1216.82 355.6,1217.17 356.4,1216.14" fill="none" stroke="#e8202a" stroke-width="2.9" stroke-linejoin="round"/>
<polyline points="4.4,1217.37 6.5,1217.63 8.6,1217.51 9.2,1213.8 10.7,1124.88 10.9,1127 11.7,1128.9 12.5,1131.95 13.3,1133.21 14.1,1134.6 14.9,1135.17 15.7,1136.76 16.5,1136.79 17.3,1138.04 18.1,1138.43 18.9,1138.49 19.7,1139.21 20.5,1140.4 21.3,1141.19 22.1,1142.09 22.9,1142.89 23.7,1143.67 24.5,1144.48 25.3,1145.19 26.1,1144.79 26.9,1144.54 27.7,1145.02 28.5,1146.04 29.3,1146.84 30.1,1147.05 30.9,1147.72 31.7,1146.59 32.5,1148.24 33.3,1147.73 34.1,1147.49 34.9,1147.59 35.7,1147.73 36.5,1148.11 37.3,1148.03 38.1,1149.05 38.9,1149.8 39.7,1150.79 40.5,1150.81 41.3,1150.18 42.1,1151.5 42.9,1152.33 43.7,1153.02 44.5,1153.2 45.3,1153.51 46.1,1152.89 46.9,1152.24 47.7,1153.32 48.5,1153.35 49.3,1153.78 50.1,1154.91 50.9,1154.87 51.7,1156.6 52.5,1157.29 53.3,1156.75 54.1,1156.73 54.9,1156.55 55.7,1156.75 56.5,1156.57 57.3,1158.18 58.1,1157.95 58.9,1158.05 59.7,1158.99 60.5,1159.2 61.3,1159.86 62.1,1160.84 62.9,1160.41 63.7,1160.86 64.5,1161.21 65.3,1160.94 66.1,1160.54 66.9,1161.98 67.7,1162.08 68.5,1164.17 69.3,1163.03 70.1,1164.71 70.9,1165.33 71.7,1165.02 72.5,1165.18 73.3,1165.37 74.1,1166.23 74.9,1166.67 75.7,1165.86 76.5,1165.93 77.3,1165.68 78.1,1166.5 78.9,1166.03 79.7,1166.36 80.5,1166.13 81.3,1165.61 82.1,1166.31 82.9,1166.89 83.7,1168 84.5,1169.21 85.3,1169.84 86.1,1169.62 86.9,1170.44 87.7,1171.06 88.5,1171.47 89.3,1171.13 90.1,1171.81 90.9,1172.47 91.7,1171.85 92.5,1172.02 93.3,1172 94.1,1171.88 94.9,1171.72 95.7,1172.52 96.5,1171.51 97.3,1172.4 98.1,1171.86 98.9,1171.84 99.7,1172.99 100.5,1172.03 101.3,1172.8 102.1,1171.71 102.9,1172.2 103.7,1173.56 104.5,1173.54 105.3,1174.81 106.1,1174.08 106.9,1174.65 107.7,1173.66 108.5,1172.37 109.3,1172.82 110.1,1173.84 110.9,1172.49 111.7,1174.09 112.5,1174.64 113.3,1174.51 114.1,1173.07 114.9,1173.51 115.7,1173.05 116.5,1173.61 117.3,1173.93 118.1,1175.15 118.9,1174.64 119.7,1174.77 120.5,1175.44 121.3,1174.58 122.1,1175.12 122.9,1175.28 123.7,1175.52 124.5,1174.6 125.3,1175.45 126.1,1176.08 126.9,1176.35 127.7,1175.34 128.7,1239 129.7,1223.14 130.5,1221.78 131.3,1221.31 132.1,1220.8 132.9,1219.9 133.7,1219.71 134.5,1219.08 135.3,1218.63 136.1,1219.24 136.9,1219.09 137.7,1218.54 138.5,1219.22 139.3,1218.47 140.1,1218.13 140.9,1217.8 141.7,1217.25 142.5,1216.39 143.3,1216.9 144.1,1217.92 144.9,1217.66 145.7,1217.51 146.5,1217.16 147.3,1217.22 148.1,1217.36 148.9,1216.18 149.7,1216.51 150.5,1216.38 151.3,1216.6 152.1,1216.43 152.9,1216.03 153.7,1216.09 154.5,1215.29 155.3,1215.96 156.1,1216.34 156.9,1216.54 157.7,1215.97 158.5,1216.17 159.3,1216.33 160.1,1216.21 160.9,1216.23 161.7,1216.41 162.5,1216 163.3,1216.26 164.1,1216.56 164.9,1216.84 165.7,1217.13 166.5,1216.5 167.3,1216.21 168.1,1216.18 168.9,1215.89 169.7,1216.07 170.5,1216.59 171.3,1216.32 172.1,1216.23 172.9,1216.52 173.7,1216.05 174.5,1215.87 175.3,1216.19 176.1,1216.46 176.9,1216.08 177.7,1216.07 178.5,1215.53 179.3,1216.05 180.1,1216.22 180.9,1216.57 181.7,1216.74 182.5,1216.53 183.3,1216.21 184.1,1216.31 184.9,1216.36 185.7,1216.15 186.5,1216.2 187.3,1215.89 188.1,1215.99 188.9,1216.86 189.7,1217.2 190.5,1217.48 191.3,1217.04 192.1,1217.55 192.9,1216.75 193.7,1217.72 194.5,1217.56 195.3,1217.19 196.1,1216.97 196.9,1216.9 197.7,1216.93 198.5,1217.13 199.3,1217.31 200.1,1216.95 200.9,1217.31 201.7,1217.16 202.5,1217.56 203.3,1217.48 204.1,1216.74 204.9,1217.14 205.7,1216.94 206.5,1216.81 207.3,1216.6 208.1,1216.1 208.9,1216.19 209.7,1216.69 210.5,1216.12 211.3,1216.3 212.1,1216.87 212.9,1216.48 213.7,1216.29 214.5,1216.66 215.3,1216.79 216.1,1216.9 216.9,1216.61 217.7,1216.36 218.5,1216.95 219.3,1216.47 220.1,1216.68 220.9,1217.49 221.7,1216.96 222.5,1217.29 223.3,1216.29 224.1,1217.1 224.9,1216.81 225.7,1217.31 226.5,1217.04 227.3,1216.58 228.1,1216.21 228.9,1216.6 229.7,1216.57 230.5,1216.97 231.3,1217.06 232.1,1216.56 232.9,1216.55 233.7,1216.72 234.5,1216.65 235.3,1215.93 236.1,1216.15 236.9,1216.81 237.7,1216.57 238.5,1216.61 239.3,1217.42 240.1,1217.52 240.9,1217.75 241.7,1217.7 242.5,1217.79 243.3,1218.37 244.1,1217.91 244.9,1217.47 245.7,1216.47 246.5,1217.51 247.3,1216.64 248.1,1216.72 248.9,1217.2 249.7,1216.84 250.5,1216.22 251.3,1216.5 252.1,1215.73 252.9,1216.46 253.7,1216.51 254.5,1216.58 255.3,1216.75 256.1,1216.45 256.9,1216.54 257.7,1216.14 258.5,1215.65 259.3,1215.91 260.1,1216.27 260.9,1215.78 261.7,1216.62 262.5,1216.8 263.3,1217.59 264.1,1216.98 264.9,1217.12 265.7,1217.13 266.5,1217.31 267.3,1216.97 268.1,1217.12 268.9,1216.8 269.7,1216.55 270.5,1217.5 271.3,1216.79 272.1,1216.67 272.9,1216.23 273.7,1216 274.5,1215.82 275.3,1216.18 276.1,1216.6 276.9,1216.64 277.7,1216.62 278.5,1218.8 279.9,1122.1 280.9,1124.25 281.7,1125.73 282.5,1126.19 283.3,1127.69 284.1,1129.66 284.9,1130.18 285.7,1131.81 286.5,1132.49 287.3,1133.82 288.1,1133.85 288.9,1134.71 289.7,1136.13 290.5,1136.61 291.3,1136.89 292.1,1137.62 292.9,1138.04 293.7,1138.05 294.5,1139.26 295.3,1139.82 296.1,1139.83 296.9,1140.53 297.7,1140.76 298.5,1141 299.3,1142.38 300.1,1142.34 300.9,1142.41 301.7,1142.85 302.5,1143.88 303.3,1144.27 304.1,1144.26 304.9,1144.84 305.7,1144.4 306.5,1144.73 307.3,1145.03 308.1,1145.21 308.9,1146.04 309.7,1146.15 310.5,1146.4 311.3,1146.94 312.1,1146.84 312.9,1146.72 313.7,1147.2 314.5,1147.94 315.3,1148.33 316.1,1148.66 316.9,1147.68 317.7,1149.3 318.5,1149.71 319.3,1149.26 320.1,1149.55 320.9,1149.06 321.7,1149.61 322.5,1149.72 323.3,1150.09 324.1,1150.32 324.9,1150.54 325.7,1150.53 326.5,1151.1 327.3,1151.7 328.1,1151.35 328.9,1151.86 329.7,1152.02 330.5,1153.22 331.3,1153.3 332.1,1154.03 332.9,1154.18 333.7,1154.31 334.5,1154.2 335.3,1154.23 336.1,1153.8 336.9,1154.11 337.7,1154.56 338.9,1223.8 339.9,1219.61 340.7,1218.91 341.5,1218.96 342.3,1218.63 343.1,1218.31 343.9,1218.41 344.7,1217.88 345.5,1217.54 346.3,1217.19 347.1,1217.31 347.9,1216.76 348.7,1216.62 349.5,1217.45 350.3,1217.01 351.1,1217.31 351.9,1217.19 352.7,1216.82 353.5,1216.5 354.3,1217.43 355.1,1217.11 355.9,1216.28 356.7,1215.75" fill="none" stroke="#e8202a" stroke-width="2.9" stroke-linejoin="round"/>
<polyline points="4.4,1391.98 6.5,1392.71 8.6,1393.19 9.2,1390.1 10.2,1309.7 10.4,1308.19 11.2,1311.92 12,1313.59 12.8,1316.65 13.6,1318.51 14.4,1319.7 15.2,1320.51 16,1322.33 16.8,1323.66 17.6,1324.57 18.4,1325.5 19.2,1325.64 20,1326.34 20.8,1327.27 21.6,1327.69 22.4,1328.22 23.2,1330 24,1331.25 24.8,1331.1 25.6,1329.99 26.4,1331.09 27.2,1330.59 28,1329.99 28.8,1329.96 29.6,1330.02 30.4,1330.33 31.2,1330.99 32,1330.92 32.8,1332.42 33.6,1332.71 34.4,1332.5 35.2,1333.74 36,1334.66 36.8,1333.88 37.6,1333.41 38.4,1334.61 39.2,1333.79 40,1335.02 40.8,1334.83 41.6,1334.42 42.4,1334.6 43.2,1335.09 44,1335.39 44.8,1335.91 45.6,1336.41 46.4,1337.04 47.2,1336.44 48,1337.03 48.8,1337.33 49.6,1336.56 50.4,1336.67 51.2,1337.77 52,1338.71 52.8,1338.62 53.6,1339.25 54.4,1338.67 55.2,1339.31 56,1339.31 56.8,1339.53 57.6,1338.49 58.4,1338.82 59.2,1338.73 60,1338.57 60.8,1338.83 61.6,1338.76 62.4,1338.87 63.2,1338.51 64,1339.96 64.8,1339.57 65.6,1340.37 66.4,1339.33 67.2,1340.68 68,1341.04 68.8,1341.75 69.6,1342.83 70.4,1341.94 71.2,1342.33 72,1341.87 72.8,1341.47 73.6,1341.56 74.4,1341.08 75.2,1341.34 76,1341.58 76.8,1341.7 77.6,1342.02 78.4,1342.7 79.2,1342.97 80,1343.82 80.8,1343.39 81.6,1343.55 82.4,1344.1 83.2,1343.73 84,1344.03 84.8,1343.53 85.6,1343.33 86.4,1344.37 87.2,1344.11 88,1343.96 88.8,1343.8 89.6,1345 90.4,1343.55 91.2,1344 92,1344.01 92.8,1344.87 93.6,1344.75 94.4,1344.45 95.2,1344.73 96,1345.73 96.8,1345.57 97.6,1345.3 98.4,1345.04 99.2,1344.24 100,1345.29 100.8,1345.99 101.6,1345.12 102.4,1345.69 103.2,1346.25 104,1346.83 104.8,1345.69 105.6,1346.13 106.4,1346.54 107.2,1346.55 108,1346.8 108.8,1346.7 109.6,1346.95 110.4,1346.47 111.2,1346.12 112,1345.79 112.8,1345.57 113.6,1347.14 114.4,1346.77 115.2,1347.33 116,1346.72 116.8,1346.5 117.6,1346.88 118.4,1347.29 119.2,1346.95 120,1346.9 120.8,1346.8 121.6,1346.44 122.4,1347.51 123.2,1347.24 124,1347.05 124.8,1347.36 125.6,1346.75 126.4,1347.6 127.2,1348.14 128,1347.66 128.7,1413.7 129,1395.1 130.4,1337 131.4,1340.98 132.2,1343.59 133,1345.02 133.8,1346.94 134.6,1348.99 135.4,1350.54 136.2,1351.33 137,1352.9 137.8,1353.92 138.6,1353.72 139.4,1354.8 140.2,1354.86 141,1355.4 141.8,1355.89 142.6,1356.02 143.4,1356.19 144.2,1355.74 145,1356.55 145.8,1357.09 146.6,1357.21 147.4,1357.59 148.2,1358.17 149,1357.8 149.8,1358.18 150.6,1358.58 151.4,1357.86 152.2,1358.49 153,1357.87 153.8,1358.06 154.6,1358.54 155.4,1357.91 156.2,1358.23 157,1358.59 157.8,1358.44 158.6,1358.55 159.4,1358.39 160.2,1357.25 161,1357.63 161.8,1358.16 162.6,1358.64 163.4,1359.52 164.2,1359.52 165,1358.86 165.8,1358.32 166.6,1358.26 167.4,1359.37 168.2,1358.98 169,1358.89 169.8,1359.65 170.6,1359.75 171.4,1360.16 172.2,1359.62 173,1359.9 173.8,1359.51 174.6,1360.07 175.4,1360.01 176.2,1360.66 177,1360.57 177.8,1360.2 178.6,1360.3 179.4,1359.97 180.2,1359.98 181,1360.35 181.8,1359.4 182.6,1359.99 183.4,1360.91 184.2,1360.76 185,1360.69 185.8,1360.42 186.6,1360.44 187.4,1359.64 188.2,1360.69 189.4,1400.1 190.4,1395.85 191.2,1395.85 192,1394.87 192.8,1394.63 193.6,1394.47 194.4,1394 195.2,1393.18 196,1393.47 196.8,1394.3 197.6,1394.02 198.4,1393.89 199.2,1393.63 200,1393.27 200.8,1393.54 201.6,1393.72 202.4,1393.02 203.2,1393.54 204,1392.59 204.8,1393.17 205.6,1393.55 206.4,1393.75 207.2,1392.91 208,1392.11 208.8,1392.88 209.6,1393.33 210.4,1392.4 211.2,1391.93 212,1391.65 212.8,1392.14 213.6,1392.83 214.4,1393.18 215.2,1393.78 216,1392.9 216.8,1393.46 217.6,1392.96 218.4,1393.41 219.2,1392.54 220,1392.89 220.8,1393 221.6,1392.35 222.4,1392.53 223.2,1392.72 224,1392.67 224.8,1392.69 225.6,1392.97 226.4,1392.79 227.2,1393.43 228,1393.03 228.8,1393.61 229.6,1393.99 230.4,1393.96 231.2,1393.53 232,1393.85 232.8,1392.94 233.6,1393.74 234.4,1393.6 235.2,1392.73 236,1392.96 236.8,1392.31 237.6,1393.16 238.4,1392.12 239.2,1392.26 240,1393.37 240.8,1393.37 241.6,1393.24 242.4,1392.72 243.2,1392.3 244,1391.8 244.8,1392.67 245.6,1393.03 246.4,1393.76 247.2,1393.61 248,1393.29 248.8,1393.39 249.6,1393.08 250.4,1392.3 251.2,1391.98 252,1392.34 252.8,1393.03 253.6,1393.01 254.4,1393.17 255.2,1392.4 256,1392.91 256.8,1393.49 257.6,1393.88 258.4,1393.22 259.2,1394.43 260,1394.1 260.8,1394.54 261.6,1393.96 262.4,1394.71 263.2,1393.89 264,1393.71 264.8,1393.75 265.6,1393.42 266.4,1393.21 267.2,1392.52 268,1392.32 268.8,1392.51 269.6,1392.82 270.4,1394.1 271.2,1393.94 272,1393.9 272.8,1393.78 273.6,1393.86 274.4,1393.85 275.2,1393.84 276,1393.76 276.8,1393.35 277.6,1393.67 278.4,1393.48 279.2,1393.09 280,1393.01 280.8,1393.34 281.6,1392.49 282.4,1393.31 283.2,1393.23 284,1393.14 284.8,1392.79 285.6,1392.83 286.4,1392.66 287.2,1392.53 288,1392.87 288.8,1392.17 289.6,1393.37 290.4,1393.27 291.2,1393.07 292,1393.11 292.8,1393.16 293.6,1393.28 294.4,1394 295.2,1394.06 296,1393.32 296.8,1393.98 297.6,1394.07 298.4,1393.71 299.2,1393.36 300,1393.56 300.8,1393.33 301.6,1393.72 302.4,1394.45 303.2,1393.66 304,1393.27 304.8,1393.4 305.6,1393.31 306.4,1393.12 307.2,1393.08 308,1393.51 308.8,1393.43 309.6,1393.08 310.4,1393.47 311.2,1393.66 312,1392.98 312.8,1392.39 313.6,1392.11 314.4,1392.11 315.2,1392.6 316,1392.5 316.8,1392.08 317.6,1391.95 318.4,1392.65 319.2,1392.34 320,1392.77 320.8,1392.98 321.6,1393.92 322.4,1393.6 323.2,1393.46 324,1393.64 324.8,1393.45 325.6,1392.71 326.4,1392.79 327.2,1393.33 328,1393.94 328.8,1393.77 329.6,1394.03 330.4,1393.47 331.2,1393.94 332,1392.87 332.8,1393.27 333.6,1393.53 334.4,1393.05 335.2,1392.08 336,1392.19 336.8,1391.89 337.6,1392.26 338.4,1392.5 339.2,1393.14 340,1392.81 340.8,1392.75 341.6,1392.82 342.4,1391.9 343.2,1392.81 344,1392.59 344.8,1392.22 345.6,1393.13 346.4,1392.72 347.2,1393.37 348,1393.64 348.8,1393.53 349.6,1393.82 350.4,1393 351.2,1392.41 352,1393.07 352.8,1393.07 353.6,1393.55 354.4,1393.83 355.2,1394.09 356,1392.87 356.8,1393.34" fill="none" stroke="#222222" stroke-width="2.7" stroke-linejoin="round"/>
<polyline points="4.4,1393.26 6.5,1393.66 8.6,1393.44 9.2,1390.1 10.2,1310.22 10.4,1310.5 11.2,1312.06 12,1314.12 12.8,1316.48 13.6,1318.03 14.4,1319.99 15.2,1321.07 16,1323.09 16.8,1324.79 17.6,1326.39 18.4,1326.6 19.2,1327.66 20,1328.69 20.8,1328.64 21.6,1328.8 22.4,1328.83 23.2,1329.67 24,1331.51 24.8,1330.64 25.6,1331.33 26.4,1332.37 27.2,1332.95 28,1331.86 28.8,1332.48 29.6,1332.49 30.4,1333.26 31.2,1333.08 32,1333.01 32.8,1332.91 33.6,1333.63 34.4,1332.46 35.2,1333.11 36,1333.92 36.8,1334.64 37.6,1334.71 38.4,1335.87 39.2,1334.98 40,1333.27 40.8,1333.1 41.6,1334.65 42.4,1334.46 43.2,1334.64 44,1334.92 44.8,1335.72 45.6,1336.56 46.4,1337.68 47.2,1338.45 48,1338.27 48.8,1337.86 49.6,1337.54 50.4,1338.52 51.2,1339.01 52,1340.12 52.8,1339.23 53.6,1339.74 54.4,1339.85 55.2,1339.82 56,1339.79 56.8,1339.53 57.6,1339.91 58.4,1340.95 59.2,1338.96 60,1339.94 60.8,1340.22 61.6,1340.81 62.4,1341.11 63.2,1340.44 64,1340.05 64.8,1341.86 65.6,1341.58 66.4,1342.48 67.2,1342.27 68,1342.43 68.8,1342.14 69.6,1341.59 70.4,1341.26 71.2,1341.59 72,1341.02 72.8,1341.71 73.6,1341.98 74.4,1342.21 75.2,1342.62 76,1342.3 76.8,1343.06 77.6,1342.95 78.4,1342.4 79.2,1343.31 80,1343.92 80.8,1344.16 81.6,1344.52 82.4,1344.08 83.2,1343.23 84,1344.37 84.8,1344.54 85.6,1344.35 86.4,1344.5 87.2,1344.36 88,1344.38 88.8,1345.31 89.6,1345.78 90.4,1345.02 91.2,1345.57 92,1345.35 92.8,1346.04 93.6,1345.49 94.4,1345.69 95.2,1346.56 96,1346.63 96.8,1346.03 97.6,1346.21 98.4,1345.61 99.2,1346.39 100,1346.44 100.8,1346.18 101.6,1347.53 102.4,1347.65 103.2,1347.16 104,1346.91 104.8,1346.71 105.6,1345.6 106.4,1346.62 107.2,1346.94 108,1346.95 108.8,1347.39 109.6,1346.39 110.4,1346.95 111.2,1347.23 112,1347.44 112.8,1347.56 113.6,1347.79 114.4,1347.15 115.2,1347.53 116,1347.71 116.8,1347.35 117.6,1347.86 118.4,1348.19 119.2,1347.46 120,1348.1 120.8,1348.74 121.6,1348.19 122.4,1347.39 123.2,1347.87 124,1349.17 124.8,1348.48 125.6,1348.13 126.4,1348.98 127.2,1349.53 128,1349.8 128.7,1413.7 129.5,1395.1 130.9,1336 131.9,1340.64 132.7,1342.33 133.5,1345.12 134.3,1347.21 135.1,1348.74 135.9,1349.87 136.7,1351.43 137.5,1352.16 138.3,1352.29 139.1,1352.76 139.9,1353 140.7,1354.45 141.5,1354.03 142.3,1354.5 143.1,1353.7 143.9,1355.38 144.7,1355.22 145.5,1355.39 146.3,1356.22 147.1,1356.89 147.9,1357.25 148.7,1356.21 149.5,1355.99 150.3,1357.36 151.1,1357.03 151.9,1356.42 152.7,1358.1 153.5,1357.77 154.3,1357.55 155.1,1357.04 155.9,1357.6 156.7,1358.54 157.5,1357.34 158.3,1357.82 159.1,1357.81 159.9,1358.05 160.7,1357.7 161.5,1357.62 162.3,1357.76 163.1,1357.59 163.9,1357.41 164.7,1357.53 165.5,1358.08 166.3,1358.09 167.1,1357.95 167.9,1358.53 168.7,1357.78 169.5,1358.39 170.3,1359.26 171.1,1358.45 171.9,1359.25 172.7,1360.16 173.5,1360.26 174.3,1359.46 175.1,1358.02 175.9,1358.26 176.7,1359.27 177.5,1359.38 178.3,1359.05 179.1,1359.03 179.9,1359.31 180.7,1359.16 181.5,1359.61 182.3,1358.98 183.1,1358.86 183.9,1359.73 184.7,1360.1 185.5,1360.66 186.3,1360.85 187.1,1360.04 187.9,1360.81 188.7,1361.44 189.9,1400.1 190.9,1398.16 191.7,1397.13 192.5,1396.03 193.3,1395.69 194.1,1395.27 194.9,1394.98 195.7,1394.22 196.5,1394.45 197.3,1393.92 198.1,1394.21 198.9,1394 199.7,1393.8 200.5,1393.96 201.3,1393.79 202.1,1393.4 202.9,1392.91 203.7,1392.63 204.5,1392.68 205.3,1392.89 206.1,1392.59 206.9,1393.27 207.7,1393.52 208.5,1393.16 209.3,1394.07 210.1,1393.16 210.9,1393.78 211.7,1393.56 212.5,1393.31 213.3,1393.96 214.1,1393.82 214.9,1392.86 215.7,1393.07 216.5,1392.52 217.3,1392.53 218.1,1392.3 218.9,1392.6 219.7,1392.61 220.5,1392.81 221.3,1392.8 222.1,1393.19 222.9,1393.8 223.7,1393.73 224.5,1393.46 225.3,1393.23 226.1,1393.59 226.9,1392.93 227.7,1394.3 228.5,1393.55 229.3,1393.23 230.1,1393.44 230.9,1392.57 231.7,1393.38 232.5,1393.23 233.3,1392.56 234.1,1392.5 234.9,1392.37 235.7,1392.97 236.5,1392.94 237.3,1393.01 238.1,1393.23 238.9,1393.27 239.7,1393.87 240.5,1393.8 241.3,1394.4 242.1,1393.21 242.9,1393.81 243.7,1393.21 244.5,1393.32 245.3,1392.35 246.1,1392.77 246.9,1392.99 247.7,1393.96 248.5,1393.59 249.3,1393.33 250.1,1392.63 250.9,1393.07 251.7,1393.35 252.5,1392.75 253.3,1393.21 254.1,1393.64 254.9,1393.33 255.7,1393.63 256.5,1393.35 257.3,1393.76 258.1,1392.95 258.9,1392.44 259.7,1392.36 260.5,1392.19 261.3,1392.05 262.1,1391.8 262.9,1392.16 263.7,1392.2 264.5,1392.46 265.3,1392.77 266.1,1392.36 266.9,1392.78 267.7,1393.16 268.5,1393.45 269.3,1393.49 270.1,1393.38 270.9,1393.56 271.7,1393.58 272.5,1393.42 273.3,1393.28 274.1,1392.98 274.9,1392.53 275.7,1392.18 276.5,1392.69 277.3,1392.51 278.1,1392.91 278.9,1391.96 279.7,1392.24 280.5,1392.05 281.3,1392.76 282.1,1393.46 282.9,1393.32 283.7,1392.34 284.5,1392.27 285.3,1392.64 286.1,1393.24 286.9,1392.06 287.7,1392.66 288.5,1392.89 289.3,1392.12 290.1,1392.41 290.9,1392.34 291.7,1393.01 292.5,1392.19 293.3,1392.12 294.1,1391.88 294.9,1391.75 295.7,1392.85 296.5,1393.79 297.3,1393.03 298.1,1393.17 298.9,1392.77 299.7,1393.06 300.5,1393.62 301.3,1393.26 302.1,1393.35 302.9,1393.21 303.7,1393.11 304.5,1392.39 305.3,1392.36 306.1,1393.6 306.9,1393.69 307.7,1392.94 308.5,1393.27 309.3,1393.79 310.1,1393.62 310.9,1393.99 311.7,1393.41 312.5,1393.35 313.3,1393.22 314.1,1393.92 314.9,1393.72 315.7,1393.34 316.5,1393.32 317.3,1393.17 318.1,1393.26 318.9,1393.52 319.7,1393.21 320.5,1393.57 321.3,1393.45 322.1,1393.45 322.9,1393.39 323.7,1393.32 324.5,1393.12 325.3,1393.25 326.1,1393.7 326.9,1393.69 327.7,1394.72 328.5,1394.77 329.3,1394.48 330.1,1393.48 330.9,1393.5 331.7,1392.62 332.5,1393.87 333.3,1393.56 334.1,1393.54 334.9,1393.44 335.7,1393.43 336.5,1394.01 337.3,1393.62 338.1,1392.79 338.9,1392.73 339.7,1393.11 340.5,1392.89 341.3,1393.3 342.1,1393.87 342.9,1394.28 343.7,1393.87 344.5,1393.3 345.3,1393.6 346.1,1393.76 346.9,1394.06 347.7,1393.61 348.5,1393.64 349.3,1393.88 350.1,1393.26 350.9,1392.83 351.7,1393.06 352.5,1392.31 353.3,1393.23 354.1,1393.18 354.9,1393.94 355.7,1392.59 356.5,1393.05" fill="none" stroke="#222222" stroke-width="2.7" stroke-linejoin="round"/>
<polyline points="4.4,1393.39 6.5,1393.85 8.6,1393.12 9.2,1390.1 10.2,1310.75 10.4,1310.08 11.2,1311.9 12,1314.53 12.8,1317.64 13.6,1318.85 14.4,1321.22 15.2,1323.21 16,1325.04 16.8,1326.66 17.6,1325.87 18.4,1326.97 19.2,1328.02 20,1327.94 20.8,1330.25 21.6,1329.41 22.4,1329.96 23.2,1330.56 24,1332.08 24.8,1331.74 25.6,1331.65 26.4,1331.12 27.2,1331.71 28,1332.7 28.8,1332.5 29.6,1333.18 30.4,1333.94 31.2,1332.97 32,1332.8 32.8,1333.58 33.6,1333.69 34.4,1334.49 35.2,1334.27 36,1333.86 36.8,1334.08 37.6,1334.76 38.4,1333.51 39.2,1334.17 40,1334.8 40.8,1335.39 41.6,1336.27 42.4,1335.45 43.2,1335.76 44,1336.95 44.8,1338.91 45.6,1338.91 46.4,1338.24 47.2,1338.99 48,1339.08 48.8,1338.28 49.6,1337.82 50.4,1338.17 51.2,1337.77 52,1338.08 52.8,1337.96 53.6,1337.98 54.4,1338.26 55.2,1339.13 56,1339.82 56.8,1340.75 57.6,1341.54 58.4,1340.35 59.2,1341.69 60,1341.08 60.8,1342.03 61.6,1342.85 62.4,1343.25 63.2,1342.62 64,1342.46 64.8,1341.38 65.6,1341.27 66.4,1340.87 67.2,1342.03 68,1343.29 68.8,1343.07 69.6,1343.25 70.4,1343.69 71.2,1343.61 72,1342.42 72.8,1343.01 73.6,1343.02 74.4,1343.49 75.2,1343.99 76,1344.09 76.8,1344.49 77.6,1346.08 78.4,1346.26 79.2,1345.42 80,1345.61 80.8,1346.26 81.6,1345.71 82.4,1345.54 83.2,1346.27 84,1346.11 84.8,1346.74 85.6,1346.73 86.4,1347.36 87.2,1348.01 88,1348.09 88.8,1347.66 89.6,1346.67 90.4,1346.33 91.2,1344.94 92,1346.48 92.8,1345.87 93.6,1346.11 94.4,1346.7 95.2,1347.09 96,1347.15 96.8,1345.93 97.6,1345.73 98.4,1345.6 99.2,1345.77 100,1346.55 100.8,1347.52 101.6,1348.37 102.4,1347.9 103.2,1348.37 104,1348.33 104.8,1348.04 105.6,1348.45 106.4,1348.43 107.2,1347.48 108,1347.83 108.8,1348.65 109.6,1349.74 110.4,1348.45 111.2,1347.77 112,1348.14 112.8,1349.04 113.6,1348.59 114.4,1347.39 115.2,1348.11 116,1347.92 116.8,1347.77 117.6,1348.96 118.4,1349.71 119.2,1349.55 120,1348.6 120.8,1348.25 121.6,1348.96 122.4,1347.95 123.2,1348.49 124,1348.41 124.8,1349.65 125.6,1347.64 126.4,1348.57 127.2,1348.03 128,1348.31 128.7,1413.7 129.7,1399.37 130.5,1395.1 131.9,1333.7 132.9,1338.18 133.7,1341.36 134.5,1343.97 135.3,1346.17 136.1,1347.62 136.9,1349.13 137.7,1349.56 138.5,1350.87 139.3,1351.06 140.1,1352.6 140.9,1352.36 141.7,1353.78 142.5,1354.09 143.3,1353.06 144.1,1353.26 144.9,1353.68 145.7,1353.73 146.5,1354.8 147.3,1354.55 148.1,1354.89 148.9,1354.27 149.7,1353.69 150.5,1354.49 151.3,1354.8 152.1,1355.85 152.9,1355.55 153.7,1355.53 154.5,1355.43 155.3,1355.08 156.1,1354.6 156.9,1355.49 157.7,1355.07 158.5,1355.32 159.3,1355.92 160.1,1356.72 160.9,1356.73 161.7,1356.81 162.5,1356.16 163.3,1356.71 164.1,1356.76 164.9,1356.95 165.7,1356.76 166.5,1357.54 167.3,1357.83 168.1,1358.41 168.9,1358.19 169.7,1357.87 170.5,1357.65 171.3,1357.26 172.1,1357.3 172.9,1357.83 173.7,1357.46 174.5,1358.07 175.3,1357.83 176.1,1357.31 176.9,1357.75 177.7,1357.09 178.5,1357.02 179.3,1357.36 180.1,1357.43 180.9,1357.04 181.7,1356.5 182.5,1357.07 183.3,1357.48 184.1,1357.65 184.9,1358.32 185.7,1358.21 186.5,1358.41 187.3,1358.54 188.1,1358.87 188.9,1359.46 189.7,1358.39 190.9,1400.1 191.9,1396.65 192.7,1396.06 193.5,1395.75 194.3,1395.49 195.1,1394.86 195.9,1395.45 196.7,1394.79 197.5,1394.87 198.3,1394.07 199.1,1393.88 199.9,1393.88 200.7,1394.46 201.5,1394.74 202.3,1394.56 203.1,1394.16 203.9,1393.34 204.7,1393.35 205.5,1392.41 206.3,1392.63 207.1,1392.35 207.9,1392.68 208.7,1392.68 209.5,1392.57 210.3,1393.41 211.1,1392.05 211.9,1392.13 212.7,1393.15 213.5,1392.91 214.3,1392.11 215.1,1392.36 215.9,1393.01 216.7,1392.93 217.5,1392.7 218.3,1393.09 219.1,1392.46 219.9,1392.59 220.7,1392.81 221.5,1392.93 222.3,1393.21 223.1,1392.99 223.9,1393.55 224.7,1393.76 225.5,1393.79 226.3,1393.66 227.1,1393.16 227.9,1393.17 228.7,1392.74 229.5,1392.91 230.3,1393.3 231.1,1393.44 231.9,1392.42 232.7,1392.41 233.5,1392.1 234.3,1392.44 235.1,1392.02 235.9,1392.42 236.7,1392.42 237.5,1393.71 238.3,1393.57 239.1,1392.79 239.9,1393.96 240.7,1393.58 241.5,1394.06 242.3,1393.48 243.1,1393.11 243.9,1393.37 244.7,1392.96 245.5,1392.97 246.3,1393.06 247.1,1393.47 247.9,1392.86 248.7,1392.97 249.5,1392.78 250.3,1392.59 251.1,1392.52 251.9,1393.25 252.7,1392.97 253.5,1393.25 254.3,1392.94 255.1,1393.6 255.9,1393.58 256.7,1393.89 257.5,1393.63 258.3,1393.31 259.1,1392.47 259.9,1392.37 260.7,1393.09 261.5,1392.62 262.3,1392.52 263.1,1392.67 263.9,1392.98 264.7,1392.87 265.5,1392.95 266.3,1393.37 267.1,1393.97 267.9,1393.72 268.7,1393.82 269.5,1394.46 270.3,1393.89 271.1,1392.75 271.9,1393.01 272.7,1393.18 273.5,1393.05 274.3,1392.74 275.1,1392.76 275.9,1392.71 276.7,1392.98 277.5,1392.81 278.3,1393.11 279.1,1393.89 279.9,1393 280.7,1393.44 281.5,1394.3 282.3,1393.69 283.1,1393.4 283.9,1393 284.7,1392.6 285.5,1392.69 286.3,1392.48 287.1,1392.99 287.9,1393.86 288.7,1393.5 289.5,1394.16 290.3,1393.75 291.1,1394.55 291.9,1393.86 292.7,1394.1 293.5,1392.89 294.3,1393.46 295.1,1392.84 295.9,1393.48 296.7,1392.96 297.5,1393.08 298.3,1393 299.1,1393.72 299.9,1393.27 300.7,1394 301.5,1393.37 302.3,1393.7 303.1,1393.75 303.9,1393.9 304.7,1392.99 305.5,1393.51 306.3,1393.84 307.1,1394.33 307.9,1393.21 308.7,1393.23 309.5,1392.98 310.3,1392.74 311.1,1392.93 311.9,1393.12 312.7,1393.11 313.5,1393.53 314.3,1393.69 315.1,1393.3 315.9,1393 316.7,1393.93 317.5,1393.67 318.3,1393.13 319.1,1394.09 319.9,1393.46 320.7,1392.95 321.5,1392.35 322.3,1393.36 323.1,1393.39 323.9,1393.46 324.7,1393.15 325.5,1393.48 326.3,1393.64 327.1,1393.12 327.9,1393.78 328.7,1394.07 329.5,1393.74 330.3,1393.99 331.1,1393.7 331.9,1393.53 332.7,1393.08 333.5,1392.33 334.3,1392.89 335.1,1392.68 335.9,1392.87 336.7,1392.86 337.5,1392.37 338.3,1392.59 339.1,1392.89 339.9,1393.32 340.7,1393.49 341.5,1393.37 342.3,1394 343.1,1393.38 343.9,1393.33 344.7,1393.13 345.5,1392.15 346.3,1392.01 347.1,1392.33 347.9,1392.52 348.7,1392.91 349.5,1392.36 350.3,1392.56 351.1,1392.68 351.9,1392.58 352.7,1393.11 353.5,1393.8 354.3,1393.3 355.1,1393.07 355.9,1393.58 356.7,1393.06" fill="none" stroke="#222222" stroke-width="2.7" stroke-linejoin="round"/>
<polyline points="4.4,1392.58 6.5,1392.18 8.6,1391.27 9.2,1390.1 10.2,1311.27 10.4,1308.51 11.2,1312.06 12,1315.21 12.8,1317.06 13.6,1319.05 14.4,1321.77 15.2,1323.31 16,1324.47 16.8,1327.01 17.6,1329.19 18.4,1328.84 19.2,1329.28 20,1329.94 20.8,1329.97 21.6,1331.07 22.4,1331.36 23.2,1332.17 24,1332.76 24.8,1332.19 25.6,1333.18 26.4,1333.06 27.2,1333.73 28,1332.62 28.8,1333.6 29.6,1335.04 30.4,1334.62 31.2,1335.34 32,1334.29 32.8,1335.45 33.6,1336.12 34.4,1336.47 35.2,1337.33 36,1337.3 36.8,1337.73 37.6,1338.13 38.4,1337.51 39.2,1337.76 40,1337.82 40.8,1338.82 41.6,1339.22 42.4,1339.48 43.2,1339.31 44,1338.73 44.8,1340.02 45.6,1338.36 46.4,1338.37 47.2,1338.88 48,1338.57 48.8,1339.29 49.6,1340.11 50.4,1340.38 51.2,1340.66 52,1341.16 52.8,1339.88 53.6,1340.77 54.4,1340.71 55.2,1340.09 56,1340.32 56.8,1341.62 57.6,1340.32 58.4,1341.48 59.2,1341.75 60,1342.18 60.8,1342.94 61.6,1342.84 62.4,1344.34 63.2,1343.89 64,1343.94 64.8,1342.53 65.6,1343.51 66.4,1344.57 67.2,1344.54 68,1343.44 68.8,1343.05 69.6,1343.15 70.4,1343.83 71.2,1345.47 72,1345.63 72.8,1346.52 73.6,1347.14 74.4,1345.67 75.2,1346.35 76,1345.75 76.8,1345.4 77.6,1346.5 78.4,1346.19 79.2,1346.99 80,1346.1 80.8,1346.18 81.6,1346.31 82.4,1346 83.2,1347.54 84,1347.37 84.8,1347.68 85.6,1347.67 86.4,1347.65 87.2,1346.86 88,1347.03 88.8,1347.36 89.6,1347.45 90.4,1347.72 91.2,1348.03 92,1347.4 92.8,1348.1 93.6,1348.04 94.4,1348.26 95.2,1347.61 96,1347.12 96.8,1347.42 97.6,1346.93 98.4,1347.74 99.2,1347.98 100,1347.87 100.8,1348.59 101.6,1348.06 102.4,1348.78 103.2,1348.63 104,1348.89 104.8,1348.57 105.6,1347.72 106.4,1348.35 107.2,1348.4 108,1349.16 108.8,1349.16 109.6,1348.83 110.4,1347.55 111.2,1347.95 112,1349.12 112.8,1348.69 113.6,1348.78 114.4,1348.74 115.2,1351.03 116,1351.37 116.8,1351.62 117.6,1350.92 118.4,1351.61 119.2,1352.04 120,1350.69 120.8,1351.16 121.6,1351.18 122.4,1351.88 123.2,1352.54 124,1352.35 124.8,1352.34 125.6,1352.27 126.4,1351.09 127.2,1351.23 128,1351.32 128.7,1413.7 129.7,1400.41 130.5,1398.79 131.3,1399.2 132.1,1397.53 132.9,1397.31 133.7,1396.46 134.5,1394.91 135.3,1394.96 135.9,1395.1 137.3,1328.8 138.3,1333.52 139.1,1336.98 139.9,1339.66 140.7,1342.87 141.5,1344.44 142.3,1345.65 143.1,1346.23 143.9,1347.81 144.7,1350.12 145.5,1350.43 146.3,1350.03 147.1,1350.74 147.9,1351.4 148.7,1352.29 149.5,1351.66 150.3,1351.91 151.1,1351.29 151.9,1352.26 152.7,1352.43 153.5,1352.71 154.3,1353.67 155.1,1353.85 155.9,1354.2 156.7,1354.27 157.5,1353.25 158.3,1353.13 159.1,1353.29 159.9,1353.59 160.7,1353.79 161.5,1352.96 162.3,1353.88 163.1,1352.89 163.9,1353.65 164.7,1353.33 165.5,1353.11 166.3,1352.69 167.1,1353.62 167.9,1353.36 168.7,1353.68 169.5,1352.63 170.3,1353.34 171.1,1353.01 171.9,1353.47 172.7,1354.15 173.5,1353.54 174.3,1353.79 175.1,1355.17 175.9,1354.6 176.7,1354.6 177.5,1355.42 178.3,1355.23 179.1,1354.74 179.9,1355.9 180.7,1354.59 181.5,1355.2 182.3,1355.69 183.1,1356.99 183.9,1356.27 184.7,1356.71 185.5,1356.44 186.3,1355.42 187.1,1355.83 187.9,1356.16 188.7,1356.62 189.5,1356.56 190.3,1356.58 191.1,1356.25 191.9,1357.08 192.7,1357.39 193.5,1356.99 194.3,1357.26 195.1,1357.15 196.3,1400.1 197.3,1396.93 198.1,1396.62 198.9,1396.42 199.7,1395.81 200.5,1395.69 201.3,1394.49 202.1,1393.97 202.9,1393.89 203.7,1393.3 204.5,1393.71 205.3,1393.41 206.1,1393.47 206.9,1393.42 207.7,1393.15 208.5,1392.32 209.3,1392.48 210.1,1393.36 210.9,1393.04 211.7,1393.1 212.5,1392.43 213.3,1392.07 214.1,1391.98 214.9,1392.01 215.7,1392.36 216.5,1392.11 217.3,1392.8 218.1,1392.93 218.9,1392.46 219.7,1392.79 220.5,1392.63 221.3,1392.96 222.1,1392.5 222.9,1392.82 223.7,1391.85 224.5,1391.69 225.3,1392.39 226.1,1392.22 226.9,1392.59 227.7,1392.5 228.5,1392.82 229.3,1392.95 230.1,1392.83 230.9,1392.45 231.7,1392.22 232.5,1392.89 233.3,1392.95 234.1,1392.68 234.9,1392.82 235.7,1393.09 236.5,1393.37 237.3,1393.13 238.1,1393.21 238.9,1392.61 239.7,1393.74 240.5,1393.24 241.3,1392.38 242.1,1392.97 242.9,1392.34 243.7,1392.04 244.5,1392.86 245.3,1392.95 246.1,1392.44 246.9,1392.57 247.7,1392.63 248.5,1393.13 249.3,1392.79 250.1,1392.64 250.9,1392.97 251.7,1392.9 252.5,1393.12 253.3,1392.99 254.1,1393.19 254.9,1393.71 255.7,1393.74 256.5,1393.1 257.3,1393.51 258.1,1393.82 258.9,1392.94 259.7,1392.57 260.5,1392.74 261.3,1393.21 262.1,1393.47 262.9,1393.9 263.7,1393.72 264.5,1393.04 265.3,1393.91 266.1,1393.12 266.9,1393.41 267.7,1393.3 268.5,1392.94 269.3,1393.98 270.1,1393.57 270.9,1393.66 271.7,1393.49 272.5,1393.72 273.3,1393.49 274.1,1392.87 274.9,1392.51 275.7,1392.22 276.5,1392.73 277.3,1391.84 278.1,1392.8 278.9,1392 279.7,1392.78 280.5,1392.15 281.3,1392.5 282.1,1392.79 282.9,1392.09 283.7,1392.45 284.5,1392.38 285.3,1393.75 286.1,1393.99 286.9,1393.66 287.7,1393.21 288.5,1393.74 289.3,1393.07 290.1,1393.08 290.9,1393.55 291.7,1393.93 292.5,1392.84 293.3,1393.28 294.1,1393.1 294.9,1393.18 295.7,1392.65 296.5,1392.54 297.3,1394.07 298.1,1393.82 298.9,1393.28 299.7,1393.45 300.5,1393.83 301.3,1393.12 302.1,1392.82 302.9,1393.45 303.7,1394.33 304.5,1394.07 305.3,1393.87 306.1,1393.96 306.9,1394.65 307.7,1393.7 308.5,1393.5 309.3,1393.29 310.1,1393.06 310.9,1392.84 311.7,1393.7 312.5,1393.18 313.3,1393.1 314.1,1392.61 314.9,1392.71 315.7,1392.58 316.5,1392.51 317.3,1393.59 318.1,1393.43 318.9,1393.6 319.7,1392.2 320.5,1392.86 321.3,1393.06 322.1,1392.65 322.9,1392.87 323.7,1392.73 324.5,1392.91 325.3,1393.18 326.1,1392.28 326.9,1392.71 327.7,1393.18 328.5,1393.02 329.3,1392.64 330.1,1393.49 330.9,1392.76 331.7,1393.47 332.5,1392.82 333.3,1392.8 334.1,1393.09 334.9,1393.44 335.7,1393.72 336.5,1393.61 337.3,1393.68 338.1,1393.55 338.9,1393.5 339.7,1393.4 340.5,1393.13 341.3,1393.03 342.1,1392.77 342.9,1392.11 343.7,1392.02 344.5,1391.52 345.3,1391.75 346.1,1391.97 346.9,1391.79 347.7,1393 348.5,1392.59 349.3,1392.65 350.1,1392.58 350.9,1392.65 351.7,1392.49 352.5,1392.71 353.3,1392.09 354.1,1392.03 354.9,1392.74 355.7,1392.68 356.5,1393.09" fill="none" stroke="#222222" stroke-width="2.7" stroke-linejoin="round"/>
<polyline points="4.4,1393.09 6.5,1392.59 8.6,1393.65 9.2,1390.1 10.2,1311.8 10.4,1311.74 11.2,1314.73 12,1316.07 12.8,1318.55 13.6,1320.75 14.4,1321.6 15.2,1324 16,1326.75 16.8,1328.21 17.6,1330.04 18.4,1329.55 19.2,1330.15 20,1331.23 20.8,1332.61 21.6,1333.12 22.4,1332.51 23.2,1333.31 24,1332.59 24.8,1334.5 25.6,1334.04 26.4,1335.14 27.2,1335.02 28,1336.37 28.8,1335.87 29.6,1335.96 30.4,1337.28 31.2,1337.57 32,1336.06 32.8,1335.75 33.6,1336.94 34.4,1336.54 35.2,1337.46 36,1338.4 36.8,1338.74 37.6,1338.6 38.4,1339.77 39.2,1340.14 40,1339.32 40.8,1339.12 41.6,1339.79 42.4,1339.22 43.2,1339.87 44,1339.89 44.8,1339.65 45.6,1340.22 46.4,1340.85 47.2,1340.62 48,1340.74 48.8,1341.6 49.6,1341.97 50.4,1342.11 51.2,1342.57 52,1341.75 52.8,1342.14 53.6,1342.2 54.4,1343.04 55.2,1342.87 56,1343.51 56.8,1343.12 57.6,1343.77 58.4,1343.78 59.2,1342.43 60,1342.83 60.8,1343.33 61.6,1343.53 62.4,1342.81 63.2,1343.26 64,1343.8 64.8,1343.37 65.6,1344.91 66.4,1343.93 67.2,1343.38 68,1344.14 68.8,1344.59 69.6,1344.74 70.4,1344.9 71.2,1345.54 72,1345.91 72.8,1345.77 73.6,1345.5 74.4,1345.36 75.2,1346.35 76,1346.21 76.8,1346.08 77.6,1347.08 78.4,1347.03 79.2,1346.4 80,1345.36 80.8,1347.25 81.6,1347.26 82.4,1347 83.2,1347.79 84,1347.02 84.8,1347.08 85.6,1346.74 86.4,1346.98 87.2,1348.21 88,1347.96 88.8,1348.52 89.6,1348.42 90.4,1348.39 91.2,1347.58 92,1349.3 92.8,1348.53 93.6,1348.48 94.4,1349.32 95.2,1348.39 96,1349.24 96.8,1350.75 97.6,1351.07 98.4,1350.6 99.2,1350.5 100,1350.76 100.8,1349.94 101.6,1350.77 102.4,1349.99 103.2,1349.72 104,1350.89 104.8,1351.3 105.6,1350.9 106.4,1351.32 107.2,1351.79 108,1352.01 108.8,1351.07 109.6,1351.61 110.4,1352.93 111.2,1352.15 112,1351.34 112.8,1352.63 113.6,1351.05 114.4,1350.88 115.2,1350.61 116,1351.1 116.8,1351.45 117.6,1350.17 118.4,1350.04 119.2,1350.41 120,1351.54 120.8,1351.91 121.6,1352.4 122.4,1351.13 123.2,1351.46 124,1351.41 124.8,1351.75 125.6,1352.13 126.4,1352.21 127.2,1351.89 128,1352.36 128.7,1413.7 129.7,1400.32 130.5,1399.35 131.3,1398.15 132.1,1397 132.9,1396.38 133.7,1396.39 134.5,1395.54 135.3,1396.09 136.1,1395.3 136.9,1394.84 137.7,1394.59 138.5,1394.17 139.3,1394.53 140.1,1393.86 140.9,1394.32 141.7,1394.39 142.5,1393.96 143.1,1395.1 144.5,1321 145.5,1325.64 146.3,1329.45 147.1,1330.82 147.9,1332.92 148.7,1335.46 149.5,1336.96 150.3,1338.24 151.1,1339.12 151.9,1341.03 152.7,1342.01 153.5,1343.19 154.3,1343 155.1,1343.89 155.9,1343.79 156.7,1344.1 157.5,1343.37 158.3,1343.69 159.1,1343.8 159.9,1343.66 160.7,1343.34 161.5,1343.9 162.3,1344.52 163.1,1344.89 163.9,1345.51 164.7,1345.2 165.5,1346.31 166.3,1346.81 167.1,1346.1 167.9,1346.22 168.7,1347.42 169.5,1347.66 170.3,1347.6 171.1,1348.03 171.9,1347.76 172.7,1347.25 173.5,1346.56 174.3,1346.86 175.1,1347.04 175.9,1346.78 176.7,1347.55 177.5,1348.53 178.3,1347.68 179.1,1347.66 179.9,1348.4 180.7,1348.42 181.5,1349.63 182.3,1349.16 183.1,1349.6 183.9,1350.37 184.7,1350.52 185.5,1349.32 186.3,1349.59 187.1,1349.8 187.9,1350.47 188.7,1349.9 189.5,1350.82 190.3,1351.07 191.1,1350.62 191.9,1351.23 192.7,1350.45 193.5,1350.4 194.3,1351 195.1,1351.07 195.9,1351.56 196.7,1351.92 197.5,1351.72 198.3,1353.16 199.1,1353 199.9,1352.66 200.7,1353.71 201.5,1352.79 202.3,1352.71 203.5,1400.1 204.5,1395.78 205.3,1395.42 206.1,1395.68 206.9,1394.91 207.7,1394.71 208.5,1394.1 209.3,1393.69 210.1,1394.28 210.9,1392.69 211.7,1393.03 212.5,1392.58 213.3,1392.29 214.1,1393 214.9,1392.89 215.7,1392.96 216.5,1393.17 217.3,1393.94 218.1,1393.34 218.9,1393.04 219.7,1393.59 220.5,1393.39 221.3,1392.98 222.1,1392.84 222.9,1392.42 223.7,1392.35 224.5,1392.39 225.3,1391.78 226.1,1392.14 226.9,1392.76 227.7,1392.05 228.5,1392.02 229.3,1392.32 230.1,1392.87 230.9,1393.49 231.7,1393.1 232.5,1393.01 233.3,1392.31 234.1,1392.9 234.9,1392.83 235.7,1393.8 236.5,1393.23 237.3,1393.58 238.1,1392.99 238.9,1393.68 239.7,1393.88 240.5,1393.58 241.3,1393.15 242.1,1393.25 242.9,1393.5 243.7,1393.46 244.5,1393.29 245.3,1392.54 246.1,1393.32 246.9,1393 247.7,1392.6 248.5,1392.56 249.3,1392.84 250.1,1392.71 250.9,1392.55 251.7,1393.1 252.5,1393.57 253.3,1393.6 254.1,1394.14 254.9,1394.1 255.7,1394.14 256.5,1393.38 257.3,1393.27 258.1,1393.84 258.9,1393.43 259.7,1393.23 260.5,1393.18 261.3,1393.28 262.1,1393.32 262.9,1393.91 263.7,1393.39 264.5,1393.27 265.3,1392.99 266.1,1393.09 266.9,1392.53 267.7,1392.9 268.5,1392.56 269.3,1392.61 270.1,1392.44 270.9,1393.24 271.7,1393.13 272.5,1392.59 273.3,1392.71 274.1,1392.96 274.9,1392.62 275.7,1392.62 276.5,1392.79 277.3,1393.76 278.1,1393.4 278.9,1393.65 279.7,1393.38 280.5,1393.6 281.3,1394.2 282.1,1393.34 282.9,1393.67 283.7,1393.45 284.5,1392.51 285.3,1392.61 286.1,1393.17 286.9,1393.09 287.7,1392.37 288.5,1393.09 289.3,1392.51 290.1,1391.88 290.9,1392.09 291.7,1391.64 292.5,1392.6 293.3,1392.33 294.1,1392.63 294.9,1393.15 295.7,1393.1 296.5,1393.3 297.3,1392.81 298.1,1392.19 298.9,1392.53 299.7,1392.71 300.5,1392.99 301.3,1392.97 302.1,1393.42 302.9,1391.93 303.7,1391.88 304.5,1392.2 305.3,1392.36 306.1,1393.51 306.9,1393.51 307.7,1393.33 308.5,1392.77 309.3,1392.98 310.1,1392.74 310.9,1393.01 311.7,1392.4 312.5,1391.96 313.3,1392.62 314.1,1393.37 314.9,1393.24 315.7,1393 316.5,1392.96 317.3,1393.08 318.1,1393.51 318.9,1393.09 319.7,1392.25 320.5,1392.66 321.3,1392.66 322.1,1392.97 322.9,1392.75 323.7,1393.02 324.5,1393.5 325.3,1393.89 326.1,1393.23 326.9,1392.97 327.7,1392.91 328.5,1393.06 329.3,1392.72 330.1,1393.13 330.9,1393.05 331.7,1393.12 332.5,1392.99 333.3,1392.96 334.1,1393.2 334.9,1393.11 335.7,1392.91 336.5,1392.64 337.3,1393.08 338.1,1393.76 338.9,1393.76 339.7,1393.79 340.5,1392.63 341.3,1393.34 342.1,1392.64 342.9,1393.61 343.7,1393.13 344.5,1393.33 345.3,1393.15 346.1,1393.33 346.9,1393.29 347.7,1393.2 348.5,1392.28 349.3,1392.58 350.1,1393.28 350.9,1393.2 351.7,1393.08 352.5,1393.05 353.3,1393.6 354.1,1393.78 354.9,1393.85 355.7,1393.47 356.5,1393.31" fill="none" stroke="#222222" stroke-width="2.7" stroke-linejoin="round"/>
<polyline points="4.4,1393.06 6.5,1393.4 8.6,1393.74 9.2,1390.1 10.2,1312.33 10.4,1312.92 11.2,1314.74 12,1318.63 12.8,1320.89 13.6,1323.17 14.4,1325.26 15.2,1326.22 16,1327.94 16.8,1329.28 17.6,1329.65 18.4,1330.06 19.2,1330.12 20,1330.66 20.8,1331.53 21.6,1332.05 22.4,1333.17 23.2,1333.05 24,1335.18 24.8,1336.08 25.6,1336.24 26.4,1335.66 27.2,1335.65 28,1336.6 28.8,1335.62 29.6,1336.64 30.4,1336.02 31.2,1335.92 32,1336.84 32.8,1337.11 33.6,1337.99 34.4,1338.41 35.2,1338.29 36,1338.79 36.8,1338.62 37.6,1338.71 38.4,1339.79 39.2,1338.53 40,1339.65 40.8,1339 41.6,1341.09 42.4,1339.94 43.2,1339.87 44,1341.15 44.8,1341.85 45.6,1341.31 46.4,1342.15 47.2,1342.49 48,1342.71 48.8,1342.4 49.6,1341.65 50.4,1341.76 51.2,1341.92 52,1341.8 52.8,1342.8 53.6,1344.05 54.4,1343.16 55.2,1343.48 56,1344.95 56.8,1343.88 57.6,1343.99 58.4,1344.54 59.2,1344.3 60,1344.62 60.8,1343.73 61.6,1343.86 62.4,1344.74 63.2,1344.5 64,1345 64.8,1345.39 65.6,1346.4 66.4,1346.14 67.2,1346.93 68,1345.65 68.8,1345.73 69.6,1346.88 70.4,1346.91 71.2,1347.04 72,1346.79 72.8,1346.56 73.6,1348.02 74.4,1348.08 75.2,1346.89 76,1347.25 76.8,1347.24 77.6,1346.33 78.4,1346.08 79.2,1347.12 80,1347.8 80.8,1347.42 81.6,1347.91 82.4,1348.6 83.2,1349.2 84,1349.23 84.8,1349.4 85.6,1349.23 86.4,1349.57 87.2,1349.94 88,1348.68 88.8,1350.29 89.6,1349.77 90.4,1349.47 91.2,1350.32 92,1349.66 92.8,1349.7 93.6,1350.43 94.4,1350.68 95.2,1349.91 96,1350.22 96.8,1350.9 97.6,1352.03 98.4,1353.11 99.2,1352.04 100,1350.89 100.8,1350.56 101.6,1350.46 102.4,1350.68 103.2,1350.2 104,1350.51 104.8,1351.11 105.6,1350.21 106.4,1351.12 107.2,1351.19 108,1351.6 108.8,1350.48 109.6,1350.99 110.4,1352.32 111.2,1352.13 112,1352.82 112.8,1352.8 113.6,1351.93 114.4,1350.88 115.2,1352.32 116,1351.61 116.8,1351.38 117.6,1351.44 118.4,1351.04 119.2,1350.32 120,1350.81 120.8,1351.86 121.6,1351.39 122.4,1351.66 123.2,1350.7 124,1351.92 124.8,1352.55 125.6,1351.73 126.4,1352.27 127.2,1352.23 128,1352.8 128.7,1413.7 129.7,1399.54 130.5,1399.09 131.3,1398.63 132.1,1397.77 132.9,1397.26 133.7,1396.34 134.5,1396.27 135.3,1395.82 136.1,1395.51 136.9,1394.29 137.7,1393.84 138.5,1394.3 139.3,1394.56 140.1,1394.94 140.9,1394.84 141.7,1394.47 142.5,1395.12 143.3,1394.27 144.1,1393.61 144.9,1393.27 145.7,1393.23 146.5,1393.72 147.3,1393.78 148.1,1393.58 148.9,1393.13 149.7,1393.15 150.5,1393.25 151.3,1392.98 152.1,1393.58 152.9,1393.75 153.7,1393.64 154.5,1394.12 155.3,1393.59 156.1,1393.22 156.9,1393.12 157.7,1393.18 158.2,1395.1 159.6,1316.2 160.6,1320.4 161.4,1322.85 162.2,1324.62 163,1327.48 163.8,1328.4 164.6,1329.33 165.4,1331.38 166.2,1333.3 167,1333.6 167.8,1333.93 168.6,1335.19 169.4,1336.3 170.2,1337.07 171,1337.85 171.8,1338.01 172.6,1338.73 173.4,1339.09 174.2,1339.27 175,1339.85 175.8,1340.77 176.6,1340.78 177.4,1340.57 178.2,1340.41 179,1341.28 179.8,1341.46 180.6,1341.72 181.4,1341.27 182.2,1342.99 183,1343.61 183.8,1343.17 184.6,1343.57 185.4,1343.36 186.2,1344.01 187,1344.65 187.8,1344.46 188.6,1344.35 189.4,1344.55 190.2,1345.3 191,1344.78 191.8,1344.65 192.6,1344.84 193.4,1344.6 194.2,1344.69 195,1344.97 195.8,1345.38 196.6,1346.2 197.4,1346.18 198.2,1346.99 199,1345.91 199.8,1345.97 200.6,1346.28 201.4,1345.86 202.2,1347.41 203,1347.46 203.8,1347.83 204.6,1347.85 205.4,1348.03 206.2,1348.84 207,1348.31 207.8,1348.85 208.6,1348.27 209.4,1348.67 210.2,1348.77 211,1348.68 211.8,1348.73 212.6,1348.78 213.4,1350.18 214.2,1349.72 215,1348.67 215.8,1350.25 216.6,1350.34 217.4,1349.31 218.6,1400.1 219.6,1395.46 220.4,1395.61 221.2,1395.33 222,1395.07 222.8,1394.87 223.6,1394.15 224.4,1394.01 225.2,1393.9 226,1393.51 226.8,1393.8 227.6,1393.55 228.4,1393.56 229.2,1393.27 230,1393.24 230.8,1393.25 231.6,1393.01 232.4,1392.95 233.2,1393.35 234,1393.22 234.8,1392.43 235.6,1392.6 236.4,1392.42 237.2,1392.44 238,1392.31 238.8,1392.33 239.6,1392.15 240.4,1393.07 241.2,1393.12 242,1393.19 242.8,1393.04 243.6,1392.42 244.4,1393.1 245.2,1392.75 246,1393.31 246.8,1393.7 247.6,1393.15 248.4,1393.8 249.2,1393.2 250,1394.15 250.8,1394.23 251.6,1393.88 252.4,1393.82 253.2,1394.25 254,1393.41 254.8,1393.09 255.6,1393.48 256.4,1392.46 257.2,1392.2 258,1392.51 258.8,1392.83 259.6,1392.88 260.4,1392.13 261.2,1392.24 262,1392.08 262.8,1392.33 263.6,1393.16 264.4,1392.5 265.2,1392.06 266,1392.22 266.8,1392.71 267.6,1392.85 268.4,1392.97 269.2,1393.08 270,1393.29 270.8,1393.48 271.6,1394.04 272.4,1393.92 273.2,1394.16 274,1393.91 274.8,1393.13 275.6,1393.58 276.4,1393.57 277.2,1394.07 278,1393.48 278.8,1393.98 279.6,1393.99 280.4,1393.64 281.2,1393.42 282,1393.86 282.8,1394.2 283.6,1394.37 284.4,1393.86 285.2,1394.12 286,1394.22 286.8,1393.18 287.6,1393.07 288.4,1392.3 289.2,1392.51 290,1392.26 290.8,1391.52 291.6,1392.22 292.4,1392.2 293.2,1393.06 294,1393.31 294.8,1392.93 295.6,1392.78 296.4,1393.52 297.2,1393.1 298,1392.9 298.8,1393.19 299.6,1393.78 300.4,1392.77 301.2,1392.95 302,1393.78 302.8,1393.65 303.6,1392.85 304.4,1392.94 305.2,1393.16 306,1393.46 306.8,1392.93 307.6,1393.34 308.4,1393.14 309.2,1392.42 310,1392.94 310.8,1393.32 311.6,1393.03 312.4,1391.61 313.2,1392.36 314,1392.43 314.8,1392.69 315.6,1392.87 316.4,1392.77 317.2,1392.95 318,1393.2 318.8,1392.43 319.6,1392.34 320.4,1393.22 321.2,1393.09 322,1393.35 322.8,1393.89 323.6,1393.64 324.4,1393.4 325.2,1393.67 326,1393.22 326.8,1393.63 327.6,1392.49 328.4,1392.66 329.2,1392.34 330,1392.71 330.8,1393 331.6,1392.95 332.4,1392.78 333.2,1393.52 334,1393.4 334.8,1393.67 335.6,1393.41 336.4,1393.8 337.2,1393.28 338,1393.4 338.8,1393.2 339.6,1393.69 340.4,1393.94 341.2,1393.61 342,1393.36 342.8,1392.82 343.6,1392.67 344.4,1392.42 345.2,1393.36 346,1393.47 346.8,1393.13 347.6,1393.79 348.4,1392.73 349.2,1392.8 350,1393.31 350.8,1392.52 351.6,1392.63 352.4,1393.12 353.2,1393.43 354,1392.83 354.8,1393.18 355.6,1393.6 356.4,1393.54" fill="none" stroke="#222222" stroke-width="2.7" stroke-linejoin="round"/>
<polyline points="4.4,1392.8 6.5,1392.18 8.6,1391.76 9.2,1390.1 10.2,1312.85 10.4,1314.65 11.2,1317.54 12,1319.89 12.8,1322.66 13.6,1323.93 14.4,1325.82 15.2,1326.41 16,1327.7 16.8,1331.3 17.6,1332.17 18.4,1332.4 19.2,1332.45 20,1333.03 20.8,1332.87 21.6,1334.09 22.4,1334.14 23.2,1334.55 24,1335.32 24.8,1336.08 25.6,1336.58 26.4,1336.74 27.2,1336.35 28,1337.45 28.8,1337.31 29.6,1337.94 30.4,1338.15 31.2,1338.79 32,1338.28 32.8,1337.57 33.6,1339.03 34.4,1338.91 35.2,1339.55 36,1339.55 36.8,1339.57 37.6,1341.06 38.4,1340.36 39.2,1340.75 40,1340.76 40.8,1342.02 41.6,1341.99 42.4,1341.66 43.2,1340.93 44,1341.75 44.8,1342.09 45.6,1342.34 46.4,1342.84 47.2,1342.75 48,1342.4 48.8,1342.66 49.6,1343.83 50.4,1344.94 51.2,1344.88 52,1345.86 52.8,1344.56 53.6,1344.74 54.4,1345.33 55.2,1344.88 56,1345.97 56.8,1345.05 57.6,1345.92 58.4,1346.15 59.2,1346.64 60,1346.05 60.8,1346.66 61.6,1345.53 62.4,1346.06 63.2,1345.67 64,1345.33 64.8,1345.88 65.6,1347.16 66.4,1346.48 67.2,1347.18 68,1347.07 68.8,1347.31 69.6,1347.43 70.4,1347.69 71.2,1347.36 72,1348.37 72.8,1348.66 73.6,1348.96 74.4,1347.79 75.2,1348.08 76,1348.64 76.8,1348.8 77.6,1348.93 78.4,1348.37 79.2,1349.01 80,1348.61 80.8,1348.99 81.6,1349.31 82.4,1349.34 83.2,1350.47 84,1350.08 84.8,1350.48 85.6,1350.45 86.4,1349.85 87.2,1349.79 88,1350.18 88.8,1350.49 89.6,1349.11 90.4,1350.67 91.2,1350.09 92,1350.77 92.8,1349.76 93.6,1349.87 94.4,1351.11 95.2,1350.59 96,1351.16 96.8,1350.48 97.6,1351.86 98.4,1352.02 99.2,1352.17 100,1352.05 100.8,1351.96 101.6,1352.46 102.4,1353.49 103.2,1353.77 104,1354.15 104.8,1352.81 105.6,1352.49 106.4,1352.49 107.2,1351.78 108,1351.04 108.8,1351.43 109.6,1350.9 110.4,1351.46 111.2,1351.9 112,1352.6 112.8,1352.43 113.6,1352.45 114.4,1353.05 115.2,1352.92 116,1351.97 116.8,1352.95 117.6,1353.07 118.4,1352.41 119.2,1352.7 120,1353.51 120.8,1352.86 121.6,1353.19 122.4,1353.76 123.2,1353.94 124,1353.43 124.8,1352.83 125.6,1353.5 126.4,1351.84 127.2,1353.85 128,1353.99 128.7,1413.7 129.7,1399.66 130.5,1398.11 131.3,1397.36 132.1,1396.84 132.9,1396.44 133.7,1395.69 134.5,1394.88 135.3,1394.93 136.1,1394.77 136.9,1394.62 137.7,1394.52 138.5,1394.53 139.3,1393.58 140.1,1393.55 140.9,1393.7 141.7,1393.17 142.5,1392.26 143.3,1392.07 144.1,1392.5 144.9,1392.12 145.7,1392.79 146.5,1392.65 147.3,1392.05 148.1,1392.72 148.9,1393.34 149.7,1392.68 150.5,1392.96 151.3,1393.64 152.1,1393.57 152.9,1393.16 153.7,1392.89 154.5,1392.31 155.3,1392.56 156.1,1393.22 156.9,1393.23 157.7,1392.69 158.5,1392.9 159.3,1393.33 160.1,1394.01 160.9,1393.22 161.7,1393.41 162.5,1393.31 163.3,1392.86 164.1,1392.84 164.9,1392.92 165.7,1392.74 166.5,1393.66 167.3,1393.02 168.1,1393.42 168.9,1393.04 169.7,1393.01 170.5,1392.99 171.3,1393.43 172.1,1393.41 172.9,1393.56 173.7,1392.99 174.5,1393.74 175.3,1393.95 176.1,1393.24 176.9,1393.73 177.7,1393.4 178.5,1393.72 179.3,1393.75 180.1,1393.72 180.9,1393.1 181.7,1393.07 182.5,1393.44 183.3,1393 184.1,1393.63 184.9,1393.05 185.7,1393.28 186.5,1393.58 187.3,1392.99 188.1,1393.2 188.9,1392.86 189.7,1393.03 190.5,1393 191.3,1393.06 192.1,1393.13 192.9,1392.99 193.7,1392.94 194.5,1393.45 195.3,1393.29 196.1,1392.53 196.9,1392.52 197.7,1392.76 198.5,1392.65 199.3,1393.15 200.1,1392.82 200.9,1393.23 201.7,1393.49 202.5,1392.99 203.3,1392.95 203.8,1395.1 205.2,1313 206.2,1314.19 207,1315.62 207.8,1318.38 208.6,1320.58 209.4,1321.69 210.2,1323.75 211,1325.83 211.8,1327.08 212.6,1327.45 213.4,1327.86 214.2,1328.8 215,1329.17 215.8,1330.61 216.6,1330.89 217.4,1331.96 218.2,1331.66 219,1332.04 219.8,1333.11 220.6,1332.98 221.4,1333.66 222.2,1334.32 223,1334.29 223.8,1335.73 224.6,1335.69 225.4,1335.7 226.2,1336.11 227,1336.22 227.8,1335.11 228.6,1335.28 229.4,1336.58 230.2,1336.43 231,1336.87 231.8,1337.67 232.6,1337.45 233.4,1337.84 234.2,1337.95 235,1338.62 235.8,1337.75 236.6,1338.61 237.4,1338.29 238.2,1338.29 239,1339 239.8,1338.73 240.6,1337.77 241.4,1338.03 242.2,1338.8 243,1338.73 243.8,1339.25 244.6,1340.06 245.4,1340.49 246.2,1340.47 247,1340.61 247.8,1340.28 248.6,1341.81 249.4,1342.5 250.2,1343.01 251,1343.16 251.8,1342.65 252.6,1342.37 253.4,1343 254.2,1343.55 255,1342.45 255.8,1342.69 256.6,1343.41 257.4,1342.74 258.2,1341.94 259,1342.77 259.8,1342.4 260.6,1343.89 261.4,1343.61 262.2,1343.51 263,1344.51 264.2,1400.1 265.2,1397.35 266,1397.46 266.8,1396.73 267.6,1396.91 268.4,1395.82 269.2,1394.92 270,1394.98 270.8,1394.66 271.6,1395 272.4,1394.92 273.2,1394.41 274,1394.31 274.8,1394.06 275.6,1394.16 276.4,1393.74 277.2,1393.77 278,1393.75 278.8,1394.35 279.6,1393.82 280.4,1392.96 281.2,1393.42 282,1392.82 282.8,1392.69 283.6,1393.67 284.4,1393.17 285.2,1393.08 286,1392.95 286.8,1392.74 287.6,1392.56 288.4,1393.36 289.2,1393.3 290,1393.45 290.8,1393.14 291.6,1393.43 292.4,1392.81 293.2,1393.22 294,1392.54 294.8,1393.78 295.6,1394.1 296.4,1393.97 297.2,1392.97 298,1392.86 298.8,1393.05 299.6,1393.31 300.4,1393.56 301.2,1393.55 302,1393.02 302.8,1392.63 303.6,1392.77 304.4,1393.34 305.2,1393.21 306,1392.42 306.8,1392.61 307.6,1392.95 308.4,1393.12 309.2,1392.94 310,1393.5 310.8,1393.41 311.6,1393.22 312.4,1393.28 313.2,1392.78 314,1392.46 314.8,1392.1 315.6,1392.64 316.4,1393.26 317.2,1393.69 318,1393.28 318.8,1393.04 319.6,1393.41 320.4,1393.1 321.2,1392.82 322,1392.68 322.8,1393.08 323.6,1393.49 324.4,1393.23 325.2,1393.73 326,1394.36 326.8,1393.48 327.6,1394.22 328.4,1393.75 329.2,1393.39 330,1393.19 330.8,1393.25 331.6,1393.09 332.4,1391.47 333.2,1391.57 334,1391.95 334.8,1392.31 335.6,1392.77 336.4,1392.81 337.2,1392.33 338,1392.28 338.8,1392.85 339.6,1392.72 340.4,1393.05 341.2,1392.19 342,1392.2 342.8,1392.63 343.6,1392.82 344.4,1393.52 345.2,1392.52 346,1392.41 346.8,1392.83 347.6,1392.92 348.4,1392.19 349.2,1391.95 350,1393.39 350.8,1393.49 351.6,1393.23 352.4,1393.46 353.2,1393.53 354,1393.45 354.8,1393.77 355.6,1394.53 356.4,1394.07" fill="none" stroke="#222222" stroke-width="2.7" stroke-linejoin="round"/>
<polyline points="4.4,1392.28 6.5,1393.03 8.6,1392.16 9.2,1390.1 10.2,1313.38 10.4,1315.26 11.2,1317.34 12,1319.89 12.8,1321.77 13.6,1323.84 14.4,1325.64 15.2,1326.49 16,1329.07 16.8,1331 17.6,1332.47 18.4,1332.75 19.2,1332.66 20,1332.75 20.8,1334.02 21.6,1334.54 22.4,1335.69 23.2,1335.71 24,1336.31 24.8,1336.27 25.6,1336.95 26.4,1337.38 27.2,1337.72 28,1337.42 28.8,1337.39 29.6,1337.69 30.4,1338.27 31.2,1339.4 32,1339.54 32.8,1339.29 33.6,1339.76 34.4,1339.78 35.2,1339.85 36,1339.4 36.8,1340.47 37.6,1339.39 38.4,1340.9 39.2,1341.41 40,1340.52 40.8,1340.14 41.6,1340.8 42.4,1341.15 43.2,1341.58 44,1342.64 44.8,1342.42 45.6,1342.86 46.4,1343.14 47.2,1342.71 48,1342.52 48.8,1342.49 49.6,1342.22 50.4,1343.8 51.2,1344.36 52,1344.44 52.8,1344.68 53.6,1344.79 54.4,1345.14 55.2,1345.02 56,1344.8 56.8,1345.67 57.6,1344.04 58.4,1346.79 59.2,1345.76 60,1345.24 60.8,1346.8 61.6,1346.3 62.4,1345.41 63.2,1345.28 64,1346.19 64.8,1346.64 65.6,1346.96 66.4,1346.44 67.2,1347.44 68,1347.95 68.8,1347.64 69.6,1349.48 70.4,1349.66 71.2,1349.87 72,1349.47 72.8,1349.12 73.6,1349.69 74.4,1348.33 75.2,1348.26 76,1348.82 76.8,1349.06 77.6,1348.13 78.4,1347.39 79.2,1349.21 80,1348.95 80.8,1349.54 81.6,1350.3 82.4,1350.42 83.2,1350.38 84,1351.47 84.8,1351.3 85.6,1352.25 86.4,1352.2 87.2,1350.83 88,1352.65 88.8,1351.81 89.6,1352.1 90.4,1351.75 91.2,1352.59 92,1353.33 92.8,1353.66 93.6,1353.17 94.4,1352.11 95.2,1352.87 96,1352.46 96.8,1353.74 97.6,1352.89 98.4,1351.56 99.2,1351.55 100,1351.82 100.8,1351.35 101.6,1351.18 102.4,1351.09 103.2,1351.19 104,1351.33 104.8,1352.16 105.6,1352.77 106.4,1352.63 107.2,1353.23 108,1353.15 108.8,1353.77 109.6,1352.78 110.4,1353.11 111.2,1351.76 112,1352.13 112.8,1352.65 113.6,1353.23 114.4,1353.62 115.2,1352.76 116,1352.95 116.8,1353.28 117.6,1352.41 118.4,1352.46 119.2,1352.53 120,1353.4 120.8,1352.73 121.6,1354.17 122.4,1353.7 123.2,1353.89 124,1353.84 124.8,1354.41 125.6,1354.99 126.4,1354.5 127.2,1355.4 128,1355.36 128.7,1413.7 129.7,1400.2 130.5,1398.69 131.3,1397.88 132.1,1396.45 132.9,1395.96 133.7,1395.63 134.5,1394.77 135.3,1394.78 136.1,1394.92 136.9,1394.75 137.7,1394.12 138.5,1393.85 139.3,1394.15 140.1,1394.45 140.9,1394.09 141.7,1393.71 142.5,1393.67 143.3,1393.37 144.1,1393.66 144.9,1393.15 145.7,1393.31 146.5,1393.48 147.3,1393.2 148.1,1392.87 148.9,1392.96 149.7,1393.41 150.5,1393.28 151.3,1393.28 152.1,1393.44 152.9,1393.15 153.7,1393.12 154.5,1392.98 155.3,1392.86 156.1,1393.03 156.9,1393.23 157.7,1393.22 158.5,1393.3 159.3,1392.8 160.1,1392.9 160.9,1393.62 161.7,1393.36 162.5,1393.69 163.3,1393.52 164.1,1393.34 164.9,1393.03 165.7,1393.12 166.5,1394.07 167.3,1393.55 168.1,1393.2 168.9,1392.61 169.7,1392.43 170.5,1392.92 171.3,1392.82 172.1,1393.4 172.9,1393.06 173.7,1393.62 174.5,1393.14 175.3,1392.83 176.1,1392.31 176.9,1392.38 177.7,1393.35 178.5,1393.12 179.3,1393.66 180.1,1393.93 180.9,1393.42 181.7,1393.14 182.5,1392.93 183.3,1392.96 184.1,1392.71 184.9,1393.25 185.7,1393.06 186.5,1393.66 187.3,1393.37 188.1,1393.14 188.9,1392.97 189.7,1392.86 190.5,1392.73 191.3,1392.21 192.1,1393.25 192.9,1392.64 193.7,1393.33 194.5,1392.34 195.3,1393.18 196.1,1393.61 196.9,1392.38 197.7,1393.56 198.5,1393.03 199.3,1392.61 200.1,1392.39 200.9,1392.59 201.7,1392.6 202.5,1392.22 203.3,1392.99 204.1,1393.37 204.9,1393.02 205.7,1392.69 206.5,1393.29 207.3,1393.09 208.1,1392.96 208.9,1393.13 209.7,1392.31 210.5,1392.32 211.3,1393.56 212.1,1393.79 212.9,1393.69 213.7,1393.69 214.5,1393.88 215.3,1393.29 216.1,1393.49 216.9,1393.16 217.7,1393.15 218.5,1393.51 219.3,1393.84 220.1,1393.86 220.9,1394.13 221.7,1394.76 222.5,1394.26 223.3,1393.94 224.1,1393.12 224.9,1392.91 225.7,1393.9 226.5,1393.79 227.3,1393.46 228.1,1393.56 228.9,1393.97 229.7,1393.99 230.5,1393.14 231.3,1393.52 232.1,1392.99 232.9,1393.32 233.7,1393.55 234.5,1393.64 235.3,1393.09 236.1,1393.37 236.9,1392.93 237.7,1393.39 238.5,1393.47 239.3,1393.46 240.1,1393.41 240.9,1392.63 241.7,1392.59 242.5,1392.75 243.3,1392.89 244.1,1392.58 244.9,1392.39 245.7,1393.11 246.5,1392.74 247.3,1393.6 248.1,1393.44 248.9,1393.04 249.7,1392.95 250.5,1393.3 251.3,1392.99 252.1,1393.39 252.9,1393.4 253.7,1393.49 254.5,1393.38 255.3,1393.79 256.1,1392.79 256.9,1393.43 257.7,1392.44 258.5,1392.56 259.3,1392.32 260.1,1392.84 260.9,1393.65 261.7,1393.25 262.5,1393.44 263.3,1393.49 264.1,1393.4 264.9,1392.46 265.7,1392.33 266.5,1392.38 267.3,1392.83 268.1,1392.81 268.9,1392.5 269.7,1392.64 270.5,1392.66 271.3,1393.26 272.1,1392.52 272.9,1393.58 273.7,1394.3 274.5,1394.4 275.3,1393.06 276.1,1392.7 276.9,1392.67 277.7,1392.83 278.5,1395.1 279.9,1309.4 280.9,1311.78 281.7,1314.57 282.5,1316.6 283.3,1318.76 284.1,1319.69 284.9,1320.91 285.7,1322.72 286.5,1323.44 287.3,1324.5 288.1,1325.45 288.9,1326.54 289.7,1326.96 290.5,1327.73 291.3,1328.46 292.1,1328.65 292.9,1328.79 293.7,1329.69 294.5,1329.5 295.3,1330.57 296.1,1330.5 296.9,1331.06 297.7,1331.77 298.5,1332.4 299.3,1332.7 300.1,1333.48 300.9,1332.78 301.7,1333.21 302.5,1333.58 303.3,1334.3 304.1,1334 304.9,1333.73 305.7,1333.77 306.5,1334.06 307.3,1333.79 308.1,1334.19 308.9,1334.6 309.7,1334.56 310.5,1335.31 311.3,1335.93 312.1,1335.61 312.9,1336.17 313.7,1336.34 314.5,1336.36 315.3,1336.51 316.1,1336.8 316.9,1336.38 317.7,1336.55 318.5,1336.57 319.3,1337.83 320.1,1339.07 320.9,1338.56 321.7,1339.96 322.5,1339.45 323.3,1339.65 324.1,1339.04 324.9,1338.29 325.7,1338.69 326.5,1339.75 327.3,1340.82 328.1,1340.03 328.9,1339.88 329.7,1340.65 330.5,1339.58 331.3,1340.77 332.1,1340.95 332.9,1340.88 333.7,1341.98 334.5,1342.13 335.3,1340.89 336.1,1342.22 336.9,1342.54 337.7,1342.04 338.9,1400.1 339.9,1397.04 340.7,1396.58 341.5,1396.13 342.3,1394.97 343.1,1393.9 343.9,1394.72 344.7,1394.51 345.5,1394.56 346.3,1393.7 347.1,1393.61 347.9,1394.1 348.7,1393.96 349.5,1394.1 350.3,1392.72 351.1,1393.15 351.9,1392.93 352.7,1392.95 353.5,1392.83 354.3,1392.93 355.1,1392.39 355.9,1392.2 356.7,1392.9" fill="none" stroke="#222222" stroke-width="2.7" stroke-linejoin="round"/>
<text x="408.3" y="1045.8" font-size="42" text-anchor="start" font-weight="bold" fill="#000">h</text>
<line x1="551" y1="1084.9" x2="551" y2="1336.3" stroke="#000" stroke-width="3.6" stroke-linecap="butt"/>
<line x1="540.8" y1="1336.3" x2="551" y2="1336.3" stroke="#000" stroke-width="3.6" stroke-linecap="butt"/>
<text x="529.2" y="1344.4" font-size="29.5" text-anchor="end" font-weight="normal" fill="#000">0</text>
<line x1="540.8" y1="1286.36" x2="551" y2="1286.36" stroke="#000" stroke-width="3.6" stroke-linecap="butt"/>
<text x="529.2" y="1294.78" font-size="29.5" text-anchor="end" font-weight="normal" fill="#000">0.2</text>
<line x1="540.8" y1="1236.42" x2="551" y2="1236.42" stroke="#000" stroke-width="3.6" stroke-linecap="butt"/>
<text x="529.2" y="1245.16" font-size="29.5" text-anchor="end" font-weight="normal" fill="#000">0.4</text>
<line x1="540.8" y1="1186.48" x2="551" y2="1186.48" stroke="#000" stroke-width="3.6" stroke-linecap="butt"/>
<text x="529.2" y="1195.54" font-size="29.5" text-anchor="end" font-weight="normal" fill="#000">0.6</text>
<line x1="540.8" y1="1136.54" x2="551" y2="1136.54" stroke="#000" stroke-width="3.6" stroke-linecap="butt"/>
<text x="529.2" y="1145.92" font-size="29.5" text-anchor="end" font-weight="normal" fill="#000">0.8</text>
<line x1="540.8" y1="1086.6" x2="551" y2="1086.6" stroke="#000" stroke-width="3.6" stroke-linecap="butt"/>
<path d="M490.91 1082.97L490.91 1080.13L493.8 1079.04L495.92 1077.12L496.6 1075.38L499.17 1075.38L499.17 1096.3L496.51 1096.3L496.51 1081.4L494.1 1082.49Z" fill="#000"/>
<text x="504.6" y="1096.3" font-size="29.5" text-anchor="start" font-weight="normal" fill="#000">.</text>
<text x="512.8" y="1096.3" font-size="29.5" text-anchor="start" font-weight="normal" fill="#000">0</text>
<line x1="543" y1="1336.3" x2="898.6" y2="1336.3" stroke="#000" stroke-width="3.6" stroke-linecap="round"/>
<line x1="551" y1="1336.3" x2="551" y2="1346.7" stroke="#000" stroke-width="3.6" stroke-linecap="butt"/>
<text x="551" y="1380.3" font-size="29.5" text-anchor="middle" font-weight="normal" fill="#000">0</text>
<line x1="620.6" y1="1336.3" x2="620.6" y2="1346.7" stroke="#000" stroke-width="3.6" stroke-linecap="butt"/>
<text x="620.6" y="1380.3" font-size="29.5" text-anchor="middle" font-weight="normal" fill="#000">200</text>
<line x1="690.2" y1="1336.3" x2="690.2" y2="1346.7" stroke="#000" stroke-width="3.6" stroke-linecap="butt"/>
<text x="690.2" y="1380.3" font-size="29.5" text-anchor="middle" font-weight="normal" fill="#000">400</text>
<line x1="759.8" y1="1336.3" x2="759.8" y2="1346.7" stroke="#000" stroke-width="3.6" stroke-linecap="butt"/>
<text x="759.8" y="1380.3" font-size="29.5" text-anchor="middle" font-weight="normal" fill="#000">600</text>
<line x1="829.4" y1="1336.3" x2="829.4" y2="1346.7" stroke="#000" stroke-width="3.6" stroke-linecap="butt"/>
<text x="829.4" y="1380.3" font-size="29.5" text-anchor="middle" font-weight="normal" fill="#000">800</text>
<line x1="899" y1="1336.3" x2="899" y2="1346.7" stroke="#000" stroke-width="3.6" stroke-linecap="butt"/>
<path d="M868.91 1366.97L868.91 1364.13L871.8 1363.04L873.93 1361.12L874.6 1359.38L877.17 1359.38L877.17 1380.3L874.51 1380.3L874.51 1365.4L872.1 1366.49Z" fill="#000"/>
<text x="882.6" y="1380.3" font-size="29.5" text-anchor="start" font-weight="normal" fill="#000">0</text>
<text x="899" y="1380.3" font-size="29.5" text-anchor="start" font-weight="normal" fill="#000">0</text>
<text x="915.4" y="1380.3" font-size="29.5" text-anchor="start" font-weight="normal" fill="#000">0</text>
<text x="723.5" y="1422" font-size="29.5" text-anchor="middle" font-weight="normal" fill="#000">Interstep interval (ms)</text>
<text x="0" y="0" font-size="29.2" text-anchor="middle" font-weight="normal" fill="#000" transform="translate(433.2,1210.4) rotate(-90)">Normalized recovery</text>
<text x="0" y="0" font-size="29.2" text-anchor="middle" font-weight="normal" fill="#000" transform="translate(468.2,1211.7) rotate(-90)">from inactivation</text>
<line x1="551.7" y1="1240.17" x2="551.7" y2="1215.2" stroke="#ff0000" stroke-width="2.4" stroke-linecap="butt"/>
<line x1="546.2" y1="1240.17" x2="557.2" y2="1240.17" stroke="#ff0000" stroke-width="3.0" stroke-linecap="butt"/>
<line x1="546.2" y1="1215.2" x2="557.2" y2="1215.2" stroke="#ff0000" stroke-width="3.0" stroke-linecap="butt"/>
<rect x="547.95" y="1223.93" width="7.5" height="7.5" fill="#ff0000"/>
<line x1="552.74" y1="1223.93" x2="552.74" y2="1198.96" stroke="#ff0000" stroke-width="2.4" stroke-linecap="butt"/>
<line x1="547.24" y1="1223.93" x2="558.24" y2="1223.93" stroke="#ff0000" stroke-width="3.0" stroke-linecap="butt"/>
<line x1="547.24" y1="1198.96" x2="558.24" y2="1198.96" stroke="#ff0000" stroke-width="3.0" stroke-linecap="butt"/>
<rect x="548.99" y="1207.7" width="7.5" height="7.5" fill="#ff0000"/>
<line x1="554.48" y1="1208.95" x2="554.48" y2="1183.98" stroke="#ff0000" stroke-width="2.4" stroke-linecap="butt"/>
<line x1="548.98" y1="1208.95" x2="559.98" y2="1208.95" stroke="#ff0000" stroke-width="3.0" stroke-linecap="butt"/>
<line x1="548.98" y1="1183.98" x2="559.98" y2="1183.98" stroke="#ff0000" stroke-width="3.0" stroke-linecap="butt"/>
<rect x="550.73" y="1192.72" width="7.5" height="7.5" fill="#ff0000"/>
<line x1="556.22" y1="1192.22" x2="556.22" y2="1167.25" stroke="#ff0000" stroke-width="2.4" stroke-linecap="butt"/>
<line x1="550.72" y1="1192.22" x2="561.72" y2="1192.22" stroke="#ff0000" stroke-width="3.0" stroke-linecap="butt"/>
<line x1="550.72" y1="1167.25" x2="561.72" y2="1167.25" stroke="#ff0000" stroke-width="3.0" stroke-linecap="butt"/>
<rect x="552.47" y="1175.99" width="7.5" height="7.5" fill="#ff0000"/>
<line x1="557.96" y1="1176.49" x2="557.96" y2="1154.02" stroke="#ff0000" stroke-width="2.4" stroke-linecap="butt"/>
<line x1="552.46" y1="1176.49" x2="563.46" y2="1176.49" stroke="#ff0000" stroke-width="3.0" stroke-linecap="butt"/>
<line x1="552.46" y1="1154.02" x2="563.46" y2="1154.02" stroke="#ff0000" stroke-width="3.0" stroke-linecap="butt"/>
<rect x="554.21" y="1161.51" width="7.5" height="7.5" fill="#ff0000"/>
<line x1="561.44" y1="1166" x2="561.44" y2="1146.03" stroke="#ff0000" stroke-width="2.4" stroke-linecap="butt"/>
<line x1="555.94" y1="1166" x2="566.94" y2="1166" stroke="#ff0000" stroke-width="3.0" stroke-linecap="butt"/>
<line x1="555.94" y1="1146.03" x2="566.94" y2="1146.03" stroke="#ff0000" stroke-width="3.0" stroke-linecap="butt"/>
<rect x="557.69" y="1152.27" width="7.5" height="7.5" fill="#ff0000"/>
<line x1="568.4" y1="1155.52" x2="568.4" y2="1123.06" stroke="#ff0000" stroke-width="2.4" stroke-linecap="butt"/>
<line x1="562.9" y1="1155.52" x2="573.9" y2="1155.52" stroke="#ff0000" stroke-width="3.0" stroke-linecap="butt"/>
<line x1="562.9" y1="1123.06" x2="573.9" y2="1123.06" stroke="#ff0000" stroke-width="3.0" stroke-linecap="butt"/>
<rect x="564.65" y="1135.54" width="7.5" height="7.5" fill="#ff0000"/>
<line x1="585.8" y1="1137.79" x2="585.8" y2="1105.33" stroke="#ff0000" stroke-width="2.4" stroke-linecap="butt"/>
<line x1="580.3" y1="1137.79" x2="591.3" y2="1137.79" stroke="#ff0000" stroke-width="3.0" stroke-linecap="butt"/>
<line x1="580.3" y1="1105.33" x2="591.3" y2="1105.33" stroke="#ff0000" stroke-width="3.0" stroke-linecap="butt"/>
<rect x="582.05" y="1117.81" width="7.5" height="7.5" fill="#ff0000"/>
<line x1="620.6" y1="1123.81" x2="620.6" y2="1108.82" stroke="#ff0000" stroke-width="2.4" stroke-linecap="butt"/>
<line x1="615.1" y1="1123.81" x2="626.1" y2="1123.81" stroke="#ff0000" stroke-width="3.0" stroke-linecap="butt"/>
<line x1="615.1" y1="1108.82" x2="626.1" y2="1108.82" stroke="#ff0000" stroke-width="3.0" stroke-linecap="butt"/>
<rect x="616.85" y="1112.56" width="7.5" height="7.5" fill="#ff0000"/>
<line x1="725" y1="1115.32" x2="725" y2="1105.33" stroke="#ff0000" stroke-width="2.4" stroke-linecap="butt"/>
<line x1="719.5" y1="1115.32" x2="730.5" y2="1115.32" stroke="#ff0000" stroke-width="3.0" stroke-linecap="butt"/>
<line x1="719.5" y1="1105.33" x2="730.5" y2="1105.33" stroke="#ff0000" stroke-width="3.0" stroke-linecap="butt"/>
<rect x="721.25" y="1106.57" width="7.5" height="7.5" fill="#ff0000"/>
<line x1="899" y1="1089.6" x2="899" y2="1083.6" stroke="#ff0000" stroke-width="2.4" stroke-linecap="butt"/>
<line x1="893.5" y1="1089.6" x2="904.5" y2="1089.6" stroke="#ff0000" stroke-width="3.0" stroke-linecap="butt"/>
<line x1="893.5" y1="1083.6" x2="904.5" y2="1083.6" stroke="#ff0000" stroke-width="3.0" stroke-linecap="butt"/>
<rect x="895.25" y="1082.85" width="7.5" height="7.5" fill="#ff0000"/>
<line x1="552.74" y1="1290.11" x2="552.74" y2="1265.14" stroke="#000" stroke-width="2.4" stroke-linecap="butt"/>
<line x1="547.24" y1="1290.11" x2="558.24" y2="1290.11" stroke="#000" stroke-width="3.0" stroke-linecap="butt"/>
<line x1="547.24" y1="1265.14" x2="558.24" y2="1265.14" stroke="#000" stroke-width="3.0" stroke-linecap="butt"/>
<circle cx="552.74" cy="1277.62" r="3.9" fill="#000"/>
<line x1="554.48" y1="1254.65" x2="554.48" y2="1232.18" stroke="#000" stroke-width="2.4" stroke-linecap="butt"/>
<line x1="548.98" y1="1254.65" x2="559.98" y2="1254.65" stroke="#000" stroke-width="3.0" stroke-linecap="butt"/>
<line x1="548.98" y1="1232.18" x2="559.98" y2="1232.18" stroke="#000" stroke-width="3.0" stroke-linecap="butt"/>
<circle cx="554.48" cy="1243.41" r="3.9" fill="#000"/>
<line x1="557.96" y1="1236.92" x2="557.96" y2="1216.94" stroke="#000" stroke-width="2.4" stroke-linecap="butt"/>
<line x1="552.46" y1="1236.92" x2="563.46" y2="1236.92" stroke="#000" stroke-width="3.0" stroke-linecap="butt"/>
<line x1="552.46" y1="1216.94" x2="563.46" y2="1216.94" stroke="#000" stroke-width="3.0" stroke-linecap="butt"/>
<circle cx="557.96" cy="1226.93" r="3.9" fill="#000"/>
<line x1="561.44" y1="1215.45" x2="561.44" y2="1195.47" stroke="#000" stroke-width="2.4" stroke-linecap="butt"/>
<line x1="555.94" y1="1215.45" x2="566.94" y2="1215.45" stroke="#000" stroke-width="3.0" stroke-linecap="butt"/>
<line x1="555.94" y1="1195.47" x2="566.94" y2="1195.47" stroke="#000" stroke-width="3.0" stroke-linecap="butt"/>
<circle cx="561.44" cy="1205.46" r="3.9" fill="#000"/>
<line x1="568.4" y1="1187.23" x2="568.4" y2="1168.25" stroke="#000" stroke-width="2.4" stroke-linecap="butt"/>
<line x1="562.9" y1="1187.23" x2="573.9" y2="1187.23" stroke="#000" stroke-width="3.0" stroke-linecap="butt"/>
<line x1="562.9" y1="1168.25" x2="573.9" y2="1168.25" stroke="#000" stroke-width="3.0" stroke-linecap="butt"/>
<circle cx="568.4" cy="1177.74" r="3.9" fill="#000"/>
<line x1="585.8" y1="1169.75" x2="585.8" y2="1154.77" stroke="#000" stroke-width="2.4" stroke-linecap="butt"/>
<line x1="580.3" y1="1169.75" x2="591.3" y2="1169.75" stroke="#000" stroke-width="3.0" stroke-linecap="butt"/>
<line x1="580.3" y1="1154.77" x2="591.3" y2="1154.77" stroke="#000" stroke-width="3.0" stroke-linecap="butt"/>
<circle cx="585.8" cy="1162.26" r="3.9" fill="#000"/>
<line x1="620.6" y1="1146.78" x2="620.6" y2="1131.8" stroke="#000" stroke-width="2.4" stroke-linecap="butt"/>
<line x1="615.1" y1="1146.78" x2="626.1" y2="1146.78" stroke="#000" stroke-width="3.0" stroke-linecap="butt"/>
<line x1="615.1" y1="1131.8" x2="626.1" y2="1131.8" stroke="#000" stroke-width="3.0" stroke-linecap="butt"/>
<circle cx="620.6" cy="1139.29" r="3.9" fill="#000"/>
<line x1="725" y1="1131.3" x2="725" y2="1116.31" stroke="#000" stroke-width="2.4" stroke-linecap="butt"/>
<line x1="719.5" y1="1131.3" x2="730.5" y2="1131.3" stroke="#000" stroke-width="3.0" stroke-linecap="butt"/>
<line x1="719.5" y1="1116.31" x2="730.5" y2="1116.31" stroke="#000" stroke-width="3.0" stroke-linecap="butt"/>
<circle cx="725" cy="1123.81" r="3.9" fill="#000"/>
<line x1="899" y1="1092.34" x2="899" y2="1086.35" stroke="#000" stroke-width="2.4" stroke-linecap="butt"/>
<line x1="893.5" y1="1092.34" x2="904.5" y2="1092.34" stroke="#000" stroke-width="3.0" stroke-linecap="butt"/>
<line x1="893.5" y1="1086.35" x2="904.5" y2="1086.35" stroke="#000" stroke-width="3.0" stroke-linecap="butt"/>
<circle cx="899" cy="1089.35" r="3.9" fill="#000"/>
<polyline points="551,1336.3 551.17,1318.84 551.35,1303.56 551.52,1290.18 551.7,1278.43 551.87,1268.11 552.04,1259.03 552.22,1251.02 552.39,1243.94 552.57,1237.67 552.74,1232.1 552.91,1227.15 553.09,1222.72 553.26,1218.76 553.44,1215.19 553.61,1211.98 553.78,1209.07 553.96,1206.43 554.13,1204.01 554.31,1201.8 554.48,1199.77 554.65,1197.88 554.83,1196.14 555,1194.51 555.18,1192.98 555.35,1191.54 555.52,1190.19 555.7,1188.9 555.87,1187.68 556.05,1186.51 556.22,1185.39 556.39,1184.32 556.57,1183.28 556.74,1182.28 556.92,1181.31 557.09,1180.37 557.26,1179.45 557.44,1178.55 557.61,1177.68 557.79,1176.83 557.96,1175.99 558.66,1172.8 559.35,1169.81 560.05,1166.99 560.74,1164.3 561.44,1161.74 562.14,1159.29 562.83,1156.95 563.53,1154.71 564.22,1152.56 564.92,1150.5 565.62,1148.53 566.31,1146.64 567.01,1144.83 567.7,1143.09 568.4,1141.43 569.1,1139.84 569.79,1138.31 570.49,1136.84 571.18,1135.44 571.88,1134.09 572.58,1132.8 573.27,1131.57 573.97,1130.38 574.66,1129.25 575.36,1128.16 576.06,1127.12 576.75,1126.12 577.45,1125.16 578.14,1124.24 578.84,1123.36 579.54,1122.52 580.23,1121.71 580.93,1120.94 581.62,1120.2 582.32,1119.48 583.02,1118.8 583.71,1118.15 584.41,1117.52 585.1,1116.92 585.8,1116.35 586.5,1115.79 587.19,1115.27 587.89,1114.76 588.58,1114.27 589.28,1113.81 589.98,1113.36 590.67,1112.93 591.37,1112.53 592.06,1112.13 592.76,1111.76 593.46,1111.4 594.15,1111.05 594.85,1110.72 595.54,1110.4 596.24,1110.1 596.94,1109.8 597.63,1109.53 598.33,1109.26 599.02,1109 599.72,1108.75 600.42,1108.52 601.11,1108.29 601.81,1108.08 602.5,1107.87 603.2,1107.67 603.9,1107.48 604.59,1107.3 605.29,1107.12 605.98,1106.95 606.68,1106.79 607.38,1106.64 608.07,1106.49 608.77,1106.35 609.46,1106.21 610.16,1106.08 610.86,1105.96 611.55,1105.84 612.25,1105.72 612.94,1105.61 613.64,1105.51 614.34,1105.41 615.03,1105.31 615.73,1105.22 616.42,1105.13 617.12,1105.04 617.82,1104.96 618.51,1104.88 619.21,1104.81 619.9,1104.74 620.6,1104.67 623.38,1104.42 626.17,1104.21 628.95,1104.03 631.74,1103.88 634.52,1103.76 637.3,1103.65 640.09,1103.56 642.87,1103.49 645.66,1103.42 648.44,1103.37 651.22,1103.33 654.01,1103.29 656.79,1103.25 659.58,1103.23 662.36,1103.2 665.14,1103.19 667.93,1103.17 670.71,1103.15 673.5,1103.14 676.28,1103.13 679.06,1103.13 681.85,1103.12 684.63,1103.11 687.42,1103.11 690.2,1103.1 692.98,1103.1 695.77,1103.1 698.55,1103.09 701.34,1103.09 704.12,1103.09 706.9,1103.09 709.69,1103.09 712.47,1103.09 715.26,1103.09 718.04,1103.08 720.82,1103.08 723.61,1103.08 726.39,1103.08 729.18,1103.08 731.96,1103.08 734.74,1103.08 737.53,1103.08 740.31,1103.08 743.1,1103.08 745.88,1103.08 748.66,1103.08 751.45,1103.08 754.23,1103.08 757.02,1103.08 759.8,1103.08 762.58,1103.08 765.37,1103.08 768.15,1103.08 770.94,1103.08 773.72,1103.08 776.5,1103.08 779.29,1103.08 782.07,1103.08 784.86,1103.08 787.64,1103.08 790.42,1103.08 793.21,1103.08 795.99,1103.08 798.78,1103.08 801.56,1103.08 804.34,1103.08 807.13,1103.08 809.91,1103.08 812.7,1103.08 815.48,1103.08 818.26,1103.08 821.05,1103.08 823.83,1103.08 826.62,1103.08 829.4,1103.08 832.18,1103.08 834.97,1103.08 837.75,1103.08 840.54,1103.08 843.32,1103.08 846.1,1103.08 848.89,1103.08 851.67,1103.08 854.46,1103.08 857.24,1103.08 860.02,1103.08 862.81,1103.08 865.59,1103.08 868.38,1103.08 871.16,1103.08 873.94,1103.08 876.73,1103.08 879.51,1103.08 882.3,1103.08 885.08,1103.08 887.86,1103.08 890.65,1103.08 893.43,1103.08 896.22,1103.08 899,1103.08" fill="none" stroke="#ff0000" stroke-width="3.4" stroke-linejoin="round"/>
<polyline points="551,1336.3 551.17,1331.43 551.35,1326.71 551.52,1322.13 551.7,1317.69 551.87,1313.38 552.04,1309.2 552.22,1305.15 552.39,1301.21 552.57,1297.4 552.74,1293.69 552.91,1290.1 553.09,1286.61 553.26,1283.23 553.44,1279.95 553.61,1276.76 553.78,1273.67 553.96,1270.68 554.13,1267.77 554.31,1264.94 554.48,1262.2 554.65,1259.54 554.83,1256.96 555,1254.45 555.18,1252.02 555.35,1249.66 555.52,1247.37 555.7,1245.15 555.87,1242.99 556.05,1240.89 556.22,1238.86 556.39,1236.88 556.57,1234.97 556.74,1233.1 556.92,1231.3 557.09,1229.54 557.26,1227.83 557.44,1226.18 557.61,1224.57 557.79,1223.01 557.96,1221.49 558.66,1215.85 559.35,1210.82 560.05,1206.33 560.74,1202.33 561.44,1198.74 562.14,1195.54 562.83,1192.66 563.53,1190.08 564.22,1187.76 564.92,1185.66 565.62,1183.77 566.31,1182.05 567.01,1180.5 567.7,1179.08 568.4,1177.79 569.1,1176.61 569.79,1175.52 570.49,1174.52 571.18,1173.59 571.88,1172.73 572.58,1171.93 573.27,1171.19 573.97,1170.49 574.66,1169.83 575.36,1169.21 576.06,1168.62 576.75,1168.06 577.45,1167.52 578.14,1167.01 578.84,1166.52 579.54,1166.04 580.23,1165.59 580.93,1165.14 581.62,1164.71 582.32,1164.29 583.02,1163.88 583.71,1163.48 584.41,1163.09 585.1,1162.71 585.8,1162.33 586.5,1161.96 587.19,1161.6 587.89,1161.24 588.58,1160.88 589.28,1160.53 589.98,1160.18 590.67,1159.84 591.37,1159.5 592.06,1159.16 592.76,1158.83 593.46,1158.49 594.15,1158.16 594.85,1157.84 595.54,1157.51 596.24,1157.19 596.94,1156.87 597.63,1156.55 598.33,1156.23 599.02,1155.91 599.72,1155.6 600.42,1155.29 601.11,1154.98 601.81,1154.67 602.5,1154.36 603.2,1154.05 603.9,1153.75 604.59,1153.44 605.29,1153.14 605.98,1152.84 606.68,1152.54 607.38,1152.24 608.07,1151.94 608.77,1151.65 609.46,1151.35 610.16,1151.06 610.86,1150.77 611.55,1150.47 612.25,1150.18 612.94,1149.9 613.64,1149.61 614.34,1149.32 615.03,1149.04 615.73,1148.75 616.42,1148.47 617.12,1148.19 617.82,1147.9 618.51,1147.62 619.21,1147.34 619.9,1147.07 620.6,1146.79 623.38,1145.69 626.17,1144.61 628.95,1143.55 631.74,1142.5 634.52,1141.47 637.3,1140.46 640.09,1139.46 642.87,1138.47 645.66,1137.51 648.44,1136.55 651.22,1135.61 654.01,1134.69 656.79,1133.77 659.58,1132.88 662.36,1131.99 665.14,1131.12 667.93,1130.27 670.71,1129.42 673.5,1128.59 676.28,1127.77 679.06,1126.97 681.85,1126.18 684.63,1125.39 687.42,1124.63 690.2,1123.87 692.98,1123.12 695.77,1122.39 698.55,1121.67 701.34,1120.95 704.12,1120.25 706.9,1119.56 709.69,1118.88 712.47,1118.21 715.26,1117.55 718.04,1116.9 720.82,1116.26 723.61,1115.64 726.39,1115.02 729.18,1114.4 731.96,1113.8 734.74,1113.21 737.53,1112.63 740.31,1112.06 743.1,1111.49 745.88,1110.93 748.66,1110.39 751.45,1109.85 754.23,1109.32 757.02,1108.79 759.8,1108.28 762.58,1107.77 765.37,1107.27 768.15,1106.78 770.94,1106.29 773.72,1105.82 776.5,1105.35 779.29,1104.88 782.07,1104.43 784.86,1103.98 787.64,1103.54 790.42,1103.1 793.21,1102.68 795.99,1102.26 798.78,1101.84 801.56,1101.43 804.34,1101.03 807.13,1100.63 809.91,1100.24 812.7,1099.86 815.48,1099.48 818.26,1099.11 821.05,1098.74 823.83,1098.38 826.62,1098.02 829.4,1097.67 832.18,1097.33 834.97,1096.99 837.75,1096.65 840.54,1096.32 843.32,1096 846.1,1095.68 848.89,1095.36 851.67,1095.05 854.46,1094.75 857.24,1094.45 860.02,1094.15 862.81,1093.86 865.59,1093.58 868.38,1093.29 871.16,1093.02 873.94,1092.74 876.73,1092.47 879.51,1092.21 882.3,1091.94 885.08,1091.69 887.86,1091.43 890.65,1091.18 893.43,1090.94 896.22,1090.7 899,1090.46" fill="none" stroke="#000" stroke-width="3.4" stroke-linejoin="round"/>
<text x="981.2" y="1047.6" font-size="42" text-anchor="start" font-weight="bold" fill="#000">i</text>
<line x1="1102.4" y1="1098.8" x2="1102.4" y2="1337.9" stroke="#000" stroke-width="3.6" stroke-linecap="butt"/>
<line x1="1089.6" y1="1337.9" x2="1102.4" y2="1337.9" stroke="#000" stroke-width="3.6" stroke-linecap="butt"/>
<text x="1080.6" y="1346" font-size="29.5" text-anchor="end" font-weight="normal" fill="#000">0</text>
<line x1="1089.6" y1="1278.55" x2="1102.4" y2="1278.55" stroke="#000" stroke-width="3.6" stroke-linecap="butt"/>
<text x="1080.6" y="1287.05" font-size="29.5" text-anchor="end" font-weight="normal" fill="#000">20</text>
<line x1="1089.6" y1="1219.2" x2="1102.4" y2="1219.2" stroke="#000" stroke-width="3.6" stroke-linecap="butt"/>
<text x="1080.6" y="1228.1" font-size="29.5" text-anchor="end" font-weight="normal" fill="#000">40</text>
<line x1="1089.6" y1="1159.85" x2="1102.4" y2="1159.85" stroke="#000" stroke-width="3.6" stroke-linecap="butt"/>
<text x="1080.6" y="1169.15" font-size="29.5" text-anchor="end" font-weight="normal" fill="#000">60</text>
<line x1="1089.6" y1="1100.5" x2="1102.4" y2="1100.5" stroke="#000" stroke-width="3.6" stroke-linecap="butt"/>
<text x="1080.6" y="1110.2" font-size="29.5" text-anchor="end" font-weight="normal" fill="#000">80</text>
<line x1="1091.4" y1="1337.9" x2="1468.4" y2="1337.9" stroke="#000" stroke-width="3.6" stroke-linecap="round"/>
<line x1="1207.7" y1="1337.9" x2="1207.7" y2="1347.5" stroke="#000" stroke-width="3.6" stroke-linecap="butt"/>
<line x1="1366.2" y1="1337.9" x2="1366.2" y2="1347.5" stroke="#000" stroke-width="3.6" stroke-linecap="butt"/>
<text x="1208.6" y="1381.6" font-size="29.5" text-anchor="middle" font-weight="normal" fill="#000">WT</text>
<text x="1364.1" y="1381.6" font-size="29.5" text-anchor="middle" font-weight="normal" fill="#000" letter-spacing="0.25">Kv4.2TA</text>
<text x="0" y="0" font-size="29.5" text-anchor="middle" font-weight="normal" fill="#000" transform="translate(1021,1219.6) rotate(-90)">Tau (ms)</text>
<line x1="1210" y1="1084.6" x2="1367.8" y2="1084.6" stroke="#000" stroke-width="1.8" stroke-linecap="butt"/>
<path d="M1277.5 1055.7L1277.5 1048.1M1277.5 1055.7L1284.73 1053.35M1277.5 1055.7L1281.97 1061.85M1277.5 1055.7L1273.03 1061.85M1277.5 1055.7L1270.27 1053.35" stroke="#000" stroke-width="3.0" fill="none" stroke-linecap="butt"/>
<path d="M1303.3 1055.7L1303.3 1048.1M1303.3 1055.7L1310.53 1053.35M1303.3 1055.7L1307.77 1061.85M1303.3 1055.7L1298.83 1061.85M1303.3 1055.7L1296.07 1053.35" stroke="#000" stroke-width="3.0" fill="none" stroke-linecap="butt"/>
<circle cx="1207.7" cy="1119.4" r="4.85" fill="#000"/>
<circle cx="1207.7" cy="1153.6" r="4.85" fill="#000"/>
<circle cx="1207.7" cy="1204.8" r="4.85" fill="#000"/>
<circle cx="1214.7" cy="1232.3" r="4.85" fill="#000"/>
<circle cx="1200.6" cy="1238.7" r="4.85" fill="#000"/>
<circle cx="1200.6" cy="1254.2" r="4.85" fill="#000"/>
<circle cx="1214.7" cy="1267" r="4.85" fill="#000"/>
<circle cx="1200.6" cy="1293.8" r="4.85" fill="#000"/>
<circle cx="1214.7" cy="1289.5" r="4.85" fill="#000"/>
<rect x="1361.4" y="1230.9" width="9.2" height="9.2" fill="#ff0000"/>
<rect x="1354.3" y="1270.8" width="9.2" height="9.2" fill="#ff0000"/>
<rect x="1368.4" y="1270.8" width="9.2" height="9.2" fill="#ff0000"/>
<rect x="1361.4" y="1286.7" width="9.2" height="9.2" fill="#ff0000"/>
<rect x="1331.4" y="1292.7" width="9.2" height="9.2" fill="#ff0000"/>
<rect x="1390.3" y="1289.5" width="9.2" height="9.2" fill="#ff0000"/>
<rect x="1375.5" y="1293.1" width="9.2" height="9.2" fill="#ff0000"/>
<rect x="1346.2" y="1301.9" width="9.2" height="9.2" fill="#ff0000"/>
<rect x="1361.4" y="1303.3" width="9.2" height="9.2" fill="#ff0000"/>
<rect x="1354.3" y="1323.8" width="9.2" height="9.2" fill="#ff0000"/>
<rect x="1368.4" y="1323.8" width="9.2" height="9.2" fill="#ff0000"/>
</svg></body></html>
